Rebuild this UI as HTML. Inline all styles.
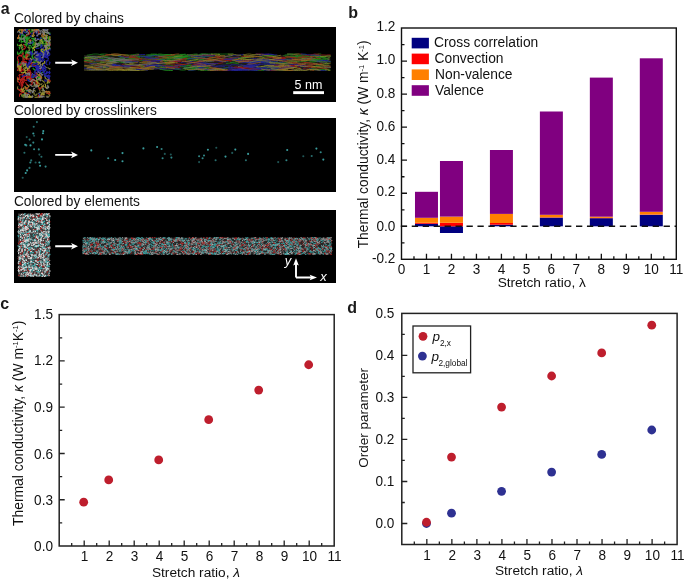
<!DOCTYPE html>
<html><head><meta charset="utf-8"><style>
html,body{margin:0;padding:0;background:#fff;}
svg{display:block;filter:blur(0.3px);}
text{font-family:"Liberation Sans",sans-serif;}
</style></head><body>
<svg width="685" height="582" viewBox="0 0 685 582" font-family="Liberation Sans, sans-serif">
<text x="0.8" y="13.9" font-size="16" font-weight="bold" fill="#1a1a1a">a</text>
<text x="13.9" y="22.7" font-size="13.75" fill="#111">Colored by chains</text>
<text x="13.9" y="114.5" font-size="13.75" fill="#111">Colored by crosslinkers</text>
<text x="13.9" y="205.5" font-size="13.75" fill="#111">Colored by elements</text>
<rect x="14" y="27" width="322" height="75" fill="#000"/>
<rect x="14" y="118" width="322" height="74" fill="#000"/>
<rect x="14" y="210" width="322" height="73" fill="#000"/>
<path d="M55.2 61.75H72.4L71 59.400000000000006L78 62.7L71 66.0L72.4 63.650000000000006H55.2Z" fill="#fff"/>
<path d="M55.2 153.95000000000002H72.4L71 151.6L78 154.9L71 158.20000000000002L72.4 155.85H55.2Z" fill="#fff"/>
<path d="M55.2 245.35000000000002H72.4L71 243.0L78 246.3L71 249.60000000000002L72.4 247.25H55.2Z" fill="#fff"/>
<defs><filter id="bl" x="-5%" y="-5%" width="110%" height="110%"><feGaussianBlur stdDeviation="0.45"/></filter><filter id="bl2"><feGaussianBlur stdDeviation="0.35"/></filter></defs>
<g filter="url(#bl)">
<path d="M28.0 39.7L27.0 39.0L26.2 37.9L27.1 37.0M24.5 35.3L25.7 35.7L25.9 37.0L27.2 37.2L28.1 36.3M18.2 60.8L17.5 61.9L17.7 63.2L17.5 64.2M26.5 57.7L26.7 56.4L25.6 55.6L24.4 56.1L24.0 57.3L23.6 58.5L22.9 59.6M22.7 96.8L21.7 96.0L22.0 94.7L23.3 95.1L24.1 96.1L25.3 96.6L26.5 97.2M44.4 43.8L43.5 42.8L42.3 42.4L41.1 41.8L41.2 40.5L39.9 40.4M34.0 46.3L34.9 47.3L36.1 47.1L37.4 46.6L38.4 45.9L39.1 44.8M47.6 47.7L48.1 48.9L49.3 49.4L50.0 48.6L50.0 49.5M41.6 46.8L40.5 46.1L39.5 45.3L40.3 44.3M37.0 76.5L37.9 77.4L39.2 77.4L39.2 78.7L37.9 78.7M40.0 45.1L41.0 44.2L41.6 43.1L41.9 41.8L40.7 41.4M49.1 36.2L48.7 37.5L48.5 38.8L48.4 40.1L49.6 40.5L49.4 41.8L50.0 42.6M49.3 93.0L50.0 93.6L49.3 94.7L48.3 93.8L47.0 93.4L47.3 92.1L48.6 92.2M35.5 43.3L34.4 42.6L33.7 41.5L32.5 41.1L32.1 42.3L30.8 42.0L30.1 43.1M32.8 52.8L32.7 54.1L32.7 55.4L31.9 56.5L32.8 57.5L33.0 58.7M25.4 41.3L26.4 42.2L27.2 43.2L26.4 44.2L25.1 44.3L23.9 44.7M47.6 44.9L46.8 43.9L45.7 43.2L45.1 44.3L45.4 45.6L44.4 46.4M19.7 63.1L20.8 63.7L21.1 65.0L22.1 65.8L21.3 66.9M33.6 42.2L33.0 41.1L32.8 39.8L34.0 39.4L33.7 38.1L32.4 38.5L31.1 38.5M32.0 45.4L33.2 44.9L34.5 45.1L35.1 43.9L36.4 43.9M18.7 52.6L19.4 53.7L18.4 54.5L17.5 54.0L17.5 52.8L17.5 51.6M39.2 57.8L39.9 58.9L39.6 60.1L38.3 60.5L37.0 60.1L35.7 60.3M32.9 67.8L33.4 69.0L34.7 69.4L35.3 70.5L34.4 71.4M33.9 74.1L34.2 75.3L33.4 76.3L32.5 77.3L33.5 78.2M25.7 51.5L26.5 52.5L25.6 53.4L25.9 54.7L27.0 55.4L28.1 56.0L29.4 56.0M18.7 41.8L19.7 41.0L19.4 39.8L20.3 38.8L19.6 37.7L19.0 36.6M29.1 44.7L28.9 46.0L28.9 47.3L30.1 47.8L29.7 49.0M25.4 39.6L26.7 39.8L28.0 39.6L28.7 38.5L27.6 37.9M22.1 31.4L22.7 30.3L21.6 29.6L20.8 29.5M25.5 43.3L26.5 42.5L26.8 41.2L25.6 40.7M46.3 45.6L47.4 45.1L48.7 45.0L49.7 45.9L48.8 46.8L47.5 46.9M23.9 39.7L23.4 38.5L22.2 38.2L21.2 37.4L20.1 38.2L20.2 39.5M30.1 31.8L29.7 30.6L29.8 29.5L29.8 29.5L28.5 29.5L27.5 29.5L26.3 29.5M23.4 37.9L22.3 38.6L21.4 39.6L20.1 39.4L19.3 38.4L18.9 37.2M25.6 58.2L24.6 57.4L25.1 56.2L26.3 56.4L27.5 55.8L26.8 54.7L27.6 53.6M47.0 36.7L46.5 37.9L45.3 37.5L44.1 37.0L43.3 38.1M46.7 39.9L46.8 41.2L45.5 41.5L44.5 40.7L43.4 41.4L42.3 40.7L41.7 39.5M25.1 38.9L24.7 37.7L25.2 36.5L24.6 35.3M25.7 33.1L25.9 31.8L26.1 30.5L25.4 29.5L24.7 29.5L25.8 29.5M20.8 41.8L22.1 41.8L23.3 41.2L24.3 42.0M29.0 33.7L30.1 33.0L31.0 32.1L32.2 31.6L32.4 30.3L31.3 29.5M28.4 40.9L27.1 41.3L27.1 42.6L26.9 43.9L26.3 45.0L25.0 45.1M36.1 38.9L34.8 38.5L34.3 39.7L35.3 40.4L36.1 41.5M33.6 48.1L32.5 48.7L33.0 49.9L32.5 51.1L32.4 52.4M23.0 50.6L23.0 51.9L22.0 52.8L22.0 54.1M45.8 74.5L45.4 75.7L45.3 77.0L45.2 78.3M22.5 42.3L21.2 42.2L21.4 40.9L21.0 39.7L20.6 38.4L21.6 37.6L21.2 36.3M21.0 36.3L21.9 35.4L23.2 35.8L23.7 34.6L22.4 34.2L22.0 33.0L21.0 32.2M18.1 44.4L17.5 44.4L17.5 45.3L18.4 46.2M40.9 44.5L41.1 45.8L42.4 45.8L42.9 44.6L43.0 43.3L41.7 43.4L41.2 42.2M30.4 54.1L29.2 54.7L28.6 53.6L27.7 52.7L28.4 51.6L29.4 50.7L29.9 49.6M32.7 52.9L31.5 52.2L30.5 53.1L29.2 53.0L29.0 54.3L29.7 55.4M41.4 77.8L40.2 77.3L39.9 76.0L38.6 75.8M45.3 70.7L44.1 71.2L43.4 72.4L42.1 72.5L41.1 73.3M23.0 53.0L23.1 54.3L23.2 55.6L23.5 56.9L22.8 58.0L24.0 58.6M26.9 53.9L27.2 52.7L26.1 52.1L24.8 52.3M29.2 45.8L30.4 45.3L31.2 46.4L31.7 47.6L33.0 47.3L33.7 48.4M25.7 35.9L24.5 35.4L23.3 35.1L22.1 34.7L21.4 33.5L21.8 32.3M23.7 61.7L22.5 61.4L21.4 62.2L20.8 63.4L22.0 63.9L23.0 64.7M48.3 78.4L49.2 79.4L48.9 80.6L50.0 81.3L49.5 82.5L48.4 83.2M25.8 42.6L26.6 41.6L25.8 40.5L26.2 39.3L25.4 38.3L24.7 37.2L23.5 36.8M33.2 44.9L33.2 43.6L32.0 43.1L30.7 43.1M28.0 88.3L26.7 88.3L25.5 89.0L26.1 90.1L27.0 91.1L28.0 90.2L29.2 89.8M26.4 46.6L26.8 45.4L26.7 44.1L28.0 44.1M45.5 31.6L46.1 32.7L47.3 33.2L48.6 33.5L49.7 32.8L50.0 33.6L50.0 34.5M25.6 51.2L26.9 50.9L27.8 51.8L27.3 53.0L26.1 53.5L26.6 54.7L25.9 55.8M31.8 59.0L32.5 57.9L31.9 56.8L32.8 56.0L32.3 54.8L31.2 54.1M26.4 51.5L27.1 52.6L26.3 53.6L26.7 54.8L27.4 55.9L26.9 57.1L26.0 58.0M44.1 36.4L43.5 37.6L42.3 38.2L41.1 37.9L39.8 37.7M39.1 78.9L37.9 79.4L37.1 80.4L37.3 81.7M20.5 32.9L19.9 31.8L19.0 30.8L19.7 29.7L20.9 30.2L21.7 29.5M40.1 42.9L38.8 42.7L38.2 43.9L36.9 43.9L36.6 45.2M22.4 49.8L21.9 51.0L20.7 51.5L20.6 52.8L19.4 53.4L18.9 54.5M40.0 50.0L41.3 50.0L42.6 50.4L43.9 50.5L44.4 51.6L43.7 52.7L42.4 52.4M32.9 57.4L33.5 58.5L34.5 59.3L34.2 60.6L33.5 61.6M27.0 35.5L25.8 36.0L25.5 37.3L26.4 38.3L26.7 39.5L27.6 40.5L26.8 41.5M30.2 52.1L29.0 52.6L27.7 52.6L27.3 51.4L26.6 50.3M20.9 46.2L21.5 45.0L22.6 45.8L22.8 47.0L22.0 48.1L20.8 48.5M19.2 49.7L19.6 48.4L19.1 47.2L20.3 46.7L20.4 45.4L19.8 44.2M31.7 36.9L30.5 37.0L29.2 37.3L29.2 38.6L27.9 38.8L26.6 38.3L25.4 37.9M25.3 38.0L26.4 37.3L27.7 37.3L28.1 38.5M40.0 58.0L39.5 56.8L40.4 56.0L40.9 54.7L42.2 54.9L43.5 54.9L43.7 53.7M44.8 38.6L44.8 37.3L43.5 37.4L42.8 36.3L43.9 35.6M42.5 90.8L43.2 89.7L42.3 88.8L41.7 87.6L40.4 87.8M36.3 57.6L37.0 58.6L38.2 58.2L38.6 59.4L38.1 60.6L38.9 61.6L38.5 62.8M35.7 43.6L35.1 44.8L33.9 45.2L32.6 44.9L33.1 43.7L33.9 42.7L33.1 41.7M34.4 60.4L35.7 60.7L36.0 62.0L34.9 62.6L33.9 61.7" stroke="#229622" stroke-width="1.1" fill="none"/>
<path d="M37.9 93.8L38.9 93.0L40.1 92.4L40.0 91.1L39.5 89.9L39.1 88.7L39.1 87.4M22.2 80.3L21.4 79.3L20.4 80.1L19.5 79.2L18.7 78.1L17.5 78.5L17.5 78.7M41.5 90.4L42.8 90.6L43.5 89.5L42.7 88.5L41.9 87.4L42.7 86.4L44.0 86.4M38.6 60.7L37.5 60.1L37.3 58.8L37.5 57.5M21.4 92.3L22.7 92.5L23.9 92.1L24.7 93.2L25.8 92.7L26.5 93.7M40.7 94.8L39.4 94.8L39.4 96.1L39.2 97.3L38.7 97.3L38.7 97.3L39.7 97.3M22.4 45.5L21.1 45.4L20.8 46.7L21.8 47.6L21.7 48.9L22.6 49.8L23.6 48.9M18.8 67.6L17.7 67.1L17.5 66.9L17.5 67.0M45.1 82.3L43.8 81.9L42.9 81.0L41.9 80.2L40.7 79.7L40.2 80.9M47.1 81.7L48.2 81.0L47.5 79.9L46.5 79.0L45.4 78.4L45.2 77.1L44.4 76.1M33.4 96.7L32.2 96.3L30.9 96.3L29.7 96.8M23.1 96.1L23.6 97.3L23.4 97.3L22.7 97.3L23.8 97.3L24.7 97.3L25.5 97.3M41.6 91.1L42.8 90.6L44.1 90.7L44.3 92.0L43.9 93.2L43.1 94.3L43.6 95.5M49.8 94.6L49.6 95.9L48.3 96.4L47.1 96.2L45.8 96.2M38.6 82.4L39.0 83.6L40.2 84.1L41.5 84.4L42.3 83.3M22.5 90.8L22.1 89.5L23.4 89.3L23.4 88.0L24.7 87.7M22.9 70.2L23.4 69.0L24.2 68.0L25.5 67.5L26.4 68.5M33.7 64.9L34.1 63.7L34.3 62.4L33.0 62.3L31.7 62.7L30.4 62.7L30.3 61.4M22.3 95.6L23.2 96.5L24.0 97.3L23.5 97.3L24.2 97.3L23.9 97.3L22.7 97.1M29.6 80.3L30.5 79.3L29.5 78.5L28.5 79.4M47.6 67.5L48.6 68.2L49.9 68.4L49.6 69.7M26.4 79.4L27.5 78.6L28.7 78.1L29.9 78.3L30.8 77.3L32.0 77.0M39.5 92.8L40.8 92.7L42.1 93.0L43.2 92.3L44.2 93.1L45.2 92.2M35.5 91.7L34.9 90.5L33.6 90.4L32.3 90.3M40.0 38.5L40.0 39.8L39.7 41.1L40.4 42.1L40.6 43.4L41.9 43.6M31.3 93.3L30.2 92.7L29.9 91.4L31.0 90.7L30.5 89.5M35.9 72.1L36.7 73.1L37.5 74.1L38.3 75.2L39.6 74.8L40.3 73.8L41.4 72.9M47.1 67.9L46.0 67.2L45.0 66.4L44.0 65.5M44.8 93.8L43.5 93.3L42.4 92.6L43.1 91.5M29.4 86.6L28.5 85.7L27.3 85.2L26.7 84.0M22.4 63.5L23.2 64.5L23.5 65.8L23.3 67.1M44.9 95.1L43.8 94.4L43.1 93.3L41.9 93.9L41.3 95.0L41.8 96.2L40.8 97.0M35.3 80.9L34.0 80.5L32.7 80.5L32.1 81.6L31.1 82.5M49.4 83.1L49.5 81.8L48.7 80.8L47.5 81.3L48.2 82.4L47.4 83.4M30.8 96.8L30.4 97.3L30.4 97.3L29.1 97.2L27.8 97.3L26.8 97.3M32.5 72.9L32.5 74.2L31.3 74.7L30.2 75.4M32.5 86.4L33.7 86.0L34.7 85.1L34.2 83.9L34.8 82.7L33.6 82.3L32.5 82.9M22.0 89.2L20.9 89.9L19.6 90.3L18.6 89.5L17.6 88.7L17.5 87.5L17.8 86.3M27.1 43.8L28.1 43.0L29.2 42.3L30.1 41.4L29.9 40.1M33.7 94.3L34.7 95.1L36.0 95.5L36.3 94.3L37.5 94.1M20.2 93.9L21.4 94.5L21.9 95.7L23.2 96.2L24.1 95.3L25.2 94.6L26.3 95.3M24.3 86.4L25.5 86.8L25.8 88.0L26.9 88.7M18.0 82.2L17.5 81.4L17.5 80.1L18.7 79.5L19.3 78.4M28.5 51.1L29.3 50.1L29.2 48.8L28.6 47.7L27.5 47.0M17.7 67.9L17.8 66.6L17.5 66.5L17.5 67.7L17.5 67.3M35.0 93.1L33.7 93.1L32.8 92.2L33.5 91.1" stroke="#7a7834" stroke-width="1.1" fill="none"/>
<path d="M35.7 75.7L34.7 76.5L35.4 77.6L36.5 77.0L36.6 75.7M26.3 76.8L27.4 76.1L28.5 76.8L29.8 76.5L30.9 75.8L32.2 75.9M26.0 29.8L24.7 29.7L24.3 30.9L23.0 30.9L22.9 29.6L23.6 29.5M21.1 70.2L21.3 69.0L22.0 67.9L21.0 67.0L19.8 67.4M30.5 84.0L31.6 84.7L32.3 83.7L32.1 82.4L31.0 81.6L30.6 80.4L31.9 80.0M37.3 82.1L36.2 81.4L35.3 80.5L34.0 80.2L32.8 79.9M35.6 82.7L36.5 83.6L36.3 84.9L36.0 86.2M27.8 75.0L28.3 73.8L29.6 74.1L30.4 73.1L31.7 72.8M31.5 64.5L32.4 65.4L33.6 65.9L34.9 65.7L36.1 65.4M38.1 83.9L38.0 85.1L38.1 86.4L38.9 87.5L39.4 88.7M25.6 82.1L26.0 83.3L26.9 84.3L28.2 84.5M18.1 65.5L18.8 66.6L18.4 67.9L18.0 69.1L17.5 70.3L17.5 71.0M19.6 79.5L19.3 78.2L20.0 77.1L19.5 75.9M38.4 34.8L38.4 33.5L39.0 32.3L38.1 31.4L37.1 30.5L36.1 29.7M26.1 64.1L26.1 62.8L24.8 62.9L23.9 62.0L22.8 61.3L23.0 60.1M31.0 65.0L31.0 63.7L31.3 62.5L31.0 61.2L31.5 60.0L32.2 58.9M43.2 87.0L41.9 87.3L40.8 87.9L40.2 89.1L38.9 89.1M32.1 82.6L31.1 81.7L32.0 80.7L33.3 80.5L34.5 81.0M30.9 73.5L29.8 72.8L28.6 72.4L27.4 73.1L26.1 73.0M31.0 77.6L32.0 78.4L32.2 79.7L30.9 79.7L30.7 78.4L29.9 77.4L28.7 77.6M47.9 80.1L49.0 80.9L50.0 81.4L50.0 80.4L49.1 79.5L48.0 80.2L47.2 81.2M47.4 42.6L48.7 42.4L49.4 43.5L49.1 44.7L50.0 45.1L50.0 43.9L48.8 43.4M29.6 71.6L30.1 70.4L29.0 69.8L28.1 70.7M37.2 72.6L37.9 71.5L38.9 70.7L40.2 70.4L40.6 69.2M21.8 89.6L22.2 88.3L21.5 87.3L22.2 86.1L23.2 85.3M29.6 55.0L28.3 54.9L27.0 55.2L26.6 56.4L25.4 57.0M19.1 85.1L19.9 84.1L19.7 82.8L18.6 82.1L18.0 80.9L17.5 80.0M29.3 32.7L29.4 31.4L28.8 30.3L27.5 30.6M24.0 70.7L23.1 69.7L21.9 69.5L20.7 70.0L21.2 71.2L20.2 72.0L19.0 71.7M20.7 80.8L21.0 82.1L21.9 83.0L21.1 84.0L22.1 84.9L22.0 86.2M26.9 80.4L25.6 80.5L24.8 79.5L23.5 79.7L22.2 79.9L21.2 80.7M17.6 78.4L17.5 78.0L17.5 77.6L17.5 76.7L17.5 77.5M38.6 84.9L37.8 85.9L36.8 85.0L37.2 83.8L38.0 82.7L38.0 81.5M23.4 77.0L22.3 77.7L22.5 79.0L23.8 78.8L23.8 80.1L24.4 81.3M18.6 54.6L19.3 55.7L20.5 55.2L21.7 55.1L22.9 54.5L22.7 53.2L24.0 53.0M38.5 96.3L39.8 96.7L40.7 95.9L42.0 96.0L43.2 96.6M49.9 92.2L50.0 93.5L48.9 94.2L48.3 93.0L47.0 93.2L45.8 92.8M21.8 74.6L22.6 75.7L23.1 76.9L22.2 77.7L21.8 79.0L20.5 78.7M21.5 63.0L22.6 62.2L23.6 63.1L24.4 64.1L25.7 64.0L26.4 62.9M27.9 74.4L29.2 74.0L29.4 72.7L30.4 71.9L29.8 70.8L28.6 70.3M20.1 76.1L19.0 75.5L19.7 74.4L21.0 74.7L22.3 74.8L23.1 73.9L23.5 72.7M23.6 75.5L24.1 76.7L24.4 78.0L23.1 78.3M24.4 49.8L23.9 48.6L25.1 48.2L25.5 47.0L24.3 46.3L23.9 45.1L23.0 44.2M36.6 32.5L35.8 31.5L34.8 30.6L35.6 29.6L35.7 29.5L35.0 29.5M19.6 96.7L19.5 95.4L19.7 94.1L20.8 93.5L21.7 94.4M38.9 95.0L38.1 96.0L38.6 97.2L38.8 97.3L37.5 97.3M24.9 80.8L23.8 81.4L22.6 81.9L22.3 83.1M28.9 77.6L27.7 78.1L27.0 77.1L25.9 76.3L24.7 76.8L23.6 76.1L22.9 77.2M18.9 64.0L19.5 65.1L20.7 64.6L21.7 63.8L22.0 62.5L21.5 61.3M30.8 77.1L29.5 77.0L28.3 76.7L27.0 76.7L26.7 77.9L26.9 79.2M29.6 32.5L30.1 33.6L29.0 34.2L27.9 35.0L26.7 35.3L26.1 36.5M25.3 87.1L25.9 88.2L26.2 89.5L27.5 89.3L28.0 88.1M19.3 76.4L19.9 77.5L19.0 78.4L19.6 79.6L20.7 80.3M19.2 65.9L19.4 64.6L18.2 64.0L18.7 62.8L18.5 61.5L18.0 60.3L18.5 59.1M22.7 59.8L23.3 58.6L23.1 57.3L22.0 56.6L21.0 55.7L19.8 56.0M19.8 67.4L20.5 66.3L21.0 65.1L19.8 64.6M29.2 74.4L30.4 74.8L31.7 75.1L32.4 74.0M20.6 89.1L20.2 90.4L20.6 91.6L21.8 92.1L22.9 92.8L23.7 91.8L23.4 90.5M18.5 56.2L17.6 57.1L17.5 57.5L17.5 58.8L18.2 59.9L17.7 61.1M22.3 64.2L21.3 63.3L22.0 62.2L23.2 61.8L24.4 62.2L25.0 61.0M17.6 89.2L18.8 89.6L19.8 90.4L21.1 90.1L22.3 90.3L22.7 91.5M21.9 80.6L22.7 81.6L23.7 82.4L22.9 83.4L22.6 84.7L21.7 85.6L20.4 86.1M27.6 64.2L28.8 63.8L28.8 62.5L30.1 62.4L30.5 63.6L31.8 63.7L33.0 64.1M27.6 53.9L26.3 54.2L26.4 55.4L25.3 56.1M18.5 66.0L18.2 67.2L18.5 68.5L19.5 69.3L20.2 70.4L21.5 70.4L22.2 71.5M29.7 94.2L28.4 94.0L27.1 93.7L26.0 93.0M20.3 82.4L20.5 81.1L20.9 79.9L21.2 78.6M24.0 60.4L24.4 59.2L25.5 58.6L26.5 59.4L27.7 58.9L29.0 59.0L29.3 60.3M43.6 32.1L44.1 33.3L43.4 34.4L44.5 35.1L45.4 36.0M22.8 64.2L22.0 63.2L22.7 62.1L23.6 61.1L24.8 61.4L26.1 61.8L27.1 62.6M36.8 83.7L36.6 82.4L36.2 81.2L36.6 79.9M34.4 75.4L35.7 75.8L36.2 74.6L36.2 73.3L35.4 72.3M27.7 72.0L28.0 70.7L28.3 69.5L29.3 68.6" stroke="#b41c1a" stroke-width="1.1" fill="none"/>
<path d="M39.6 58.5L39.8 59.8L41.0 60.2L41.4 61.4L42.7 61.3L43.6 60.3L44.5 59.3M28.7 59.9L29.8 60.5L30.1 61.8L31.4 62.0M33.0 41.6L32.4 42.8L31.2 43.2L30.0 43.7L28.8 43.3L28.1 44.4M40.4 55.6L40.1 56.8L38.9 56.5L38.4 55.3L39.7 54.9L39.6 53.6M34.9 64.4L35.7 63.4L36.9 63.0L38.0 62.3L37.5 61.1L38.6 60.5M37.9 65.5L37.3 66.7L37.4 68.0L38.7 67.8L39.4 66.8L38.3 66.1L38.0 64.8M19.9 35.6L20.0 34.3L21.1 33.7L22.3 33.2L23.1 34.2L23.1 35.5M41.1 57.7L40.0 57.2L39.6 55.9L40.6 55.1M19.9 63.4L19.1 64.4L17.8 64.4L17.5 64.7L17.5 64.8M42.4 60.5L42.7 59.3L43.4 58.2L42.3 57.5M37.0 30.2L37.6 31.4L36.7 32.4L37.0 33.7L37.1 34.9L37.0 36.2L38.3 36.3M46.3 67.5L45.0 67.3L44.6 66.0L44.0 64.9L42.8 65.5L41.7 66.2L41.0 67.3M48.5 55.7L47.5 54.8L46.6 54.0L45.8 55.0L44.7 54.4L43.4 54.6L42.2 54.0M30.3 66.8L29.3 66.1L28.0 66.3L27.9 65.0M30.7 93.4L29.6 92.6L28.4 92.2L28.4 90.9L28.2 89.7M22.8 30.5L23.5 31.6L24.6 32.2L25.7 32.9L26.8 32.1L27.0 30.9L27.3 29.6M37.6 62.7L38.9 62.7L40.2 62.3L39.9 61.1L39.0 60.1L37.9 59.5L37.7 58.2M38.5 67.6L37.5 66.8L36.5 66.0L35.3 66.6L36.0 67.6L37.1 67.0L36.5 65.9M43.1 56.0L44.1 55.2L43.6 54.0L44.6 53.3L45.2 52.2M40.4 66.0L39.1 66.3L38.0 66.9L36.8 67.4M45.7 60.0L46.6 61.0L46.3 62.3L45.7 63.4L46.6 64.4L47.6 65.1M37.1 53.1L35.8 53.1L36.0 51.8L34.9 51.1L34.3 49.9M36.2 66.2L36.7 65.0L37.3 63.9L37.6 62.6M35.3 72.7L35.0 71.4L35.7 70.3L36.2 69.1L37.4 69.2L38.7 69.6L39.8 68.9M40.8 71.9L39.5 72.0L38.3 71.8L38.2 70.5L37.3 69.6L36.1 69.2M35.5 57.0L36.8 57.3L37.6 56.3L38.7 57.0L39.5 58.1L39.6 59.4L38.6 60.2M47.1 71.0L46.6 72.2L46.4 73.5L45.3 74.1M43.1 67.6L44.2 67.1L43.6 65.9L43.3 64.7L43.3 63.4L44.6 63.2M49.4 61.7L50.0 62.3L49.7 63.5L49.0 64.6M36.0 60.1L34.7 60.1L33.7 59.3L32.6 59.9M42.2 49.4L41.7 48.2L40.5 47.7L41.0 46.5L42.2 45.9L41.6 44.8L40.5 45.5M31.1 55.7L31.6 54.5L31.3 53.2L30.0 53.5L29.8 52.2L30.5 51.1M44.4 52.0L45.4 51.2L45.6 49.9L45.6 48.6M46.4 55.0L45.9 53.8L44.7 54.5L44.4 55.7L44.4 57.0M31.8 73.7L33.1 74.2L34.3 74.5L35.2 73.5L35.0 72.3L33.7 72.0M49.1 51.4L47.9 51.9L47.6 53.2L48.9 53.5M40.7 67.0L41.0 68.3L42.2 68.6L43.3 67.8L44.4 68.6M31.9 63.9L32.4 65.1L32.8 66.3L34.1 66.5L35.4 66.5L35.7 67.7L36.9 68.2M49.0 34.3L50.0 34.5L50.0 33.8L50.0 34.1L50.0 33.8M44.7 72.7L43.4 72.8L42.9 71.6L43.4 70.4L42.2 69.9M39.2 60.8L40.2 59.9L40.8 58.8L42.1 58.9M39.5 48.0L38.3 48.2L37.0 48.2L35.7 48.5M48.4 49.0L49.0 50.1L47.9 50.8L46.7 51.4L46.3 52.6M32.7 65.7L32.4 64.4L33.6 64.0L34.9 63.9M32.5 66.7L31.3 66.1L30.0 66.3L29.5 67.6L28.9 68.7L27.8 68.0L26.5 67.8M42.4 69.2L41.2 68.7L41.4 67.4L42.0 66.2L42.2 64.9M32.2 60.5L31.3 61.5L30.2 62.1L28.9 62.2L29.0 63.4L28.2 64.4M49.7 55.3L49.8 54.0L49.4 52.8L48.2 52.3L48.0 51.0L47.2 50.0M49.0 70.7L49.7 71.8L48.7 72.7L49.6 73.6L50.0 72.7L50.0 72.0M48.3 75.4L47.2 76.1L45.9 76.1L45.7 74.9M46.4 58.0L45.7 56.9L46.5 56.0L47.1 54.8L46.0 54.2L45.1 53.3M40.8 53.5L41.3 52.3L42.5 52.8L43.1 51.7L42.5 50.6L42.3 49.3M42.6 55.6L42.6 56.9L43.9 57.1L44.6 56.1L45.9 56.4M44.0 56.6L45.3 56.4L45.9 57.6L47.2 57.4L48.0 56.4L47.0 55.6L46.6 54.4M39.1 53.3L37.9 53.8L37.1 54.9L35.9 55.4L35.9 56.7L37.1 57.1L37.0 58.4M41.5 66.9L40.4 67.6L39.2 68.2L38.1 68.8L37.4 67.7M47.2 57.8L48.4 58.3L48.0 59.5L47.9 60.8L46.6 60.9M41.8 52.0L42.8 52.8L44.0 53.3L45.1 52.5L46.2 51.9L45.5 50.8M47.4 73.2L46.2 73.8L45.0 73.3L44.6 74.6L44.6 75.9L45.9 76.3M38.5 53.7L37.2 53.8L36.5 52.7L35.3 52.6L35.1 53.9M39.5 70.8L40.7 70.3L42.0 70.5L43.1 69.8L43.7 68.7L45.0 69.0L45.2 67.7M39.8 55.3L39.0 54.3L39.5 53.1L40.7 53.5L41.0 52.2L40.6 51.0M42.7 72.4L43.9 72.0L44.4 70.8L45.6 70.6L45.9 69.3L44.6 68.9M48.8 52.7L47.9 53.6L47.3 54.7L48.4 55.4L49.7 55.4M39.3 57.0L40.6 56.8L40.9 55.5L41.9 54.7L42.1 53.5L42.6 52.2M29.1 82.0L29.0 80.7L27.8 80.2L28.1 78.9M45.6 73.4L46.9 73.6L47.2 72.3L48.5 72.0M46.0 52.6L45.2 53.7L46.3 54.4L47.6 54.3L47.5 53.0M28.4 63.0L29.2 64.0L30.2 63.2L30.5 61.9L31.3 61.0L31.5 59.7M31.0 77.6L32.1 76.9L31.8 75.7L32.6 74.7L31.8 73.7M44.0 58.2L43.7 56.9L42.7 56.0L42.7 54.7L41.8 53.8M42.8 47.1L43.8 47.9L43.4 49.1L42.2 49.5L40.9 49.8M33.8 53.3L32.6 53.7L31.7 54.6L30.6 53.8L30.3 52.5L31.5 51.9L32.0 53.1M30.7 67.4L29.5 67.8L29.1 66.5L27.9 67.1L26.7 66.5L26.8 65.2L26.9 63.9M49.9 76.6L48.7 76.2L47.5 75.7L47.1 76.9L48.2 77.7L49.3 78.4L49.8 79.5M46.3 75.7L47.6 75.9L47.8 77.2L48.9 77.9L50.0 77.4M48.2 74.6L49.1 75.6L50.0 75.9L50.0 76.7M34.2 36.1L33.1 35.3L32.2 36.3L30.9 36.4L30.0 35.5M48.4 48.7L49.6 49.0L50.0 49.4L50.0 48.7L49.5 47.5M39.1 56.3L39.3 55.0L38.0 54.6L37.2 53.6L37.7 52.4L37.5 51.1M29.7 64.9L28.6 64.2L28.0 65.3L26.7 65.0L26.7 63.7L25.5 63.3L24.2 63.5M36.2 32.7L34.9 32.8L34.1 31.8L33.2 32.7L32.1 33.4L31.3 34.4M43.3 53.0L43.0 54.3L43.9 55.1L45.2 55.2M42.0 75.5L42.0 74.2L40.8 73.6L40.4 72.4M41.6 37.5L40.6 38.3L40.1 39.5L38.8 39.4L37.9 38.5L36.7 39.0M39.2 68.7L40.2 67.8L41.3 68.4L42.2 67.5L42.0 66.2L43.1 65.5M21.8 77.2L22.6 76.2L23.7 75.6L24.9 75.0L26.1 74.8L26.6 76.0M28.1 29.7L26.8 30.1L26.5 29.5L26.5 29.5L27.0 29.5M32.3 75.8L32.2 77.1L33.5 77.4L34.3 76.4L35.6 76.5L35.8 75.2L37.1 75.1M41.0 72.2L40.3 71.1L39.1 70.6L37.8 70.7L37.6 72.0L36.6 72.8M38.8 93.1L39.2 94.3L39.8 95.5L39.4 96.7L39.6 97.3L38.5 97.3M49.7 78.1L48.6 78.9L47.6 79.6L46.9 80.8L45.7 81.2L44.7 80.4L45.2 79.2M45.0 31.4L44.6 30.2L44.9 29.5L46.2 29.7L46.9 30.8M40.7 58.7L40.1 57.6L38.8 57.7L38.7 56.4L37.7 55.5M38.4 69.6L37.3 68.9L36.5 69.9L37.5 70.8" stroke="#2222a4" stroke-width="1.1" fill="none"/>
<path d="M33.4 32.2L33.3 33.5L33.3 34.8L32.1 35.4L32.6 36.6L33.9 36.3M30.4 91.7L29.1 91.9L28.6 90.7L29.4 89.6L30.7 90.1M42.6 65.6L42.2 64.4L43.0 63.3L44.3 63.3L44.9 62.1L44.4 60.9M35.4 42.3L35.2 43.6L35.2 44.9L35.3 46.2L34.2 46.8L33.3 47.8L32.5 48.8M39.9 96.1L39.3 97.3L40.4 97.3L41.4 96.4L40.6 95.4M43.9 38.9L44.8 38.0L45.9 38.7L46.4 39.9M25.0 90.4L24.0 91.1L22.7 91.1L21.4 91.5M42.1 87.4L41.8 86.1L43.1 85.8L43.6 84.6M49.0 38.1L50.0 37.8L49.9 36.5L50.0 36.2L50.0 37.5L50.0 38.7L50.0 40.0M47.4 46.9L47.2 48.2L45.9 48.1L45.7 49.3L44.7 50.1L43.4 50.0M47.5 49.7L48.5 48.8L49.4 47.8L50.0 48.7M18.6 67.0L19.4 68.0L20.7 68.2L21.0 66.9L19.9 66.3L18.7 65.7L18.2 64.5M27.0 67.9L28.2 68.4L29.4 67.8L29.3 66.5L30.5 66.1L31.8 66.0M46.2 45.2L47.4 44.6L47.1 43.3L45.9 42.9L46.4 41.7L47.2 40.7M47.6 36.9L46.3 37.0L46.4 38.3L45.1 38.6L44.3 39.6M38.8 83.2L37.5 83.1L37.6 81.8L36.4 81.4L36.9 80.3L36.9 79.0M31.4 30.1L32.7 30.2L34.0 30.2L34.9 29.5M48.3 78.8L47.9 80.1L48.0 81.4L47.6 82.6L46.6 83.5M25.1 70.6L26.3 70.2L27.6 70.0L27.4 68.8L26.7 67.7L26.1 66.5L25.7 65.3M20.9 72.4L22.2 72.9L23.4 72.4L24.7 72.4L24.9 71.2M24.2 88.5L23.0 89.2L22.1 90.1L21.2 89.3L21.2 88.0M44.1 94.8L43.1 94.0L41.8 93.7L41.6 95.0M25.9 67.8L25.0 68.7L24.5 69.9L25.2 71.0L25.0 72.3L26.1 73.1L25.4 74.2M21.0 68.1L19.8 68.7L20.5 69.8L20.3 71.1M35.5 47.5L34.2 47.3L33.6 48.5L34.5 49.5L34.3 50.8M47.8 87.4L46.9 88.5L45.9 87.6L44.9 86.8L45.7 85.8L45.3 84.5L44.6 83.5M44.6 38.2L45.8 38.8L46.2 40.0L47.0 41.0L46.1 41.9M24.3 94.0L25.5 93.6L26.0 94.8L24.7 95.1L23.4 95.0M31.8 96.6L30.6 97.0L29.8 95.9L28.6 96.3L27.3 96.7L26.1 96.8L25.2 97.3M48.8 40.4L48.2 41.6L49.4 42.2L50.0 42.7L49.5 43.8L49.0 45.1M29.5 94.7L29.7 96.0L30.7 96.9L31.2 97.3L32.2 97.3M18.5 70.9L19.6 70.2L19.0 69.1L19.3 67.8L20.6 67.8L20.7 66.5L19.4 66.5M28.0 96.5L29.2 97.0L28.6 97.3L29.4 97.3L30.7 97.2L31.2 97.3M18.6 45.4L19.8 45.7L20.9 44.9L21.7 43.9M24.8 66.1L24.5 64.9L25.7 64.6L25.6 63.3M36.7 96.9L37.7 97.3L36.8 97.3L36.8 97.3L36.1 97.3L34.8 97.2L34.5 97.3M37.7 65.0L38.5 64.0L39.6 63.2L38.8 62.1L37.5 62.2L36.5 61.5M45.5 34.9L44.2 34.7L44.1 33.4L45.0 32.5L44.1 31.6L43.5 30.5L42.8 29.5M43.4 49.3L42.1 49.0L41.2 50.0L41.5 51.2L42.8 51.5L43.0 52.8L44.3 53.0M47.7 35.8L46.8 34.9L45.7 35.7L46.1 36.9L47.3 37.6L46.9 38.8M40.0 84.7L38.8 85.4L38.3 86.5L37.1 86.1L36.7 84.8L35.5 85.2L34.5 84.3M27.2 94.7L27.5 95.9L26.5 96.8L25.2 96.6M45.0 45.8L46.2 45.1L46.9 46.2L46.1 47.2L47.0 48.1M39.3 80.5L38.6 79.4L39.2 78.3L40.5 78.4L41.0 77.2L41.3 76.0M17.9 65.6L17.5 64.9L17.5 65.2L17.5 66.3L18.6 67.0L19.5 67.9M42.3 39.5L41.0 39.5L40.8 40.8L42.0 41.3L42.6 42.4L42.9 43.7" stroke="#a29a2c" stroke-width="1.1" fill="none"/>
<path d="M41.5 60.5L40.8 61.6L40.2 62.7L40.0 64.0L41.0 64.8L40.1 65.7L39.4 66.8M29.7 72.5L29.6 73.8L29.5 75.1L28.2 75.0L26.9 74.9L25.9 75.6M18.4 65.3L17.5 64.8L17.5 64.8L17.5 66.0M32.0 93.0L32.9 92.1L33.7 91.0L33.7 89.7L33.8 88.4L35.1 88.5M35.8 81.0L34.6 80.4L33.8 79.4L32.5 79.6L31.7 80.6L30.9 81.6L29.6 81.4M39.0 39.2L37.7 39.5L36.6 40.2L35.5 40.9L34.9 39.8L35.6 38.7L35.0 37.6M26.1 32.2L27.3 31.6L28.3 32.5L28.6 33.8L27.3 34.1L26.2 34.9M35.3 46.1L36.5 46.4L37.8 46.1L37.6 44.8L36.6 44.0L36.2 42.7M38.0 35.2L38.2 33.9L39.5 33.8L40.6 33.1L41.2 32.0M49.5 39.6L49.7 40.9L48.5 41.4L47.2 41.4L46.3 40.4M47.7 54.7L47.7 53.4L48.4 52.3L47.3 51.8L46.5 50.7L46.6 49.4L46.1 48.2M33.9 55.1L34.2 53.9L35.0 52.8L36.2 52.5L36.2 51.2M38.2 53.9L38.0 55.2L36.7 55.5L35.7 54.8M23.5 40.3L24.8 40.6L24.6 41.9L25.7 42.6M40.8 29.9L41.4 31.0L42.7 31.0L42.6 32.3L43.5 33.2L43.9 34.4L45.2 34.5M46.5 92.2L45.3 91.6L44.4 90.7L43.2 90.1L43.1 88.8L43.1 87.5M26.1 73.0L27.2 73.7L28.3 73.0L29.2 74.0L28.7 75.2M24.1 40.3L24.4 39.0L23.6 38.0L24.5 37.0L25.7 36.5M29.3 84.9L30.6 85.1L31.5 86.0L32.7 86.6M44.5 47.2L45.8 47.6L46.8 46.9L46.7 45.6L47.9 45.3L48.9 46.1M46.4 35.3L46.3 36.6L46.5 37.9L46.5 39.2M48.3 43.7L48.3 42.4L49.2 41.5L50.0 41.0L50.0 41.0L50.0 40.1L50.0 38.9M35.8 44.8L36.5 43.7L37.8 43.8L39.1 43.4L39.2 44.7L38.4 45.7M29.7 57.9L30.7 58.7L31.2 59.9L32.4 59.3M36.6 84.8L37.6 85.5L37.2 86.8L36.0 86.2M48.1 33.5L47.0 32.8L47.0 31.5L47.8 30.5M39.5 30.4L38.5 29.5L38.9 29.5L37.7 29.5L36.8 29.5M41.0 33.3L40.1 34.3L39.1 33.5L38.2 34.4L37.5 35.6L36.3 35.8M34.6 56.3L35.0 57.6L36.0 58.4L37.2 59.0L36.5 60.1L35.2 60.1M47.2 84.8L48.0 85.7L48.2 87.0L48.9 88.1M18.2 39.0L18.6 37.7L19.9 37.8L20.2 39.1L21.4 38.8L22.7 39.1L23.8 38.4M47.5 40.5L46.3 40.1L45.1 40.6L44.7 39.4L43.6 38.7L43.5 37.4M22.7 34.0L22.0 32.9L22.8 31.8L22.9 30.5L24.0 29.9L25.2 29.5L25.7 30.7M33.7 91.9L32.4 91.7L31.5 90.7L30.3 90.2L29.0 90.3L27.7 90.0L26.5 90.3M27.8 95.8L27.3 97.0L26.1 97.3L25.0 96.5L25.9 95.6M39.3 68.5L40.6 68.4L41.5 67.4L40.5 66.5M40.0 79.6L38.9 78.8L37.7 79.2L36.5 78.9L36.3 77.6L37.2 76.7L38.1 75.8M23.7 94.1L25.0 94.0L25.8 95.0L27.1 95.0L28.0 94.1L28.9 95.0M48.6 41.5L48.4 42.7L48.1 44.0L48.3 45.3L49.5 45.7L50.0 44.5L49.9 43.2M32.5 95.4L32.7 96.6L32.4 97.3L31.1 97.3L31.4 97.3M40.6 81.3L40.1 80.1L40.4 78.8L40.9 77.7L40.9 76.4L41.0 75.1M39.0 30.5L37.9 29.8L36.6 30.3L35.7 31.2L34.6 30.4L33.4 30.1L32.4 29.5M49.0 87.3L48.0 86.5L46.8 87.1L46.4 88.3L47.6 88.8M41.2 96.7L42.0 97.3L43.0 96.5L44.3 96.7M43.4 74.5L42.2 75.0L41.4 74.0L40.1 73.5L39.1 72.7L38.3 71.7M50.0 34.0L48.7 33.7L48.4 32.4L47.2 31.9L46.2 32.7L45.0 32.2M24.0 66.2L23.6 65.0L24.3 63.9L23.5 62.9L22.2 63.0L22.1 64.3M47.5 97.0L47.8 97.3L47.1 97.3L46.4 97.3M45.0 44.9L44.1 45.9L45.2 46.6L46.4 46.0M20.9 33.1L19.7 32.8L19.1 31.6L17.8 31.7L17.5 32.7M34.2 85.0L35.0 84.0L34.0 83.2L33.4 82.0M43.1 35.8L43.0 34.5L43.0 33.2L44.0 32.3L45.0 31.5L45.0 30.2M36.8 86.2L36.0 87.2L35.0 86.5L35.4 85.2M30.8 40.3L30.4 41.6L30.2 42.9L29.8 44.1M41.4 57.5L42.7 57.9L43.1 56.7L43.3 55.4L43.4 54.1L44.6 53.8M43.0 31.1L44.1 30.3L43.3 29.5L44.0 29.5M40.8 31.6L39.6 31.1L38.7 30.2L37.4 30.1L36.4 31.0L37.0 32.1L36.3 33.3M44.7 96.9L43.4 96.6L42.2 96.1L40.9 96.3L39.6 96.3L38.5 96.9M44.0 29.6L45.3 30.0L46.4 30.5L47.2 29.5L48.5 29.7M30.2 52.7L28.9 52.4L27.9 53.1L27.1 52.1" stroke="#7c7c7c" stroke-width="1.1" fill="none"/>
<path d="M37.3 29.6L36.2 29.5L35.5 29.5L36.5 29.5L37.7 29.8L38.3 30.9M21.8 30.5L21.8 29.5L21.6 29.5L22.8 29.5M28.1 56.4L26.9 56.9L25.8 57.6L26.5 58.7L27.5 57.9M40.0 74.6L38.7 74.7L39.0 76.0L40.2 75.7L40.5 77.0L41.7 77.5L41.5 78.8M19.5 34.6L18.6 35.6L18.5 36.8L18.9 38.1L17.6 38.5L17.5 37.2M18.0 30.3L19.3 30.6L20.0 29.5L19.5 29.5L20.3 29.5L20.4 29.5M19.0 79.4L17.7 79.4L17.5 78.1L17.5 78.4M41.9 33.6L42.4 34.9L41.6 35.9L42.3 37.0L43.6 37.1L44.0 35.9L44.8 34.9M45.3 92.0L46.4 91.2L47.3 92.1L48.4 91.5L49.4 92.4L50.0 91.4M20.9 30.9L21.7 29.8L22.7 30.6L21.9 31.6L21.1 32.6L22.1 33.3M30.8 39.2L30.9 40.5L29.6 40.5L28.6 39.6M34.3 29.9L34.0 31.2L34.1 32.4L33.5 33.6L33.8 34.9L34.6 36.0M24.9 88.3L25.7 87.4L26.6 88.3L27.7 87.6L28.7 86.7L28.2 85.5" stroke="#b06a24" stroke-width="1.1" fill="none"/>
</g>
<g filter="url(#bl)">
<rect x="84" y="54.8" width="246.5" height="15" fill="#1c1a14"/>
<path d="M87.1 60.0L84.9 59.6M306.2 58.2L304.1 57.8L301.9 57.4L299.7 57.0L297.5 56.7L295.3 56.6L293.0 56.9L290.9 57.3L288.6 57.3L286.4 57.7M290.6 54.9L292.8 54.6L294.9 54.2L297.1 54.0L299.4 54.2M315.2 59.9L312.9 60.0L310.7 60.4L308.5 60.6L306.3 60.3L304.1 59.9M304.5 58.3L302.3 58.7L300.1 59.1L298.0 59.5L295.8 59.9M197.3 65.7L199.5 66.1L201.7 66.4L203.9 66.1L206.1 65.7M176.6 55.0L178.9 55.0L181.2 54.8L183.3 54.4L185.5 54.0M179.4 68.6L177.1 68.4L175.0 68.0L172.8 67.6L170.6 67.9M99.9 54.4L102.1 54.0L104.2 54.0L106.5 54.1L108.7 54.5L110.8 54.9L113.1 54.9M307.7 57.2L305.5 57.5L303.3 57.2L301.2 56.8L298.9 57.0L296.8 57.4L294.6 57.8M179.2 58.3L181.3 58.7L183.5 59.1L185.8 59.0L188.0 58.7L190.3 58.7L192.4 58.3M109.3 54.3L111.4 54.7L113.7 55.0L115.9 55.3L118.0 55.7L120.2 56.1L122.3 56.5M200.4 55.1L198.3 54.7L196.0 54.7L193.8 55.1L191.5 55.2L189.2 55.3L187.1 55.7L184.9 56.1L182.7 56.4L180.5 56.8M236.8 58.9L234.5 58.9L232.3 59.3L230.0 59.4L227.8 59.3L225.6 58.9L223.4 59.1L221.1 58.8L219.0 58.4L216.8 58.0M100.4 61.4L102.7 61.2L104.9 60.8L107.1 61.1L109.3 61.4L111.6 61.3L113.7 61.7L116.0 61.5L118.3 61.4L120.5 61.2M261.1 61.1L258.9 61.5L256.6 61.5L254.3 61.3L252.2 61.7L250.0 62.1L247.7 61.9L245.6 61.5L243.3 61.6M140.9 67.6L143.1 68.0L145.3 68.4L147.5 68.2L149.8 68.0L152.1 68.0M322.8 60.7L320.6 60.5L318.3 60.3L316.1 59.9L314.0 59.5L311.7 59.7L309.4 59.6L307.1 59.5M123.2 65.4L125.3 65.0L127.5 64.6L129.6 64.2L131.8 63.8L134.1 63.7M258.9 57.0L261.1 56.6L263.3 56.2L265.4 55.8L267.7 55.6L269.9 55.3L272.0 54.9M110.0 57.3L107.8 57.5L105.6 57.9L103.4 58.3L101.3 58.6L99.1 59.0M275.8 55.7L273.5 55.8L271.3 55.5L269.0 55.7L266.7 55.4M295.7 57.7L293.6 57.3L291.4 56.9L289.3 56.5L287.1 56.1M295.1 61.3L297.3 61.7L299.6 61.6L301.9 61.5L304.1 61.9L306.2 62.3L308.4 62.7L310.7 62.6M324.6 59.4L326.8 59.8L329.0 59.7M322.8 60.4L320.6 60.7L318.5 61.1L316.3 61.5L314.0 61.8L311.8 61.9L309.6 61.5M134.4 62.4L132.3 62.0L130.1 61.6L127.9 61.2L125.8 60.8L123.6 61.1M146.6 56.3L148.8 55.9L151.0 55.6L153.2 55.3L155.4 55.0L157.6 54.7M218.0 54.2L220.2 54.0L222.5 54.1L224.8 54.0L226.9 54.0L229.1 54.0L231.2 54.0L233.4 54.0M103.8 59.5L101.7 59.9L99.4 59.9L97.1 60.0L94.8 59.8L92.6 60.1L90.4 60.5L88.1 60.3L85.9 60.6L83.7 60.9M140.2 57.5L138.0 57.9L135.8 58.2L133.7 58.6L131.5 59.0L129.4 59.4L127.1 59.6L124.9 59.2M328.7 69.2L326.5 69.6L324.2 69.7L322.0 69.9L319.7 69.7L317.4 69.7L315.3 69.3L313.1 68.9L310.9 68.6M118.5 62.0L120.8 62.1L122.9 62.5L125.2 62.3L127.5 62.3L129.6 62.7L131.9 62.6L134.1 62.2L136.3 61.8L138.5 61.5M146.8 60.0L144.5 60.2L142.3 60.4L140.0 60.4L137.8 60.0L135.6 59.7L133.4 59.5L131.2 59.1L128.9 58.9M187.5 69.8L189.7 70.1L192.0 70.2L194.2 69.8L196.4 69.6L198.6 69.2M92.6 56.9L90.3 56.8L88.1 57.2L86.0 57.6L83.8 58.0M163.0 56.1L165.3 56.2L167.5 56.4L169.8 56.2L172.0 55.9L174.2 55.7L176.4 56.1L178.7 56.1L181.0 56.1L183.2 56.4M303.1 59.3L301.0 58.9L298.8 58.5L296.5 58.7L294.4 59.1M319.5 62.4L321.7 62.0L323.8 61.6L326.1 61.6L328.4 61.6L330.7 61.3M179.5 56.5L181.8 56.4L184.1 56.4L186.4 56.4L188.7 56.3L190.9 56.7L193.1 56.4L195.3 56.8L197.6 56.7M305.7 57.3L307.9 56.9L310.0 56.5L312.2 56.1L314.5 56.3L316.7 56.1L318.9 55.7M170.3 59.2L168.1 59.5L166.0 59.9L163.7 60.2L161.4 60.0L159.3 59.6L157.1 59.2L155.0 58.8L152.8 58.4L150.6 58.0M177.6 57.3L175.3 57.3L173.0 57.2L170.8 56.8L168.7 56.4L166.5 56.0L164.2 55.9L162.0 55.5L159.7 55.6L157.5 55.8M193.5 69.1L195.6 68.7L197.9 68.7L200.2 68.6L202.5 68.5L204.7 68.8L206.9 69.2L209.1 69.4L211.3 69.8M191.7 58.6L193.8 58.3L196.0 57.9L198.2 57.5L200.3 57.1L202.5 56.7L204.8 56.8M155.6 59.1L157.7 59.5L159.9 59.9L162.2 59.9L164.4 60.3L166.5 60.7L168.8 60.7L171.0 61.1L173.1 61.5M283.9 63.2L281.7 62.9L279.5 62.6L277.3 62.3L275.0 62.5L272.7 62.5L270.4 62.7L268.2 62.5L265.9 62.8L263.6 62.9M304.3 61.6L306.5 62.0L308.6 62.4L310.9 62.3L313.1 61.9L315.3 61.6L317.5 61.2L319.6 60.8L321.8 60.4M187.3 65.0L189.6 64.8L191.8 65.2L193.9 65.6L196.2 65.5L198.4 65.9L200.6 65.6L202.9 65.6M193.9 55.1L196.2 55.0L198.4 55.3L200.5 55.7L202.7 56.1L205.0 56.2L207.2 56.0L209.5 55.7M239.1 64.0L236.9 63.6L234.8 63.2L232.6 62.8L230.4 63.0L228.1 63.3L225.9 63.5M321.6 58.8L319.5 59.2L317.3 59.6L315.0 59.5L312.8 59.9L310.5 59.8L308.3 59.5L306.2 59.1L303.9 59.0M159.5 68.9L161.7 69.3L163.9 69.7L166.0 70.0L168.2 70.4L170.5 70.5L172.6 70.5M183.0 57.0L180.8 57.4L178.7 57.8L176.4 57.9L174.2 57.6M184.8 61.4L182.6 61.1L180.4 60.7L178.2 60.3L176.1 59.9L173.8 60.1L171.5 60.3M139.4 59.1L137.1 58.9L134.9 58.6L132.8 58.2L130.5 58.1L128.2 57.9L125.9 57.7L123.8 57.3L121.5 57.1L119.2 57.1M284.8 54.9L287.1 54.9L289.3 54.6L291.5 54.9L293.8 55.1M163.9 61.1L166.0 61.5L168.3 61.7L170.4 62.1L172.7 62.3M327.2 58.4L325.0 58.0L322.9 57.6L320.7 57.2L318.4 57.3L316.1 57.1M284.4 66.6L282.1 66.5L279.9 66.3L277.6 66.6L275.5 67.0L273.3 67.4L271.0 67.3M179.6 66.7L181.9 66.7L184.1 66.3L186.4 66.3L188.5 65.9L190.7 65.5M185.9 58.7L188.2 58.4L190.5 58.5L192.8 58.5L195.1 58.7L197.3 58.8L199.5 59.2L201.7 59.6L203.8 59.9M319.6 56.3L321.9 56.3L324.2 56.2L326.3 55.8L328.6 56.0L330.9 56.2M211.5 67.5L209.2 67.5L206.9 67.4L204.7 67.6L202.5 68.0L200.2 67.9L198.0 67.6L195.8 67.9M312.6 68.6L314.9 68.7L317.0 69.1L319.3 69.3L321.6 69.5L323.7 69.9L326.0 69.8L328.3 70.0L330.6 70.0M129.9 65.7L127.8 66.1L125.6 66.5L123.4 66.9L121.1 66.9L119.0 67.3L116.7 67.5M296.6 56.1L294.3 56.3L292.2 56.7L289.9 56.4L287.6 56.4L285.5 56.0L283.3 55.6M158.0 63.0L160.2 63.4L162.4 63.8L164.6 64.1L166.7 64.5L168.9 64.9L171.1 65.3L173.3 65.1M149.4 57.9L151.5 58.3L153.7 58.7L155.9 59.1L158.0 59.5L160.3 59.5L162.5 59.1L164.6 58.7L166.8 58.4L169.0 58.0M168.3 54.6L166.0 54.5L163.8 54.9L161.6 54.6L159.3 54.7L157.1 54.3L155.0 54.0L152.8 54.0L150.6 54.0M156.1 65.6L158.4 65.5L160.5 65.9L162.7 66.3L165.0 66.2L167.1 66.6L169.4 66.7L171.6 67.1L173.8 67.5M121.8 60.0L119.6 59.8L117.3 59.7L115.0 59.9L112.9 60.3L110.6 60.2L108.3 60.2L106.0 60.0L103.7 59.9L101.5 59.7M134.7 56.9L132.5 57.3L130.3 57.4L128.0 57.6L125.8 58.0L123.7 58.4L121.5 58.8L119.2 58.8L116.9 58.7L114.6 58.8M145.0 58.8L147.3 59.1L149.4 59.5L151.6 59.9L153.9 59.7L156.0 59.3L158.2 58.9M141.4 66.9L143.7 67.1L146.0 67.1L148.2 66.7L150.5 66.6L152.7 66.9L154.8 67.3L157.0 67.7M278.4 63.4L280.6 63.8L282.9 64.0L285.2 64.0L287.5 64.1L289.6 63.7L291.9 63.6M83.8 57.9L86.1 57.8L88.3 58.1L90.5 58.0L92.7 58.3L94.9 58.7L97.1 59.1L99.2 59.5L101.4 59.9L103.5 60.3M92.1 61.2L90.0 60.8L87.7 61.1L85.5 60.8M204.6 68.0L202.4 68.2L200.2 67.8L198.0 67.4L195.8 67.6L193.6 68.0L191.5 68.4M169.9 63.9L167.8 63.5L165.5 63.6L163.3 63.3L161.1 63.6L158.8 63.5L156.6 63.1M197.8 70.2L199.9 69.8L202.1 69.4L204.3 69.0L206.4 68.6L208.6 68.2M156.6 54.3L154.4 54.7L152.2 54.5L150.0 54.9L147.7 55.0M169.7 56.4L171.9 56.8L174.0 57.2L176.2 57.6L178.5 57.6L180.8 57.8L182.9 58.2L185.1 58.5M184.6 68.0L186.7 68.4L188.9 68.8L191.2 68.6L193.4 68.5L195.7 68.4M185.9 69.8L183.7 70.2L181.4 70.1L179.3 69.7L177.1 69.3L174.9 68.9L172.8 68.5L170.5 68.7L168.2 68.7M107.5 59.1L109.7 59.5L111.9 59.8L114.2 59.8L116.4 60.1M295.4 56.2L297.7 56.2L300.0 56.0L302.3 55.9L304.6 55.9L306.8 56.3L309.0 56.0M315.2 58.3L312.9 58.5L310.7 58.8L308.4 58.8L306.3 59.2L304.1 59.6L302.0 60.0L299.7 60.2L297.4 60.3L295.1 60.2M229.9 62.7L232.1 62.3L234.2 62.0L236.5 62.1L238.8 62.2M172.0 54.4L169.8 54.8L167.6 55.2L165.5 55.6L163.3 56.0L161.2 56.4L159.0 56.8L156.8 57.2L154.7 57.5M179.7 56.2L177.4 56.5L175.3 56.9L173.1 57.3L170.8 57.4L168.5 57.4L166.3 57.1L164.1 57.5L162.0 57.8M259.9 67.1L262.2 67.0L264.4 67.4L266.5 67.8L268.8 67.8M120.8 62.2L123.1 62.3L125.2 62.7L127.5 62.6L129.8 62.5L132.1 62.4M100.6 60.4L102.7 60.0L104.9 59.6L107.1 59.9L109.3 60.3L111.5 60.6L113.8 60.4M136.6 65.4L138.7 65.8L141.0 65.6L143.1 65.2L145.4 64.9L147.5 64.6M310.5 55.5L312.6 55.2L314.8 54.8L316.9 54.4L319.1 54.0L321.3 54.0M108.5 56.9L106.3 56.6L104.0 56.5L101.7 56.5L99.4 56.5L97.2 56.9L94.9 56.7L92.8 57.1L90.6 57.5L88.5 57.9M140.0 56.6L137.7 56.6L135.6 57.0L133.3 56.9L131.1 56.6L128.8 56.9L126.7 57.2L124.5 57.6L122.3 57.4L120.0 57.3M127.7 59.6L125.4 59.6L123.1 59.6L120.9 60.0L118.7 60.4L116.4 60.5L114.1 60.4L112.0 60.8L109.7 60.6L107.5 60.5M104.2 55.2L102.0 54.9L99.9 54.5L97.7 54.1L95.5 54.0L93.3 54.1L91.1 54.5L88.9 54.9L86.8 55.3M219.2 58.5L217.0 58.1L214.8 57.7L212.6 58.0L210.4 58.4L208.1 58.3L206.0 58.7L203.7 58.7M272.1 69.3L274.3 69.0L276.6 69.0L278.7 69.4L280.9 69.8L283.1 70.1L285.3 70.5L287.6 70.5L289.7 70.5L292.0 70.4M228.6 61.7L226.3 61.5L224.2 61.1L222.0 60.7L219.7 60.6L217.5 60.2L215.3 60.0L213.1 59.6M133.5 56.4L135.8 56.3L138.0 56.0L140.3 56.1L142.6 56.2L144.9 56.1M313.7 55.5L316.0 55.7L318.1 56.1L320.4 56.3L322.6 56.7M88.7 62.7L91.0 62.8L93.3 63.0L95.5 62.8L97.8 63.1L100.0 62.9L102.2 62.5L104.5 62.6M162.9 57.6L165.1 58.0L167.3 58.4L169.4 58.8L171.7 58.6L173.9 58.9L176.1 59.2L178.3 59.6L180.6 59.7M201.5 66.4L199.2 66.4L197.1 66.8L194.9 67.2L192.6 67.4L190.4 67.3L188.2 67.7L185.9 67.5L183.7 67.5M193.9 56.8L196.0 57.2L198.2 57.6L200.4 57.4L202.7 57.7L205.0 57.6M167.6 58.6L169.7 58.9L172.0 59.1L174.3 59.1L176.6 58.9L178.8 58.5L180.9 58.1L183.1 57.7L185.2 57.4L187.4 57.0M209.4 69.2L211.7 69.4L213.9 69.5L216.2 69.3L218.5 69.2L220.6 68.8L222.8 68.4L225.0 68.0L227.1 67.6L229.3 67.2M277.6 65.2L275.3 65.4L273.0 65.6L270.9 66.0L268.7 65.7L266.5 65.4L264.2 65.1M145.3 60.7L147.5 60.3L149.7 59.9L151.8 59.5L154.1 59.8L156.3 59.5L158.6 59.4L160.8 59.0L163.0 59.3L165.2 59.7M166.8 54.7L169.1 54.5L171.4 54.6L173.5 55.0L175.7 55.4L178.0 55.3L180.1 54.9L182.4 54.9L184.7 55.0L186.9 55.4M276.8 60.4L279.1 60.2L281.2 59.8L283.5 59.5L285.6 59.1L287.9 59.2L290.1 59.6L292.3 60.0L294.4 60.4L296.6 60.8M322.2 58.9L324.4 58.6L326.7 58.6L328.8 58.2M265.6 66.9L267.7 67.3L270.0 67.3L272.2 67.7L274.4 68.1M163.6 58.0L161.5 58.3L159.2 58.6L156.9 58.6L154.8 58.2L152.6 57.8M164.5 59.3L162.3 59.7L160.1 60.0L157.9 59.6L155.6 59.6M115.9 61.6L113.7 61.3L111.5 60.9L109.3 60.7L107.1 60.3L104.8 60.2M139.1 54.2L136.8 54.1L134.7 54.5L132.4 54.7L130.2 55.0L127.9 55.2L125.6 55.2L123.5 54.8M191.4 58.5L189.2 58.1L187.0 58.0L184.7 57.7L182.4 57.7L180.3 57.3M325.6 57.4L323.3 57.3L321.0 57.1L318.8 56.7L316.7 56.3L314.4 56.2M249.0 69.7L251.3 69.6L253.4 69.9L255.6 70.3L257.8 70.5L259.9 70.5L262.1 70.5L264.3 70.5M282.3 59.6L284.5 59.8L286.7 60.2L288.8 60.6L291.0 61.0L293.2 61.4L295.5 61.4M145.3 58.5L143.2 58.9L140.9 58.6L138.8 58.2L136.5 58.4L134.2 58.4L131.9 58.4L129.6 58.3L127.5 57.9M198.0 57.5L195.7 57.6L193.5 58.0L191.4 58.3L189.2 58.6L187.0 59.0L184.8 59.4M324.9 59.2L322.6 59.4L320.5 59.8L318.2 59.8L316.0 59.4M159.6 69.4L161.8 69.6L164.0 70.0L166.2 70.4L168.5 70.2L170.7 70.5L172.8 70.5M97.3 59.5L99.5 59.1L101.8 59.2L103.9 59.6L106.2 59.7L108.5 59.7L110.8 59.6L113.0 60.0L115.1 60.4L117.4 60.6M204.6 56.2L206.9 56.2L209.1 56.6L211.4 56.5L213.5 56.2M246.3 57.8L244.1 58.1L241.8 58.0L239.6 58.4L237.3 58.2L235.1 58.1L232.8 57.7L230.7 57.4L228.4 57.2M253.7 56.2L251.5 56.6L249.3 57.0L247.2 57.4L245.0 57.8L242.8 57.5L240.5 57.2M189.5 57.0L187.3 56.6L185.1 56.5L182.9 56.9L180.6 57.0L178.3 56.9L176.1 56.7L173.9 56.3L171.8 55.9M306.7 54.8L304.4 54.5L302.2 54.7L300.0 54.3L297.8 54.0L295.6 54.0L293.5 54.0L291.3 54.0L289.1 54.0L287.0 54.0M315.7 65.5L318.0 65.3L320.2 64.9L322.3 64.5L324.5 64.1L326.7 63.7L328.8 63.3M326.8 56.5L324.5 56.5L322.4 56.9L320.1 57.2L318.0 57.6L315.7 57.8M265.4 61.8L263.1 61.8L260.8 61.9L258.5 62.0L256.3 62.3L254.0 62.3L251.7 62.5L249.6 62.8M215.6 70.2L213.5 70.5L211.2 70.4L209.0 70.5L206.8 70.5L204.6 70.5L202.4 70.5L200.3 70.5M95.6 59.4L93.3 59.3L91.0 59.4L88.8 59.7L86.6 60.1L84.5 60.5M188.3 56.2L186.1 56.5L183.8 56.5L181.5 56.7L179.4 57.1L177.2 57.5L175.1 57.9M284.9 67.1L282.7 67.0L280.4 66.6L278.2 66.4L276.0 66.0L273.9 65.6L271.6 65.4L269.3 65.2L267.1 65.1M305.3 57.4L303.0 57.4L300.8 57.6L298.6 57.2L296.3 57.1L294.2 56.7L291.9 56.4L289.6 56.5L287.3 56.6L285.0 56.6M160.3 67.6L162.4 67.2L164.7 67.3L167.0 67.1L169.2 66.7L171.3 66.3L173.6 66.3L175.9 66.5L178.2 66.2M189.1 57.8L191.3 58.2L193.5 58.6L195.6 59.0L197.8 59.4L200.1 59.4L202.3 59.7L204.5 60.1L206.7 60.3L208.9 60.7M142.2 66.1L140.0 66.4L137.8 66.8L135.7 67.2L133.5 67.6L131.2 67.5L128.9 67.5L126.7 67.9L124.5 67.7M174.9 65.8L177.0 65.4L179.3 65.3L181.5 64.9L183.8 65.0L186.0 65.3L188.2 65.6L190.5 65.8L192.7 65.6M292.5 61.7L290.2 61.8L287.9 62.0L285.8 62.4L283.6 62.8L281.3 62.7M146.0 54.9L148.3 54.9L150.5 55.2L152.7 55.6L154.9 55.4L157.2 55.4L159.5 55.4M317.4 60.1L315.2 59.8L312.9 59.8L310.7 60.2L308.5 60.2L306.3 60.6L304.0 60.6L301.7 60.4M312.0 57.3L309.7 57.2L307.6 56.8L305.3 56.6L303.1 56.3L300.9 55.9L298.7 55.7L296.5 55.3L294.4 54.9M199.9 54.5L202.1 54.1L204.2 54.0L206.5 54.0L208.7 54.0L211.0 54.0L213.2 54.0L215.3 54.0L217.5 54.0L219.6 54.0M158.2 54.0L160.4 54.0L162.6 54.3L164.9 54.5L167.2 54.5L169.4 54.9L171.5 55.3L173.7 55.7M154.3 55.8L152.1 56.0L149.9 56.4L147.6 56.3L145.3 56.4L143.1 56.8L141.0 57.1M207.9 54.4L205.6 54.1L203.4 54.0L201.1 54.1L198.9 54.5M180.0 54.4L182.2 54.3L184.5 54.6L186.6 54.9L188.9 55.1L191.0 54.7L193.2 54.3L195.4 54.0L197.5 54.0M280.6 62.8L278.4 62.5L276.1 62.3L273.9 62.0L271.7 61.6L269.5 61.5L267.2 61.6M189.4 60.5L191.6 60.2L193.9 60.2L196.1 60.6L198.2 61.0L200.4 61.4L202.7 61.5L204.9 61.7M198.2 67.2L195.9 67.1L193.6 67.1L191.3 67.3L189.2 67.7L187.0 68.1L184.7 68.2L182.5 68.6M110.7 67.4L108.4 67.1L106.2 67.4L104.1 67.8L101.8 67.7L99.5 67.6L97.2 67.5L95.0 67.1L92.9 66.7L90.6 66.7" stroke="#1e881e" stroke-width="0.7" fill="none"/>
<path d="M135.2 59.8L137.4 59.4L139.5 59.0L141.8 59.0L144.1 59.2L146.4 59.1L148.6 58.8L150.7 58.4L152.9 58.0M149.4 61.3L151.7 61.3L154.0 61.3L156.1 60.9L158.4 60.7L160.5 61.1L162.7 61.5M197.0 65.9L199.1 66.3L201.4 66.5L203.7 66.3L205.9 66.0M210.4 55.9L208.3 55.5L206.1 55.1L203.8 55.2L201.6 55.6L199.4 55.4L197.1 55.2L194.8 55.4L192.5 55.3L190.3 55.6M141.0 66.1L138.9 66.5L136.7 66.9L134.6 67.3L132.4 67.7L130.2 68.1L128.1 68.5L125.9 68.9L123.8 69.3L121.6 69.7M255.7 54.1L257.9 54.0L260.1 54.0L262.3 54.2L264.5 54.6L266.8 54.5L269.0 54.2M212.8 59.3L210.6 59.7L208.5 60.1L206.3 60.5L204.1 60.9L201.9 61.1L199.6 61.0L197.4 61.3M279.5 66.0L281.7 66.4L283.8 66.8L286.0 67.1L288.3 67.1L290.5 66.7L292.7 66.3L294.8 65.9M235.6 68.9L233.5 69.3L231.3 69.7L229.2 70.1L227.0 70.5L224.7 70.5L222.4 70.4M286.2 58.4L283.9 58.6L281.7 59.0L279.6 59.3L277.3 59.2L275.0 59.1L272.8 58.9M303.1 66.5L305.3 66.8L307.5 67.2L309.8 67.3L312.0 67.5L314.3 67.7L316.4 68.1L318.7 67.9L321.0 67.9L323.3 67.6M175.1 64.1L172.8 64.0L170.5 64.0L168.2 64.1L166.0 64.4M232.5 58.3L230.4 58.7L228.1 58.7L225.9 58.3L223.7 57.9L221.4 58.0L219.2 57.6L217.1 57.3M136.9 67.8L139.2 67.7L141.4 67.3L143.5 66.9L145.8 66.9L148.1 67.2L150.3 66.9L152.6 66.7L154.8 66.5M185.0 64.2L182.8 64.6L180.7 65.0L178.5 65.4L176.4 65.8L174.2 66.2M234.3 67.0L236.5 66.8L238.7 67.2L240.9 67.5L243.2 67.6L245.4 67.5L247.7 67.8M250.1 68.9L252.4 68.8L254.7 68.9L256.9 69.3L259.0 69.7L261.2 70.1M302.4 54.2L300.1 54.0L297.9 54.0L295.6 54.2L293.5 54.6M313.7 66.5L311.4 66.4L309.1 66.4L307.0 66.0L304.7 66.1M328.1 69.0L325.8 68.8L323.6 68.4L321.5 68.0L319.3 67.7L317.1 67.4M304.4 62.5L306.5 62.9L308.7 63.3L310.8 63.7L313.0 64.1L315.3 64.0L317.6 64.2L319.8 64.6L322.1 64.7L324.2 65.1M166.4 58.4L164.2 58.1L161.9 58.0L159.7 58.3L157.5 58.7L155.3 59.0M141.7 69.0L143.9 69.4L146.1 69.2L148.3 68.8L150.5 68.4L152.8 68.5L154.9 68.1M209.8 63.7L212.1 63.7L214.4 63.6L216.7 63.7L218.9 63.4L221.2 63.1L223.3 62.7M301.8 56.0L304.1 56.0L306.3 55.6L308.4 55.2L310.6 54.8L312.8 54.4L314.9 54.0L317.2 54.2L319.4 54.0M280.6 67.4L282.8 67.0L284.9 66.6L287.1 66.2L289.3 66.0L291.6 66.1L293.8 66.5L295.9 66.9L298.2 67.1L300.4 67.5M179.4 68.0L177.2 67.6L175.1 67.2L172.9 66.8L170.7 66.5L168.5 66.2L166.3 65.8L164.2 65.4L161.9 65.5M250.3 55.9L248.1 56.3L246.0 56.7L243.8 56.4L241.5 56.5M215.1 60.0L212.9 60.3L210.6 60.2L208.5 59.8L206.2 60.0L204.0 60.4M315.0 55.3L317.2 55.0L319.5 55.2L321.7 54.9L324.0 55.0L326.3 55.2L328.5 54.8L330.7 55.0M231.3 59.6L233.5 59.9L235.8 60.1L238.0 60.3L240.2 60.7L242.5 60.5L244.7 60.7L246.9 60.3L249.2 60.5L251.3 60.1M262.7 60.1L260.5 59.7L258.3 59.8L256.0 60.0L253.7 60.2L251.5 60.4L249.3 60.8L247.0 60.7M105.5 54.4L107.8 54.5L110.0 54.7L112.2 54.4L114.4 54.0L116.6 54.2L118.9 54.4L121.1 54.7L123.4 54.7L125.6 55.1M181.4 60.4L179.3 60.8L177.1 61.2L174.8 61.4L172.7 61.8L170.5 62.1L168.3 62.5L166.1 62.9L163.8 62.9M121.8 65.8L119.6 66.1L117.4 66.5L115.3 66.9L113.1 67.3L110.9 67.7L108.8 68.1M135.4 57.4L133.1 57.5L130.9 57.9L128.6 57.8L126.4 57.4L124.2 57.6M181.3 64.7L179.1 65.0L177.0 65.4L174.8 65.8L172.6 66.2L170.5 66.6L168.3 67.0M311.4 59.2L309.2 59.5L307.1 59.9L304.9 60.2L302.7 60.6L300.4 60.5L298.3 60.1L296.0 60.1L293.7 59.8L291.6 59.4M102.5 66.1L100.3 66.5L98.2 66.8L95.9 66.9L93.6 67.1L91.4 67.5M138.1 57.4L135.9 57.0L133.7 56.7L131.5 56.4L129.3 56.0L127.1 56.3L124.8 56.0L122.7 56.4L120.5 56.8M238.0 68.0L240.1 68.4L242.4 68.6L244.5 68.2L246.7 67.8L249.0 68.0L251.2 67.7L253.4 67.4M311.4 59.7L309.2 60.0L306.9 60.0L304.7 59.6L302.4 59.6L300.1 59.7L297.9 59.5L295.7 59.2L293.4 59.1L291.1 59.0M317.1 63.5L314.8 63.4L312.5 63.3L310.4 62.9L308.2 62.5L305.9 62.6L303.7 62.8L301.4 63.2L299.3 63.6L297.1 63.9M173.0 60.5L175.3 60.4L177.5 60.1L179.7 59.7L181.8 59.3L184.0 58.9L186.2 58.5M92.6 63.3L90.5 62.9L88.3 62.5L86.2 62.1L84.0 61.7M141.7 65.0L139.4 65.1L137.3 65.5L135.1 65.9L132.8 65.9L130.6 65.5L128.4 65.3L126.1 65.3L123.9 64.9L121.8 64.5M284.5 59.6L282.3 59.2L280.1 59.0L277.9 58.6L275.7 58.4L273.5 58.0L271.3 57.6L269.2 57.2L266.9 57.0M224.6 59.3L222.4 58.9L220.2 58.5L218.1 58.1L215.9 57.8L213.6 57.7L211.3 57.5L209.0 57.6M311.1 65.0L313.3 64.8L315.5 64.4L317.7 64.0L319.8 63.6L322.0 63.2M122.5 60.3L124.8 60.2L126.9 60.6L129.2 60.5L131.5 60.7L133.6 61.1L135.9 61.3L138.1 61.0L140.4 60.9M285.2 57.9L282.9 58.0L280.6 57.9L278.4 57.5L276.1 57.5L273.9 57.7L271.7 57.3L269.4 57.5M239.6 59.2L237.3 59.4L235.2 59.8L233.0 60.2L230.8 59.9L228.6 59.5L226.4 59.1L224.2 59.4L222.0 59.8M287.9 64.2L290.1 63.9L292.3 63.5L294.6 63.6L296.8 63.9L298.9 64.3L301.2 64.2L303.4 63.9L305.6 63.5M242.0 67.9L239.7 68.1L237.4 67.9L235.2 67.6L233.0 67.3L230.9 66.9M294.8 66.4L296.9 66.1L299.1 65.7L301.3 65.3L303.4 64.9L305.7 65.0L307.9 65.4L310.2 65.1L312.3 64.7M323.7 66.5L326.0 66.4L328.3 66.3L330.6 66.5M278.1 60.8L275.9 60.4L273.6 60.3L271.4 60.0L269.2 59.7L267.0 59.3L264.8 59.0M134.5 60.1L132.2 60.0L130.0 59.8L127.8 60.2L125.6 60.5L123.3 60.3L121.0 60.5L118.7 60.4M284.8 58.0L282.6 58.3L280.4 58.7L278.2 58.9L276.0 59.3L273.7 59.2M200.1 64.9L197.8 65.0L195.5 65.1L193.2 65.2L191.0 65.6M138.7 65.1L136.5 65.4L134.2 65.6L132.1 66.0L129.9 66.4L127.8 66.8L125.6 67.2L123.3 67.0L121.2 66.6M188.8 64.0L186.6 64.4L184.3 64.4L182.0 64.4L179.8 64.0L177.7 63.6L175.5 63.2M162.1 62.8L159.8 63.1L157.6 63.4L155.4 63.7L153.1 63.7L150.9 63.4L148.6 63.3L146.4 63.7L144.3 64.1L142.1 64.5M129.0 57.0L131.2 57.4L133.3 57.8L135.5 58.2L137.7 58.6L139.8 58.9L142.0 59.3M222.2 61.2L220.1 60.8L217.9 60.4L215.6 60.4L213.5 60.0L211.2 60.2L209.0 60.6L206.7 60.6M282.0 61.5L284.2 61.1L286.3 60.7L288.5 60.3L290.7 59.9L293.0 60.0L295.1 59.6L297.4 59.7M231.1 60.8L228.8 60.7L226.6 60.5L224.4 60.1L222.2 59.9L220.0 60.3L217.8 60.7L215.6 60.8L213.3 61.0M216.1 59.3L218.3 58.9L220.5 59.2L222.7 59.6L224.8 60.0L227.0 60.4L229.1 60.8L231.3 61.1M286.0 56.8L288.3 57.0L290.6 57.1L292.8 57.5L294.9 57.9L297.2 58.0L299.5 58.1L301.7 57.8L303.9 57.4M256.7 69.3L254.4 69.2L252.3 69.6L250.0 69.5L247.8 69.2L245.6 68.9L243.4 68.5L241.2 68.2L238.9 68.1L236.8 67.7M186.0 60.5L183.9 60.8L181.7 61.2L179.5 61.6L177.3 61.5L175.1 61.1L172.9 60.7M284.6 66.4L286.7 66.0L289.0 66.1L291.2 65.7L293.4 65.9L295.7 65.6M166.5 60.5L168.6 60.9L170.8 61.2L173.0 61.6L175.3 61.5L177.6 61.4L179.8 61.7M284.6 66.2L286.8 66.3L289.0 65.9L291.1 65.5L293.3 65.1L295.5 64.7L297.8 64.7L299.9 64.3L302.2 64.4L304.4 64.0M229.8 57.9L232.1 57.8L234.4 57.7L236.5 57.3L238.7 56.9M143.7 66.1L145.8 65.7L148.1 65.9L150.3 66.3L152.4 66.7L154.6 67.1M174.0 60.2L176.2 60.5L178.4 60.1L180.5 59.7L182.7 59.3L184.9 58.9L187.0 58.5M194.5 64.2L196.8 64.4L199.1 64.5L201.3 64.8L203.4 65.2L205.6 65.6L207.8 65.9L210.0 66.2L212.3 66.1M238.3 67.6L240.5 67.3L242.8 67.5L245.0 67.2L247.3 67.5L249.4 67.8L251.7 68.1L253.8 68.5L256.0 68.8L258.3 68.6M276.6 65.8L278.8 66.2L281.0 66.4L283.3 66.4L285.5 66.8L287.8 66.7L289.9 66.3L292.1 66.0M155.1 56.8L157.3 57.2L159.6 57.1L161.8 56.7L163.9 56.3L166.1 55.9L168.2 55.5L170.5 55.7L172.7 55.3L174.9 55.0M201.5 64.4L199.4 64.0L197.1 64.2L195.0 64.6L192.8 65.0M143.1 61.3L145.2 60.9L147.4 60.5L149.6 60.2L151.8 59.8L154.1 59.7L156.4 59.6L158.5 60.0L160.7 60.4L162.8 60.8M288.3 62.4L290.6 62.3L292.7 62.7L295.0 62.9L297.2 62.7M298.1 57.2L300.4 57.1L302.7 57.0L304.9 57.4L307.2 57.4L309.3 57.0L311.5 56.7L313.8 56.4M271.6 65.2L273.8 65.6L276.1 65.8L278.3 65.6L280.5 65.2L282.6 64.8L284.8 64.4M175.1 62.9L172.9 62.5L170.8 62.1L168.5 62.1L166.3 62.5L164.2 62.9L161.9 63.1L159.6 63.2M197.6 64.7L199.8 65.1L201.9 65.5L204.2 65.3L206.5 65.3M180.4 66.7L178.2 67.1L176.1 67.5L173.8 67.4L171.5 67.6L169.3 67.3L167.2 66.9L165.0 66.5M215.5 60.2L213.3 59.9L211.1 59.5L208.9 59.1L206.7 58.9L204.5 58.5L202.3 58.3L200.0 58.5L197.8 58.9M220.5 56.8L218.3 56.4L216.1 56.1L213.9 55.7L211.8 55.3L209.5 55.5L207.3 55.8M105.0 69.2L107.2 69.1L109.5 69.4L111.6 69.8L113.9 69.7L116.2 69.7L118.4 69.3L120.7 69.2L122.9 69.0M277.1 70.1L275.0 70.5L272.8 70.5L270.6 70.5L268.4 70.2M295.6 57.3L293.3 57.3L291.0 57.3L288.8 56.9L286.5 57.0L284.4 57.4L282.1 57.3L279.8 57.2M314.0 70.4L311.8 70.0L309.6 69.6L307.5 69.3L305.3 68.9L303.2 68.5M192.7 62.6L195.0 62.4L197.3 62.4L199.5 62.1L201.7 61.7L203.9 61.8M109.4 60.4L107.1 60.1L104.8 60.0L102.5 60.1L100.4 59.7L98.1 59.7L95.8 59.4L93.6 59.2M93.5 60.6L91.3 60.2L89.1 59.8L87.0 59.4L84.7 59.3M284.3 65.2L282.0 65.4L279.8 65.2L277.6 64.8L275.4 65.1L273.2 65.4L270.9 65.6L268.6 65.6L266.5 65.3" stroke="#a41a18" stroke-width="0.7" fill="none"/>
<path d="M124.5 66.6L126.7 66.9L128.9 67.3L131.0 67.7L133.3 67.8M128.1 69.8L130.3 70.2L132.6 70.2L134.9 70.1L137.0 70.5L139.2 70.5M106.2 69.6L104.0 69.9L101.9 70.3L99.6 70.3L97.4 69.9L95.1 69.7L92.9 69.9L90.6 69.6L88.4 69.2L86.3 68.9M292.1 70.2L294.3 70.5L296.6 70.5L298.7 70.1L300.9 69.7L303.2 69.8L305.3 70.2L307.6 70.0M233.2 60.2L235.4 60.6L237.6 60.8L239.8 61.2L242.1 61.2L244.2 60.8M261.7 69.0L263.9 69.4L266.2 69.3L268.4 69.6L270.6 69.4L272.9 69.1L275.2 69.1L277.5 69.0L279.7 69.2M253.2 60.0L255.4 59.8L257.7 59.7L259.9 59.4L262.1 59.7L264.4 59.7L266.6 60.1L268.9 59.9L271.0 59.5L273.2 59.2M109.4 58.3L111.6 58.0L113.9 58.3L116.0 58.7L118.3 58.5L120.5 58.8L122.8 58.8L124.9 58.4M238.0 66.6L240.1 66.2L242.3 65.9L244.6 66.0L246.7 66.4L249.0 66.3L251.3 66.6L253.5 66.8L255.8 66.6L257.9 67.0M214.3 60.9L212.2 61.3L209.9 61.5L207.6 61.6L205.5 61.2L203.2 61.1L201.0 60.8L198.7 60.6M231.8 69.2L234.0 69.6L236.2 69.8L238.4 69.5L240.6 69.1L242.9 69.0L245.0 69.4L247.2 69.8L249.4 70.2M290.5 65.5L288.4 65.9L286.2 66.3L284.1 66.7L281.8 66.9M91.1 64.7L93.3 65.0L95.5 65.4L97.7 65.8L99.8 66.2L102.0 66.6M118.6 67.3L116.4 66.9L114.1 67.0L111.9 67.1L109.7 66.8M101.1 60.3L103.3 60.7L105.5 61.0L107.6 61.4L109.8 61.8L111.9 62.2L114.2 62.0L116.4 62.4L118.7 62.4M113.7 66.8L111.5 66.4L109.3 66.1L107.2 65.7L105.0 65.3L102.8 64.9L100.6 65.2M115.2 59.4L113.0 59.2L110.8 58.9L108.5 59.0L106.3 59.4L104.1 59.8L102.0 60.2M133.1 63.0L130.9 62.6L128.7 62.2L126.6 61.8L124.3 62.0M109.3 69.7L107.1 69.5L104.9 69.2L102.6 69.0L100.4 69.2L98.1 69.4L95.8 69.2L93.6 69.6L91.4 69.3L89.1 69.3M125.0 59.7L127.2 60.0L129.5 60.2L131.7 59.9L134.0 60.0L136.3 59.8L138.6 59.7M211.7 70.0L213.8 69.6L216.0 69.2L218.3 68.9L220.6 68.9M104.8 64.7L107.0 64.3L109.1 63.9L111.4 64.0L113.6 64.4M110.3 65.3L108.1 65.6L105.9 66.0L103.8 66.4L101.6 66.8L99.5 67.2L97.3 67.5L95.1 67.9M109.7 61.4L111.9 61.1L114.0 60.7L116.3 60.4L118.4 60.0L120.6 59.6L122.8 59.9L125.0 60.3L127.1 60.7L129.3 61.0M111.1 66.0L113.3 65.7L115.5 65.3L117.8 65.4L120.1 65.5M200.3 64.8L202.4 65.2L204.6 65.6L206.8 66.0L209.0 65.7L211.2 65.3L213.4 64.9L215.5 64.6M110.2 58.3L108.0 58.0L105.9 57.6L103.7 57.2L101.4 57.4L99.2 57.1L96.9 57.3L94.8 57.7L92.6 58.0L90.5 58.4M148.7 64.5L151.0 64.7L153.1 65.1L155.3 65.5L157.5 65.9L159.8 65.9L162.0 65.9M204.7 63.0L207.0 63.3L209.2 63.6L211.4 63.9L213.7 63.8M173.5 58.6L175.7 58.2L178.0 58.4L180.1 58.8L182.4 59.0M100.6 57.5L98.4 57.3L96.2 56.9L94.0 56.5L91.7 56.5L89.4 56.4L87.3 56.8L85.1 57.2M124.7 61.1L122.4 61.0L120.2 60.7L117.9 60.4L115.6 60.3L113.4 60.6M327.3 60.1L329.5 59.7M266.3 62.1L268.5 62.5L270.6 62.9L272.8 63.3L275.1 63.3M212.4 68.4L214.7 68.3L217.0 68.3L219.3 68.5L221.4 68.9L223.6 69.3M122.8 62.9L125.1 62.8L127.3 62.6L129.6 62.3L131.7 61.9M203.3 65.7L201.1 66.1L198.8 66.3L196.7 66.7L194.4 66.7L192.2 67.1L189.9 67.3L187.8 67.7L185.6 68.1L183.4 68.4M236.0 60.7L238.2 61.1L240.5 61.0L242.7 61.4L244.8 61.8L247.0 62.2L249.2 62.6L251.5 62.6M107.9 60.6L110.0 61.0L112.2 61.4L114.3 61.8L116.5 62.2M112.3 61.4L114.5 61.0L116.7 60.6L118.8 60.2L121.0 59.9L123.2 59.5L125.5 59.6L127.8 59.5L129.9 59.9L132.1 60.3M129.3 61.9L127.0 62.0L124.8 61.7L122.7 61.3L120.5 60.9L118.3 60.5L116.2 60.1L114.0 59.7L111.9 59.3M309.6 60.0L311.9 60.1L314.1 60.5L316.3 60.9L318.4 61.3L320.6 61.7L322.7 62.1L325.0 62.0L327.2 62.4M129.8 65.1L132.1 65.0L134.4 65.2L136.6 64.9L138.8 64.7L141.1 64.7L143.4 64.7L145.7 64.5L147.9 64.1L150.2 64.0M213.1 69.5L210.8 69.5L208.6 69.8L206.4 69.5L204.1 69.3L201.8 69.4L199.6 69.0L197.5 68.6L195.3 68.2M212.7 54.6L210.4 54.8L208.2 54.7L205.9 54.8L203.6 54.6L201.4 54.2M117.1 62.6L115.0 63.0L112.8 63.4L110.6 63.7L108.3 63.7L106.0 63.6M324.2 67.4L326.5 67.3L328.7 67.6L331.0 67.4M108.1 58.4L110.2 58.0L112.5 57.9L114.7 58.3L116.9 58.7L119.1 59.1L121.2 59.4L123.4 59.8L125.7 60.0M146.3 65.4L148.5 65.7L150.7 66.1L152.9 66.0L155.1 65.6M281.2 67.5L278.9 67.6L276.7 67.5L274.5 67.2L272.3 66.8L270.1 66.4L267.9 66.1L265.6 66.2L263.4 66.6L261.1 66.6" stroke="#6c6c6c" stroke-width="0.7" fill="none"/>
<path d="M199.4 69.6L197.2 69.4L195.0 69.8L192.8 70.2L190.5 70.2L188.4 70.5M257.6 61.8L259.9 62.0L262.0 62.4L264.3 62.2L266.6 62.1L268.8 62.5L270.9 62.9L273.2 62.8L275.5 62.5M259.0 63.4L261.1 63.0L263.4 63.0L265.7 63.2L268.0 63.3L270.2 63.5M188.2 55.3L190.3 55.7L192.5 56.1L194.8 56.2L196.9 56.6L199.2 56.9L201.4 56.5L203.6 56.8M142.0 60.0L144.3 60.2L146.6 60.3L148.8 60.7L150.9 61.1L153.2 60.8L155.4 60.5L157.7 60.5L160.0 60.7L162.1 61.1M112.5 64.4L114.7 64.7L116.9 65.1L119.2 65.0L121.4 65.4L123.7 65.5L125.9 65.2L128.2 65.4L130.4 65.7M240.4 58.0L238.2 57.7L236.0 58.0L233.7 58.0L231.5 58.4L229.4 58.8L227.1 59.0L224.8 59.0M257.2 67.3L259.4 67.7L261.7 67.8L264.0 67.6L266.1 67.2L268.3 66.8L270.5 66.4L272.7 66.2L274.9 65.8M246.6 64.3L248.9 64.2L251.0 64.6L253.2 65.0L255.4 65.3M258.0 62.8L260.2 62.4L262.3 62.0L264.6 61.8L266.8 61.4L268.9 61.0L271.2 61.3L273.3 61.7L275.6 61.6L277.9 61.4M205.0 68.3L202.9 67.9L200.7 67.5L198.6 67.1L196.4 66.7L194.1 66.6M264.0 68.0L266.2 68.4L268.3 68.8L270.6 68.5L272.9 68.6L275.1 68.8L277.3 69.2L279.4 69.6L281.7 69.8L283.9 70.2M241.6 68.6L239.4 68.3L237.1 68.2L234.9 67.8L232.7 67.4L230.6 67.0L228.4 66.6M209.5 65.8L211.7 65.8L214.0 66.1L216.1 66.5L218.3 66.9L220.6 66.8L222.8 66.6L225.1 66.8M90.1 59.3L92.4 59.1L94.7 59.0L96.8 59.4L99.0 59.8L101.2 60.1L103.4 60.3L105.7 60.2M278.2 62.5L280.5 62.5L282.6 62.9L284.8 63.3L286.9 63.7L289.1 64.1L291.4 64.3L293.5 64.7L295.8 64.7L298.1 64.5M247.5 59.5L249.8 59.3L251.9 58.9L254.1 58.5L256.4 58.6L258.5 59.0L260.7 59.4L262.8 59.8L265.0 60.2M265.9 69.5L263.7 69.1L261.5 69.3L259.2 69.6L257.1 70.0L254.8 69.9L252.6 69.5L250.4 69.7M198.5 61.7L200.6 62.1L202.8 62.5L205.0 62.9L207.1 63.3L209.3 63.7L211.6 63.8L213.7 63.4L216.0 63.6L218.3 63.4M252.8 63.1L250.5 63.2L248.3 62.8L246.1 62.4L243.9 62.5L241.6 62.7M296.9 65.7L299.0 66.1L301.2 66.5L303.4 66.8L305.6 67.2M135.4 69.6L137.6 69.3L139.7 68.9L141.9 68.5L144.1 68.1L146.3 67.9M157.8 65.8L155.5 65.5L153.4 65.2L151.1 65.4L148.9 65.7L146.8 66.1M234.4 60.0L232.2 59.6L229.9 59.5L227.6 59.4L225.3 59.4L223.2 59.8M222.9 70.1L225.1 70.5L227.4 70.4L229.5 70.0L231.8 69.8L234.1 69.8L236.3 70.1L238.6 70.1L240.9 70.1L243.1 69.7M293.3 59.0L291.0 58.8L288.8 59.2L286.7 59.6L284.4 59.4L282.1 59.5L279.8 59.6L277.7 60.0M263.4 70.0L265.6 70.3L267.8 70.5L270.0 70.2L272.2 69.8L274.5 70.0L276.6 69.6L278.9 69.6M156.0 58.7L153.8 59.0L151.5 58.8L149.3 58.4L147.2 58.0L144.9 57.8M259.1 67.2L256.9 66.8L254.7 66.4L252.5 66.1L250.3 66.4L248.1 66.1L246.0 65.7L243.8 65.3L241.6 64.9M320.7 55.7L318.5 55.4L316.2 55.3L314.0 54.9L311.8 55.1L309.6 54.8L307.3 54.6L305.2 54.2L303.0 54.0L300.8 54.0M257.8 66.0L255.5 66.1L253.2 66.0L251.0 65.6L248.7 65.6M90.7 69.2L88.6 68.8L86.4 68.4L84.1 68.4M255.7 54.1L258.0 54.3L260.3 54.3L262.5 54.0L264.8 54.2L267.0 54.0L269.2 54.0L271.5 54.3L273.6 54.6M147.4 62.7L149.6 62.4L151.8 62.7L153.9 63.1L156.2 63.2L158.4 62.9L160.6 63.1L162.9 63.0L165.1 63.4M112.5 64.8L114.7 65.1L116.9 65.5L119.0 65.9L121.2 66.3L123.4 66.7L125.6 66.8L127.9 66.7L130.2 66.7M151.3 68.6L153.5 68.8L155.8 68.9L158.0 68.5L160.2 68.7L162.5 68.6L164.7 69.0M294.8 67.5L292.6 67.1L290.4 66.7L288.1 66.9L285.9 67.3L283.8 67.7M215.9 55.2L213.7 55.6L211.5 56.0L209.2 56.0L207.0 56.2L204.7 56.3L202.5 55.9L200.4 55.5L198.1 55.3L195.9 55.7M249.3 67.9L251.4 67.5L253.7 67.8L255.9 68.1L258.0 68.5L260.3 68.3L262.6 68.5L264.7 68.9L267.0 69.1M251.6 65.8L249.4 66.1L247.2 66.5L245.1 66.8L242.9 67.2M271.2 61.8L268.9 61.8L266.7 61.4L264.4 61.3L262.3 61.7L260.0 62.0L257.8 61.7L255.5 61.9L253.3 62.2L251.1 62.4M159.3 61.9L157.1 62.3L155.0 62.7L152.8 63.0L150.6 63.4L148.5 63.8L146.3 64.2L144.0 64.4L141.9 64.8L139.6 64.7M239.2 69.8L236.9 69.6L234.7 69.2L232.6 68.8L230.4 68.4L228.2 68.0M224.1 56.7L226.2 56.3L228.5 56.3L230.7 55.9L232.8 55.5L235.0 55.1L237.2 55.4L239.4 55.0L241.6 54.6L243.8 54.2M185.8 66.3L183.6 66.0L181.5 65.6L179.2 65.3L177.0 64.9L174.8 65.1M232.6 67.3L230.4 67.7L228.1 67.8L226.0 68.2L223.8 68.6L221.6 69.0L219.3 68.9L217.2 68.5L215.0 68.1L212.8 67.8M322.0 60.2L324.2 60.5L326.3 60.9L328.5 61.3L330.7 61.7M227.7 61.6L225.4 61.9L223.2 61.7L221.0 61.3L218.9 60.9L216.7 60.5M196.4 62.5L194.3 62.9L192.0 63.2L189.9 63.6L187.6 63.6L185.3 63.8M251.4 61.6L253.5 61.3L255.8 61.3L258.1 61.5L260.3 61.1L262.4 60.7L264.7 60.8L267.0 60.6L269.3 60.4M237.8 62.4L240.1 62.3L242.3 61.9L244.5 61.5L246.6 61.1L248.9 60.9M94.2 60.3L96.5 60.1L98.8 60.1L100.9 59.7L103.2 59.7M292.9 66.8L290.8 67.2L288.6 67.6L286.5 68.0L284.3 68.4M163.0 69.0L165.3 68.9L167.5 68.7L169.8 68.7L172.1 68.9L174.4 69.1L176.6 69.0L178.9 68.8L181.2 68.9M130.1 65.9L132.3 65.5L134.5 65.2L136.8 65.2L139.0 64.8M139.2 56.2L141.5 56.3L143.6 56.7L145.8 57.1L148.0 57.5L150.2 57.8L152.4 58.0L154.6 58.4L156.9 58.3L159.2 58.4M138.8 62.0L136.7 61.6L134.4 61.6L132.1 61.9L129.8 61.7L127.6 61.8L125.4 62.2M130.1 70.5L132.3 70.5L134.5 70.1L136.7 69.8L138.9 69.5L141.2 69.4L143.5 69.5L145.6 69.9L147.8 70.3M128.8 57.1L126.6 57.5L124.4 57.2L122.2 56.8L120.1 56.4L117.9 56.0M255.8 60.7L258.0 60.4L260.3 60.5L262.5 60.1L264.7 59.9L267.0 59.7L269.3 59.9L271.6 59.8L273.9 59.6M282.0 65.3L279.7 65.2L277.4 65.0L275.2 64.7L273.0 64.3L270.8 64.0L268.5 64.0M187.8 59.2L190.0 58.9L192.2 58.5L194.5 58.4L196.7 58.1L199.0 58.2L201.2 57.8L203.5 58.0L205.7 58.2L207.9 58.6M164.2 56.2L162.0 56.5L159.8 56.2L157.6 55.8L155.4 55.4L153.2 55.7L151.0 56.1L148.7 56.2L146.6 56.6L144.3 56.5M260.0 64.9L257.7 65.2L255.5 65.0L253.2 65.3L250.9 65.2L248.8 64.8L246.6 64.4M213.9 60.2L216.0 60.6L218.3 60.9L220.5 61.2L222.6 61.6M326.6 70.4L324.5 70.5L322.2 70.5L319.9 70.5L317.7 70.2L315.5 69.8L313.4 69.4L311.2 69.0L309.0 68.6M105.3 65.2L107.4 65.6L109.7 65.4L111.9 65.1L114.1 64.7L116.2 64.4M268.7 67.5L270.9 67.3L273.2 67.5L275.4 67.9L277.7 68.0L279.8 68.4L282.1 68.4L284.3 68.0M253.1 66.8L250.8 66.6L248.7 66.2L246.5 65.8L244.3 65.4M242.2 69.5L244.5 69.3L246.7 69.6L248.8 70.0L251.0 70.4L253.1 70.5L255.4 70.5L257.6 70.5M277.2 55.0L274.9 54.9L272.7 54.5L270.4 54.4L268.2 54.5L265.9 54.4L263.7 54.8L261.5 55.2L259.3 55.4M178.0 66.7L175.8 67.1L173.5 66.9L171.3 66.6L169.1 66.2L166.9 65.9L164.7 66.3L162.6 66.7M253.8 62.5L251.5 62.3L249.3 62.1L247.1 61.7L245.0 61.3L242.7 61.2L240.5 60.8L238.2 60.7L236.0 60.5M198.1 65.7L200.4 65.6L202.6 65.2L204.7 64.8L206.9 64.5M201.7 63.3L199.5 63.0L197.3 62.6L195.2 62.3L193.0 61.9L190.7 61.9L188.5 61.6L186.3 61.2M261.6 68.3L259.4 68.6L257.1 68.6L254.8 68.8L252.5 68.6M327.9 60.4L325.6 60.7L323.4 60.4L321.1 60.6L319.0 61.0L316.7 61.2M207.4 66.1L205.2 66.5L203.1 66.8L200.9 67.2L198.7 67.6M266.7 60.0L268.8 59.6L271.1 59.6L273.4 59.8L275.6 60.0L277.8 60.4L280.0 60.8L282.1 61.2L284.4 60.9L286.5 61.3M131.8 55.8L134.1 55.7L136.3 55.3L138.4 54.9L140.6 54.5L142.9 54.5L145.2 54.5M155.6 61.0L157.8 60.8L160.0 60.4L162.2 60.0L164.3 59.6M209.9 64.8L207.8 64.4L205.6 64.0L203.5 63.6L201.2 63.5L198.9 63.5L196.7 63.1L194.6 62.7M272.8 65.5L270.6 65.1L268.5 64.7L266.3 64.3L264.0 64.2L261.8 64.5L259.5 64.6L257.4 65.0L255.1 64.8M261.8 62.1L264.0 61.7L266.2 61.4L268.4 61.2L270.7 61.0M281.1 68.3L283.3 68.7L285.5 68.4L287.7 68.1L289.9 67.7L292.1 67.9L294.4 67.7M257.1 62.0L254.8 62.2L252.5 62.2L250.2 62.2L248.0 62.5M166.6 60.1L168.7 60.5L170.9 60.9L173.2 60.9L175.3 60.5L177.6 60.8L179.7 61.2M258.4 60.1L260.5 60.5L262.8 60.8L265.0 60.9L267.3 61.2M198.5 68.3L200.7 68.6L202.8 69.0L205.1 69.0L207.3 69.3L209.5 69.7L211.8 69.8L214.0 70.2L216.2 70.4L218.4 70.5M260.6 61.3L262.9 61.1L265.0 60.7L267.2 60.3L269.4 59.9L271.5 59.5L273.8 59.5L276.0 59.2L278.2 58.8M191.8 65.8L193.9 65.4L196.1 65.0L198.3 64.7L200.5 64.3L202.6 63.9L204.9 63.6M238.4 68.6L240.6 69.0L242.7 69.4L244.9 69.8L247.1 70.0M163.7 65.4L161.4 65.2L159.2 64.8L157.1 64.4L154.9 64.0L152.7 63.6L150.6 63.2M249.3 61.2L251.5 61.6L253.7 61.9L255.9 62.2L258.1 62.6M242.0 64.7L239.7 64.9L237.4 65.1L235.2 64.7L233.0 64.8L230.7 64.6M192.0 61.7L189.7 61.9L187.5 61.6L185.2 61.8L183.1 62.2L180.8 62.5M215.9 66.1L218.1 65.9L220.3 65.6L222.5 65.2L224.8 65.2L227.1 65.1L229.4 65.3L231.5 65.7M313.5 58.0L311.3 58.3L309.0 58.6L306.7 58.5L304.6 58.9L302.4 59.3L300.2 59.5M118.0 65.5L115.7 65.6L113.6 66.0L111.4 66.4L109.1 66.6L107.0 67.0L104.7 66.9L102.4 67.1L100.2 67.5M259.6 64.5L257.4 64.9L255.1 64.7L253.0 65.1L250.7 65.4M246.9 64.8L249.0 64.4L251.2 64.0L253.4 63.6L255.6 63.2M89.6 63.7L91.9 63.5L94.2 63.4L96.5 63.3L98.6 63.7L100.8 64.1L102.9 64.5L105.1 64.9L107.3 65.3L109.5 65.6M146.9 61.9L149.0 62.3L151.3 62.0L153.5 61.7L155.6 61.3M243.4 66.6L245.7 66.9L247.8 67.3L250.1 67.6L252.2 67.9M143.8 66.2L146.1 66.3L148.4 66.1L150.5 65.7L152.8 65.6L155.0 65.9L157.3 66.2L159.5 66.6M308.2 66.4L306.0 66.0L303.8 65.7L301.5 65.4L299.2 65.3L297.1 65.0M228.2 70.0L230.4 70.1L232.7 70.1L235.0 70.2L237.2 69.9L239.4 69.5L241.7 69.7M249.1 69.8L247.0 70.2L244.8 70.5L242.7 70.5L240.5 70.5L238.3 70.5L236.0 70.5L233.7 70.5L231.4 70.5M258.2 60.4L256.0 60.6L253.8 61.0L251.7 61.4L249.4 61.3L247.1 61.4L244.8 61.3" stroke="#22229c" stroke-width="0.7" fill="none"/>
<path d="M227.6 69.5L225.4 69.8L223.1 69.6L221.0 69.2L218.8 68.8L216.6 68.4L214.4 68.2M293.8 68.4L291.6 68.1L289.3 68.1L287.1 68.5L285.0 68.9L282.8 69.3M256.8 59.2L259.0 58.9L261.1 58.5L263.4 58.5L265.7 58.8L267.9 58.9L270.1 59.3L272.3 59.6L274.5 60.0M241.1 55.3L238.8 55.2L236.7 54.9L234.5 54.5L232.4 54.1L230.1 54.3L227.9 54.1M279.3 63.7L281.6 63.8L283.9 63.7L286.0 63.3L288.2 62.9L290.5 63.1L292.6 63.5M253.8 59.3L251.6 59.6L249.3 59.6L247.0 59.5L244.8 59.7L242.6 59.4L240.3 59.6M244.1 55.6L246.3 55.8L248.6 55.7L250.9 55.5L253.1 55.8L255.2 56.2L257.4 56.6L259.6 56.8L261.8 57.2L263.9 57.6M272.9 57.7L275.0 58.1L277.2 58.5L279.5 58.4L281.6 58.0M313.3 63.7L315.4 64.1L317.6 64.5L319.9 64.6L322.0 64.2L324.2 63.8L326.4 63.4L328.7 63.4L330.8 63.0M262.4 59.7L260.3 60.1L258.1 60.5L256.0 60.9L253.8 61.3L251.6 61.7L249.4 62.1M159.2 63.7L157.1 63.3L154.9 62.9L152.8 62.6L150.6 62.2L148.3 62.2L146.0 62.2L143.7 62.2L141.5 62.4L139.3 62.8M274.1 65.6L271.8 65.5L269.5 65.8L267.3 65.5L265.1 65.9L263.0 66.3L260.8 66.7L258.5 66.9L256.2 66.7M200.4 65.9L198.2 66.3L195.9 66.1L193.8 66.5L191.6 66.9L189.5 67.3M328.1 70.3L330.3 70.5M327.6 58.0L329.9 57.8M185.1 61.5L187.2 61.1L189.4 60.8L191.6 60.4L193.7 60.0L195.9 59.6L198.1 59.2M129.6 67.4L131.9 67.6L134.0 68.0L136.3 68.1L138.6 68.3L140.7 68.7L142.9 69.1L145.2 68.9L147.3 68.5L149.5 68.1M133.3 70.1L131.1 69.7L128.8 69.6L126.6 70.0L124.3 70.0L122.0 69.9L119.8 69.7L117.5 70.1L115.4 70.4M289.0 65.4L286.7 65.2L284.5 65.6L282.3 66.0L280.1 65.8L277.9 66.2M261.6 54.8L263.7 55.2L265.9 55.6L268.1 55.9L270.3 56.3L272.6 56.4L274.7 56.8L276.9 57.2L279.0 57.6L281.3 57.6M106.1 69.3L108.4 69.1L110.7 69.0L112.9 68.7L115.2 68.9L117.4 69.3L119.5 69.7L121.8 69.7L124.1 69.4M291.8 59.2L294.1 59.3L296.4 59.5L298.6 59.9L300.8 59.7L303.1 60.0L305.4 60.0M297.0 67.0L294.9 67.4L292.7 67.8L290.6 68.2L288.4 68.5L286.2 68.9L284.1 69.3L281.8 69.2M93.0 66.7L90.7 66.5L88.5 66.2L86.3 65.8L84.0 65.8M300.9 60.8L303.2 60.8L305.5 60.7L307.6 60.3L309.8 59.9M86.6 68.2L88.9 68.1L91.1 67.7L93.3 67.4L95.5 67.1M283.9 65.5L281.7 65.8L279.5 66.2L277.3 66.6L275.1 66.7L272.8 66.7L270.6 66.3L268.4 66.0M315.5 66.8L313.3 66.4L311.2 66.0L308.9 66.1L306.7 66.5L304.4 66.6L302.1 66.4L300.0 66.0M99.7 62.9L102.0 62.9L104.3 62.8L106.6 62.8L108.8 62.4L111.0 62.3L113.3 62.2L115.6 62.4M311.6 69.5L309.4 69.8L307.2 70.2L305.1 70.5L302.9 70.5L300.6 70.5L298.5 70.5L296.3 70.5L294.1 70.2M202.6 60.3L204.9 60.4L207.1 60.8L209.3 60.6L211.5 60.3L213.7 59.9L215.9 59.5M305.7 65.0L303.5 64.6L301.3 64.9L299.1 65.2L297.0 65.6L294.7 65.4M156.6 63.5L158.8 63.3L161.1 63.2L163.3 62.8L165.5 63.0L167.8 63.1L170.1 63.3L172.3 63.1L174.5 62.7M128.2 69.1L130.4 69.3L132.6 69.7L134.8 70.0L137.0 70.4L139.1 70.5M324.9 69.8L327.2 69.8L329.5 70.1M311.1 67.0L313.4 67.0L315.7 66.9L317.8 66.5L320.0 66.1L322.2 65.7L324.4 65.5L326.6 65.1L328.9 65.2M98.1 59.0L95.9 58.8L93.7 58.4L91.5 58.0L89.4 57.6L87.1 57.8L85.0 57.4M312.5 57.7L310.4 58.1L308.2 58.5L306.1 58.9L303.8 58.6L301.5 58.6M260.9 54.6L258.6 54.5L256.3 54.4L254.0 54.6L251.8 54.4L249.6 54.0L247.4 54.1L245.2 54.5L243.0 54.9M251.6 59.6L249.3 59.7L247.0 59.5L244.9 59.1L242.7 58.7L240.4 58.9L238.3 59.3L236.1 59.7L234.0 60.1L231.7 60.3M225.3 69.3L223.0 69.5L220.8 69.9L218.6 69.6L216.3 69.4L214.2 69.8L212.0 70.2L209.9 70.5M122.7 70.2L124.9 69.9L127.0 69.5L129.2 69.1L131.4 68.7L133.7 68.8L135.8 69.2M184.5 68.9L186.6 69.3L188.8 69.7L191.1 69.6L193.3 69.4L195.6 69.5L197.9 69.4L200.1 69.7L202.3 70.1L204.6 69.8M210.6 65.6L208.4 66.0L206.2 66.2L204.0 66.5L201.7 66.3L199.4 66.3L197.1 66.4M287.7 66.6L289.9 67.0L292.1 67.4L294.3 67.6L296.5 68.0L298.7 68.4L300.8 68.8M313.3 66.6L315.6 66.6L317.8 67.0L320.0 67.4L322.1 67.8L324.4 68.0L326.7 68.1M272.1 56.7L274.4 56.5L276.5 56.1L278.7 55.7L280.8 55.3M269.9 70.0L267.6 70.1L265.4 69.7L263.2 69.4L261.0 69.0M102.8 67.3L105.0 67.7L107.2 68.1L109.3 68.5L111.5 68.9L113.7 69.3L115.9 69.0L118.1 68.6L120.2 68.2L122.5 68.3M139.9 68.3L142.1 67.9L144.3 68.0L146.5 67.6L148.7 67.3L150.9 66.9L153.1 66.8L155.3 66.4M269.1 59.7L271.3 59.8L273.6 59.8L275.8 60.2L278.1 60.3L280.3 60.7L282.5 60.8M121.3 55.1L119.2 55.5L116.9 55.5L114.6 55.4L112.4 55.1M116.6 70.4L118.9 70.1L121.1 70.2L123.3 70.5L125.5 70.5L127.6 70.5L129.8 70.5L132.1 70.5L134.4 70.5M232.7 55.3L230.5 55.7L228.3 56.0L226.2 56.4L223.9 56.2L221.8 55.8L219.6 55.4L217.3 55.3L215.0 55.3M318.7 69.7L316.6 69.3L314.3 69.5L312.2 69.9L309.9 70.1M286.4 69.9L284.1 69.7L281.8 69.9L279.6 70.0L277.3 69.7L275.2 69.3L273.0 68.9L270.8 68.5M103.0 66.3L105.2 65.9L107.4 65.5L109.7 65.7L111.9 65.9M115.7 70.1L113.6 70.5L111.3 70.5L109.0 70.5L106.8 70.1L104.5 70.2L102.3 69.9L100.1 69.6L97.8 69.8L95.7 69.4M282.0 70.0L284.2 70.4L286.4 70.5L288.5 70.5L290.8 70.5L292.9 70.1L295.1 69.7L297.3 69.4L299.4 69.0L301.7 69.2M128.7 55.3L126.6 54.9L124.3 55.0L122.1 54.7L119.9 54.3L117.7 54.0L115.6 54.0L113.3 54.1L111.0 54.2M87.5 67.4L89.8 67.5L91.9 67.9L94.1 68.3L96.3 68.7L98.4 69.1M319.6 56.3L321.9 56.5L324.2 56.7L326.4 56.3L328.5 56.0L330.8 56.0M168.8 62.0L171.1 61.9L173.3 62.2L175.4 62.6L177.7 62.7M164.8 62.6L167.0 62.8L169.3 62.8L171.6 62.6L173.8 62.3M173.7 57.0L175.9 56.6L178.1 56.3L180.3 56.0L182.5 55.7M238.0 58.2L240.3 58.2L242.5 57.8L244.6 57.4L246.9 57.5L249.2 57.4L251.5 57.2L253.8 57.2M180.3 59.7L178.0 59.9L175.8 60.2L173.6 60.6L171.3 60.5L169.0 60.5L166.7 60.4L164.5 60.7L162.2 60.9L160.1 61.3M124.7 63.9L126.9 64.3L129.0 64.7L131.3 64.6L133.6 64.9L135.9 65.0L138.0 65.4L140.2 65.8L142.4 66.0L144.6 66.4M320.5 70.3L318.2 70.2L316.1 69.9L313.8 70.0L311.6 69.6L309.5 69.2L307.2 69.3M268.8 62.5L271.1 62.4L273.3 62.8L275.4 63.2L277.6 63.5L279.8 63.9L282.1 63.8L284.3 63.7M154.0 68.9L151.9 69.3L149.6 69.3L147.4 69.7L145.2 70.0L143.0 70.4L140.7 70.4L138.6 70.5L136.4 70.5L134.1 70.5M112.5 63.6L110.2 63.7L108.1 64.0L105.9 64.4L103.6 64.5L101.4 64.3L99.2 63.9L97.1 63.5M220.0 54.5L217.8 54.3L215.5 54.1L213.2 54.3L211.0 54.0M138.7 64.7L140.9 64.3L143.0 63.9L145.3 63.8L147.6 63.9L149.9 63.7L152.1 63.3L154.2 62.9L156.5 62.7M277.0 69.4L279.2 69.8L281.5 69.8L283.8 69.8L286.1 69.9L288.2 69.5" stroke="#8e8828" stroke-width="0.7" fill="none"/>
<path d="M91.0 59.3L88.7 59.0L86.5 58.8L84.2 58.9M286.6 59.7L288.8 60.1L290.9 60.5L293.1 60.9L295.2 61.3L297.4 61.7L299.6 62.1M271.2 61.5L269.1 61.1L266.8 61.4L264.6 61.1L262.4 60.7L260.1 60.6L257.9 60.3L255.7 60.0M151.4 67.7L153.7 67.7L156.0 67.8L158.3 67.9L160.6 67.7L162.9 67.5L165.0 67.9L167.3 67.7M187.0 54.6L189.2 54.9L191.5 55.0L193.6 55.4L195.9 55.4L198.2 55.5L200.5 55.7L202.7 56.1M220.1 60.7L218.0 60.3L215.8 59.9L213.7 59.5L211.5 59.1M280.4 67.1L278.2 66.9L275.9 66.8L273.6 66.9L271.4 67.3L269.1 67.2L266.8 67.2M268.2 59.9L266.0 60.3L263.8 60.7L261.5 60.6L259.3 60.3M94.9 64.8L97.1 65.2L99.3 65.6L101.5 65.8L103.8 65.9L106.0 66.3M271.5 70.0L273.8 70.0L276.0 70.4L278.2 70.5L280.3 70.5L282.5 70.5M114.8 67.4L117.0 67.7L119.3 67.8L121.6 67.8L123.9 67.7L126.1 68.1L128.3 68.4L130.5 68.8L132.6 69.2M281.1 63.3L278.9 63.0L276.8 62.6L274.5 62.9L272.3 63.1L270.1 63.5M305.8 63.8L303.5 63.7L301.4 63.3L299.1 63.4L296.9 63.0L294.6 63.1L292.4 63.4L290.2 63.0L287.9 63.1L285.7 63.3M304.5 63.4L306.7 63.8L308.9 64.2L311.2 64.2L313.4 64.0L315.6 63.7L317.8 63.3M104.0 69.1L101.9 69.5L99.6 69.8L97.5 70.2L95.2 70.4L92.9 70.4L90.8 70.5L88.5 70.5L86.3 70.2L84.0 70.0M286.9 54.1L289.1 54.0L291.2 54.0L293.5 54.3L295.6 54.7L297.8 55.1M86.7 60.6L88.8 61.0L91.0 61.4L93.2 61.8L95.4 61.6M263.3 57.5L265.5 57.1L267.8 56.9L270.0 56.7L272.3 56.7M93.5 64.7L91.3 65.0L89.1 65.3L86.9 65.7L84.7 66.0M225.4 57.7L223.2 58.1L221.1 58.5L218.9 58.9L216.8 59.2L214.6 59.6L212.4 60.0L210.1 60.0L207.9 60.3L205.6 60.2M318.9 66.6L321.2 66.8L323.4 66.5L325.7 66.7L327.9 67.1L330.2 67.2M324.0 65.9L326.2 65.6L328.5 65.7L330.7 66.1M288.3 65.4L286.1 65.0L284.0 64.6L281.8 64.2L279.7 63.8" stroke="#6c6a30" stroke-width="0.7" fill="none"/>
<path d="M207.8 68.8L210.1 68.9L212.3 68.5L214.6 68.3L216.8 68.5L219.1 68.6M202.2 61.3L199.9 61.3L197.8 61.7L195.5 62.0L193.4 62.4L191.2 62.8L189.1 63.1L186.8 63.3M95.7 61.0L98.0 61.1L100.3 60.9L102.5 61.0L104.8 61.1L107.1 60.8L109.3 60.6M109.3 67.3L111.5 67.0L113.8 67.1L116.0 67.5L118.2 67.3L120.5 67.2M174.8 68.5L172.5 68.3L170.4 68.0L168.2 67.6L165.9 67.7M106.5 64.5L104.2 64.7L101.9 64.6L99.7 64.3L97.4 64.1L95.1 64.0L92.8 64.0M86.7 61.3L84.4 61.3M277.9 69.1L280.1 69.4L282.4 69.6L284.6 70.0L286.7 70.4L288.9 70.5L291.1 70.5L293.3 70.4M86.9 65.7L84.7 65.3M261.8 56.4L259.5 56.5L257.2 56.5L255.0 56.8L252.8 56.5L250.5 56.4L248.2 56.6L246.0 56.2L243.7 56.2M150.6 62.0L148.4 61.6L146.1 61.8L143.9 62.1L141.6 62.0M206.9 68.3L204.7 68.7L202.5 69.1L200.2 69.0L198.0 69.0M131.1 67.9L133.4 67.5L135.6 67.9L137.8 68.0L140.0 68.4L142.3 68.4L144.6 68.5L146.9 68.4L149.0 68.0L151.3 68.2M170.5 54.7L172.8 54.6L175.0 54.3L177.1 54.0L179.3 54.0M307.3 59.1L309.5 58.7L311.8 58.9L314.0 58.6L316.2 58.2L318.4 58.5L320.7 58.7M97.5 56.6L99.8 56.6L102.0 56.2L104.2 55.8L106.3 55.4L108.5 55.0L110.7 54.6L112.9 54.9L115.1 55.2L117.4 55.4M210.8 59.3L208.5 59.0L206.3 58.7L204.1 58.5L201.9 58.1L199.8 57.7L197.5 57.9L195.3 57.6L193.2 57.2L191.0 56.8M213.0 59.5L215.2 59.9L217.3 60.3L219.5 60.7L221.7 61.1L223.8 61.5L226.1 61.4M224.9 55.5L222.8 55.9L220.6 56.3L218.5 56.7L216.2 56.9L214.0 57.3L211.9 57.7L209.7 58.1L207.5 58.4M310.3 56.5L312.5 56.8L314.8 56.9L317.0 56.5L319.1 56.1M173.8 57.6L171.6 57.9L169.3 57.9L167.1 57.5L165.0 57.1L162.8 56.7L160.6 56.5L158.3 56.3M205.7 64.6L203.5 64.2L201.3 63.8L199.2 63.4L197.0 63.0L194.9 62.6L192.6 62.4M222.2 69.3L219.9 69.0L217.8 68.6L215.6 68.2L213.4 67.9L211.3 67.5L209.1 67.1M279.4 60.8L281.7 60.7L283.9 61.1L286.1 61.5L288.2 61.9L290.5 61.9L292.8 62.0L295.1 62.1L297.3 62.4M227.6 70.1L225.4 70.3L223.2 70.5L220.9 70.3L218.7 70.5L216.6 70.5L214.4 70.5L212.1 70.4L210.0 70.0L207.7 70.1M86.8 67.3L89.1 67.2L91.3 67.6L93.4 68.0L95.6 68.4L97.9 68.6L100.1 68.3L102.2 67.9M106.8 65.8L109.0 66.1L111.3 66.4L113.4 66.8L115.7 66.9L118.0 66.8L120.2 67.1L122.5 67.2M195.1 63.0L193.0 62.6L190.8 62.2L188.7 61.8L186.4 61.8L184.2 61.4L181.9 61.3M139.0 54.6L136.8 55.0L134.6 55.3L132.5 55.7L130.2 55.9M247.7 63.9L250.0 64.0L252.3 63.8L254.5 63.4L256.6 63.0L258.8 62.6L260.9 62.2M137.8 62.4L135.6 62.8L133.5 63.1L131.2 63.4L129.1 63.8M235.3 61.4L237.6 61.5L239.9 61.5L242.2 61.4L244.5 61.3L246.8 61.3L249.1 61.4M249.3 61.0L247.0 61.1L244.8 61.4L242.6 61.8L240.4 62.2L238.3 62.6M279.2 67.8L281.3 68.2L283.6 68.1L285.8 67.7L288.0 68.0L290.2 68.4L292.4 68.8" stroke="#9c5c20" stroke-width="0.7" fill="none"/>
</g>
<rect x="293.2" y="91.2" width="30.8" height="2.9" fill="#fff"/>
<text x="294.5" y="89.2" font-size="12.5" fill="#fff">5 nm</text>
<circle cx="36.9" cy="122.1" r="1.05" fill="#3a9c9c" opacity="0.7"/>
<circle cx="33.7" cy="126.7" r="1.05" fill="#3a9c9c" opacity="0.7"/>
<circle cx="43.3" cy="131.1" r="1.05" fill="#3a9c9c" opacity="1"/>
<circle cx="43" cy="133.3" r="1.05" fill="#3a9c9c" opacity="1"/>
<circle cx="33.3" cy="133.5" r="1.05" fill="#3a9c9c" opacity="1"/>
<circle cx="34.1" cy="135.8" r="1.05" fill="#3a9c9c" opacity="0.55"/>
<circle cx="26.7" cy="137.1" r="1.05" fill="#3a9c9c" opacity="0.55"/>
<circle cx="29.6" cy="139.6" r="1.05" fill="#3a9c9c" opacity="0.7"/>
<circle cx="42" cy="139.4" r="1.05" fill="#3a9c9c" opacity="1"/>
<circle cx="33.3" cy="142.6" r="1.05" fill="#3a9c9c" opacity="0.85"/>
<circle cx="25.2" cy="144.7" r="1.05" fill="#3a9c9c" opacity="1"/>
<circle cx="26.3" cy="145.4" r="1.05" fill="#3a9c9c" opacity="0.85"/>
<circle cx="30.5" cy="145.4" r="1.05" fill="#3a9c9c" opacity="1"/>
<circle cx="34.1" cy="149.2" r="1.05" fill="#3a9c9c" opacity="0.85"/>
<circle cx="38.8" cy="149.4" r="1.05" fill="#3a9c9c" opacity="0.85"/>
<circle cx="24.4" cy="152.7" r="1.05" fill="#3a9c9c" opacity="0.7"/>
<circle cx="39.4" cy="154.6" r="1.05" fill="#3a9c9c" opacity="0.55"/>
<circle cx="41.4" cy="156.8" r="1.05" fill="#3a9c9c" opacity="0.7"/>
<circle cx="31.2" cy="160.4" r="1.05" fill="#3a9c9c" opacity="0.7"/>
<circle cx="30.3" cy="162.5" r="1.05" fill="#3a9c9c" opacity="0.85"/>
<circle cx="35.6" cy="162.5" r="1.05" fill="#3a9c9c" opacity="0.55"/>
<circle cx="39.4" cy="162.5" r="1.05" fill="#3a9c9c" opacity="1"/>
<circle cx="40.1" cy="165.7" r="1.05" fill="#3a9c9c" opacity="1"/>
<circle cx="45.6" cy="166.6" r="1.05" fill="#3a9c9c" opacity="0.85"/>
<circle cx="29.5" cy="167.9" r="1.05" fill="#3a9c9c" opacity="0.7"/>
<circle cx="27.1" cy="170.4" r="1.05" fill="#3a9c9c" opacity="1"/>
<circle cx="25.7" cy="173" r="1.05" fill="#3a9c9c" opacity="1"/>
<circle cx="22.7" cy="177.8" r="1.05" fill="#3a9c9c" opacity="0.55"/>
<circle cx="91.3" cy="150.4" r="1.05" fill="#3a9c9c" opacity="1"/>
<circle cx="108.2" cy="158.2" r="1.05" fill="#3a9c9c" opacity="0.85"/>
<circle cx="115.2" cy="160" r="1.05" fill="#3a9c9c" opacity="1"/>
<circle cx="122.5" cy="153.1" r="1.05" fill="#3a9c9c" opacity="1"/>
<circle cx="122.5" cy="161.3" r="1.05" fill="#3a9c9c" opacity="1"/>
<circle cx="143.4" cy="148.4" r="1.05" fill="#3a9c9c" opacity="1"/>
<circle cx="157.1" cy="147" r="1.05" fill="#3a9c9c" opacity="1"/>
<circle cx="161.6" cy="149" r="1.05" fill="#3a9c9c" opacity="0.85"/>
<circle cx="164.8" cy="153.9" r="1.05" fill="#3a9c9c" opacity="0.55"/>
<circle cx="170.8" cy="154.5" r="1.05" fill="#3a9c9c" opacity="0.55"/>
<circle cx="171.4" cy="157.6" r="1.05" fill="#3a9c9c" opacity="0.85"/>
<circle cx="162.6" cy="158.2" r="1.05" fill="#3a9c9c" opacity="0.85"/>
<circle cx="199.1" cy="156.2" r="1.05" fill="#3a9c9c" opacity="0.85"/>
<circle cx="199.1" cy="162.1" r="1.05" fill="#3a9c9c" opacity="0.55"/>
<circle cx="202.6" cy="158.2" r="1.05" fill="#3a9c9c" opacity="0.85"/>
<circle cx="204" cy="155.5" r="1.05" fill="#3a9c9c" opacity="0.85"/>
<circle cx="207.9" cy="149.8" r="1.05" fill="#3a9c9c" opacity="1"/>
<circle cx="216.3" cy="147.8" r="1.05" fill="#3a9c9c" opacity="0.55"/>
<circle cx="215.6" cy="160.2" r="1.05" fill="#3a9c9c" opacity="0.7"/>
<circle cx="225.5" cy="156.6" r="1.05" fill="#3a9c9c" opacity="1"/>
<circle cx="232.2" cy="152.9" r="1.05" fill="#3a9c9c" opacity="0.55"/>
<circle cx="235.3" cy="149.6" r="1.05" fill="#3a9c9c" opacity="1"/>
<circle cx="248.1" cy="153.9" r="1.05" fill="#3a9c9c" opacity="1"/>
<circle cx="245.9" cy="160.2" r="1.05" fill="#3a9c9c" opacity="0.7"/>
<circle cx="278.2" cy="162.1" r="1.05" fill="#3a9c9c" opacity="0.55"/>
<circle cx="286.4" cy="160.2" r="1.05" fill="#3a9c9c" opacity="0.85"/>
<circle cx="287.2" cy="150" r="1.05" fill="#3a9c9c" opacity="1"/>
<circle cx="303.3" cy="156.2" r="1.05" fill="#3a9c9c" opacity="0.55"/>
<circle cx="311.7" cy="156" r="1.05" fill="#3a9c9c" opacity="0.7"/>
<circle cx="316.4" cy="148.6" r="1.05" fill="#3a9c9c" opacity="1"/>
<circle cx="320.7" cy="152.3" r="1.05" fill="#3a9c9c" opacity="0.85"/>
<circle cx="323.3" cy="159.6" r="1.05" fill="#3a9c9c" opacity="1"/>
<g filter="url(#bl2)">
<rect x="18" y="213.5" width="32" height="63" fill="#3a3a3a"/>
<path d="M42.9 266.7L41.3 267.2M47.8 226.5L46.2 227.2M37.1 238.3L37.2 239.7M49.4 247.2L50.0 248.6M26.2 236.9L25.2 235.6M23.2 240.1L24.6 240.1M20.7 245.1L19.7 244.5M19.2 227.5L20.2 226.3M45.9 270.7L45.7 269.1M30.5 249.8L30.6 251.9M46.3 257.5L45.2 256.3M24.2 246.2L25.1 245.8M27.7 228.6L28.5 230.3M24.3 234.9L25.5 236.1M30.2 226.1L29.5 224.9M38.5 215.5L38.1 214.3M21.4 254.6L20.5 252.8M39.3 262.5L37.9 261.6M27.4 249.0L27.1 251.0M23.5 217.0L24.8 217.1M27.5 269.1L28.7 268.2M38.9 273.1L37.9 273.1M19.9 249.8L19.3 250.8M36.4 258.3L38.1 259.2M25.9 227.7L26.1 229.5M47.5 247.7L48.8 247.4M27.2 256.5L25.8 256.8M19.5 242.1L21.6 241.8M21.1 241.4L21.7 242.2M23.3 250.6L21.7 250.9M40.4 267.6L39.8 268.7M47.3 251.6L48.5 253.2M37.8 268.9L36.9 270.8M19.2 274.8L18.7 276.0M30.8 266.4L31.5 268.1M28.3 246.7L26.9 246.8M22.1 269.3L21.3 268.4M48.4 247.2L49.6 247.2M45.2 237.5L45.3 238.8M29.5 220.4L30.4 219.6M45.8 248.2L44.4 248.8M27.6 233.5L29.2 233.5M41.5 215.6L40.2 214.4M24.2 226.3L25.2 226.1M49.6 259.9L49.3 260.9M34.6 241.3L35.1 239.7M22.1 250.1L23.0 252.0M21.8 230.3L23.0 228.5M40.4 214.4L42.3 215.2M33.2 229.2L34.6 230.3M47.4 222.8L49.1 223.4M35.1 251.1L35.4 253.3M33.1 227.2L31.0 226.4M45.2 253.8L46.7 254.1M46.4 272.0L48.3 271.9M22.0 252.9L23.9 252.3M36.2 217.6L35.1 217.5M23.2 231.6L22.3 230.7M22.5 256.2L24.2 257.0M43.1 247.9L41.8 246.7M30.9 215.6L32.2 214.6M37.9 261.0L38.5 260.0M25.6 255.5L24.9 253.9M36.6 220.4L38.4 220.5M43.5 219.9L41.9 219.1M38.6 243.3L40.1 243.5M22.9 227.6L22.0 227.0M20.3 264.3L20.2 262.1M28.4 252.5L28.5 250.7M24.1 276.5L22.5 276.5M37.2 226.7L37.6 225.5M38.8 214.7L38.5 216.1M28.2 250.2L27.3 250.7M19.4 222.7L20.8 221.3M31.6 226.6L31.2 228.2M33.7 225.1L33.8 223.1M27.6 270.9L28.7 270.5M35.8 238.3L35.5 236.1M29.1 271.5L29.9 272.9M46.4 218.0L46.5 219.8M25.0 262.4L22.9 262.7M22.4 272.0L24.3 271.2M28.6 232.9L27.0 233.9M31.3 224.3L32.5 224.6M30.3 221.3L28.9 220.0M27.9 275.7L26.6 276.5M18.7 271.0L19.7 271.2M48.7 227.5L50.0 228.3M45.8 247.5L46.9 248.2M28.5 245.4L29.3 244.3M22.3 219.0L22.4 217.2M35.7 254.5L35.2 255.6M35.2 242.3L34.1 242.4M22.7 257.6L22.7 256.3M18.8 268.9L20.3 268.7M24.3 241.7L22.2 242.4M41.1 221.6L40.6 220.2M35.1 229.3L34.6 230.6M19.9 269.7L21.0 270.0M46.1 252.8L44.5 252.9M43.8 232.3L43.3 233.4M43.4 270.0L43.3 268.4M32.5 257.4L30.5 257.6M26.9 223.5L24.9 222.8M19.0 226.2L18.0 227.4M44.0 225.9L42.2 225.6M45.0 229.1L43.7 230.2M22.7 223.2L22.0 222.3M38.4 265.1L38.4 266.3M47.6 243.2L47.6 244.9M40.7 226.9L42.0 226.4M41.1 243.1L42.4 242.9M28.2 249.7L28.2 251.2M23.0 213.8L22.7 213.5M28.2 262.0L27.5 261.3M39.1 241.3L39.2 242.3M38.8 257.2L39.7 258.0M24.4 236.5L23.3 235.7M31.4 274.9L33.1 273.5M30.8 226.7L31.2 227.7M39.9 251.8L38.8 253.0M20.1 222.9L20.7 221.5M38.9 215.8L38.7 217.0M41.6 260.8L39.9 260.5M38.1 248.5L37.4 249.5M31.0 270.1L32.1 270.5M19.5 259.0L18.0 259.4M36.7 237.4L37.1 238.9M49.3 214.1L47.7 215.1M47.8 239.7L47.9 241.1M33.4 220.2L32.4 218.9M26.8 239.8L25.3 240.5M47.5 238.6L49.2 239.4M41.1 213.6L42.7 213.5M21.5 228.7L22.4 230.6M46.7 250.4L46.0 249.3M40.5 254.6L42.0 255.2M35.5 233.6L34.5 232.9M39.8 213.6L39.7 213.5M44.1 251.6L44.0 250.2M29.8 266.4L28.3 267.9M18.6 266.7L20.3 266.7M43.2 266.9L44.9 265.7M22.7 276.2L21.4 274.5M22.4 261.7L21.7 260.7M42.1 274.1L42.5 272.1M47.8 268.6L48.4 270.0M39.2 264.7L40.6 265.9M27.6 234.9L28.6 235.4M42.5 236.4L43.6 236.1M44.8 248.7L44.4 249.7M26.6 272.9L28.1 272.3M39.5 256.1L40.7 255.5M47.2 223.3L46.0 223.3M44.8 244.7L46.0 244.4M36.7 260.6L38.5 261.2M22.3 220.1L22.7 219.1M43.1 265.8L44.5 265.4M19.7 241.6L20.1 242.7M48.4 221.2L50.0 221.0M18.2 258.8L19.0 260.1M18.2 242.7L19.0 244.2M34.8 273.5L35.4 272.2M25.4 243.6L25.7 244.7M39.0 221.4L37.2 221.5M20.7 242.3L19.5 241.3M36.7 230.0L38.1 229.2M40.5 265.7L40.3 267.2M21.6 245.4L21.0 247.3M27.9 274.2L29.7 273.1M38.9 274.3L40.4 274.0M18.9 263.6L19.5 264.4M33.8 217.3L34.8 216.1M29.7 216.3L29.1 218.1M34.8 264.9L36.2 264.7M26.3 254.9L27.5 255.4M38.8 263.5L37.5 262.0M23.2 226.3L24.6 226.9M34.8 231.7L33.6 231.8M43.4 247.1L42.2 247.9M31.3 272.4L32.5 272.3M28.2 230.2L27.0 229.1M20.8 263.6L21.0 265.0M39.2 228.7L37.6 227.8M40.3 218.9L41.4 219.1M33.7 218.1L32.1 217.2M24.2 238.3L22.7 237.2M34.0 271.8L35.2 273.1M24.3 227.4L25.3 226.6M20.5 218.3L22.0 217.9M31.0 215.2L30.6 217.1M24.3 266.3L23.3 265.6M29.1 236.7L29.8 238.0M41.3 263.2L39.9 263.6M24.8 224.7L24.6 226.5M45.5 242.6L43.9 242.1M36.0 235.3L37.0 235.9M39.9 228.2L41.1 228.9M30.0 264.2L31.1 265.7M25.5 249.1L24.1 247.6M24.3 226.2L24.3 225.1M43.4 225.6L42.2 224.8M24.3 270.8L25.5 270.5M18.8 257.4L18.0 258.5M25.2 262.6L25.1 261.4M42.4 231.2L40.9 230.4M47.8 235.5L47.0 234.7M19.6 263.2L18.9 265.0M27.9 270.2L27.5 268.7M29.1 225.1L30.7 224.4M25.7 238.1L27.3 237.3M41.7 228.7L41.8 227.5M22.7 240.1L24.8 240.6M49.9 222.3L49.8 221.1M49.0 275.9L47.9 274.5M36.9 250.2L35.4 250.6M35.1 218.5L36.2 217.0M23.4 226.5L24.1 227.3M21.9 247.7L20.4 248.6M38.4 275.5L37.5 276.5" stroke="#c41c1c" stroke-width="1.0" fill="none"/>
<path d="M29.2 231.7L30.3 231.5M33.9 233.0L35.0 233.1M47.0 218.7L46.5 217.8M37.3 219.1L37.3 217.2M47.4 258.9L46.0 260.3M24.6 222.0L26.8 222.0M34.5 225.0L34.6 223.4M18.5 261.6L18.6 263.1M39.6 264.3L38.4 263.6M33.4 225.1L32.3 223.5M28.4 216.9L29.8 216.1M39.0 220.5L38.8 222.0M26.0 269.5L26.6 270.9M46.8 261.1L47.5 260.0M22.4 262.9L22.8 260.9M43.8 228.2L45.3 228.3M26.4 220.9L26.9 219.8M25.2 269.6L23.6 270.7M45.8 276.3L44.0 276.5M31.6 226.3L31.1 227.5M48.8 249.7L50.0 250.5M22.2 246.0L20.8 246.4M23.0 267.4L23.3 266.0M27.7 239.8L26.7 240.1M42.3 247.5L43.4 248.7M37.7 232.8L36.4 233.4M23.8 269.7L24.9 268.0M48.0 242.8L49.9 242.3M48.1 235.7L48.9 233.9M43.1 225.2L42.1 223.7M32.3 267.1L31.3 268.1M39.0 272.6L37.7 271.9M43.6 256.7L42.5 257.4M33.8 232.0L31.9 232.9M46.5 231.7L46.9 233.8M18.5 223.1L18.0 223.3M45.4 230.6L45.4 232.4M25.9 272.9L24.3 272.2M49.8 255.4L50.0 255.1M27.4 217.5L28.8 218.2M30.1 225.2L28.9 224.9M29.0 258.7L27.8 258.5M28.1 255.9L28.9 254.2M46.5 261.8L46.3 263.0M21.7 250.5L22.9 251.0M46.3 244.3L45.7 242.8M30.8 258.3L31.2 259.7M46.9 259.3L46.1 258.1M33.0 248.0L31.1 248.7M31.5 224.8L33.2 225.5M49.1 247.6L47.9 247.5M22.9 258.6L23.6 259.9M22.9 227.8L22.7 229.7M37.8 272.3L38.0 273.8M37.0 214.9L38.2 213.5M47.8 268.4L49.5 269.0M38.8 246.2L38.8 244.6M48.2 231.9L46.5 231.7M34.1 225.4L33.7 223.6M42.9 228.6L41.7 227.8M20.0 276.0L20.8 276.5M24.6 227.9L22.9 226.7M31.7 266.1L32.5 267.1M32.9 254.6L32.0 254.0M49.2 242.8L50.0 241.0M29.6 271.1L30.4 270.3M32.9 274.6L32.5 275.7M27.6 216.8L28.9 217.1M19.5 223.7L20.9 224.6M45.2 266.8L46.4 267.2M27.6 240.6L29.0 241.8M45.8 218.6L44.1 218.1M33.3 255.9L32.1 255.8M33.7 258.3L32.5 257.7M24.0 250.2L26.1 250.1M27.9 257.7L27.5 256.4M37.0 214.3L37.2 213.5M21.6 249.6L22.8 249.9M29.9 267.2L31.1 267.7M44.9 266.6L44.5 264.5M48.7 232.2L48.6 230.8M43.9 265.5L43.4 264.5M26.4 273.3L26.2 275.1M27.2 239.6L26.4 240.5M32.4 214.6L31.1 216.3M34.7 241.6L34.1 240.5M46.3 219.1L47.3 220.5M34.5 220.5L35.5 221.0M43.8 213.5L45.7 214.0M48.9 241.3L47.6 242.5M41.0 265.7L39.6 267.1M20.8 235.6L20.5 234.0M45.2 257.1L43.7 256.9M42.6 218.9L43.7 219.5M29.1 241.1L28.8 242.2M47.7 268.4L47.3 270.1M27.2 215.3L28.3 213.8M25.0 223.5L23.4 224.1M28.6 231.1L30.1 230.6M29.6 215.0L30.9 214.3M37.2 258.6L36.8 256.9M37.9 240.4L36.7 242.0M25.8 232.6L27.0 233.4M30.9 263.7L29.7 265.3M45.7 263.0L46.0 261.4M45.5 227.0L45.3 226.0M30.5 247.6L28.5 247.6M49.9 226.7L48.4 225.6M31.4 276.3L33.1 275.9M18.5 262.0L20.4 261.1M42.6 221.5L41.1 220.8M25.5 263.7L25.4 265.7M42.4 265.4L43.5 265.5M38.7 272.5L39.5 273.1M23.7 236.8L24.9 237.4M26.8 237.1L25.7 236.5M25.1 214.9L26.0 215.8M31.1 239.9L31.2 238.7M32.2 265.1L30.4 264.6M33.6 243.6L33.3 242.4M43.5 234.0L45.0 232.9M41.3 263.5L40.4 264.8M40.7 271.6L39.4 271.9M28.7 249.9L27.9 248.5M37.4 224.5L37.5 226.3M48.3 236.7L47.1 235.2M47.8 222.4L47.2 224.3M38.5 256.0L40.0 256.5M38.9 213.7L39.8 213.5M40.7 230.6L39.4 229.2M47.2 254.0L45.3 254.5M19.2 232.9L20.2 233.2M30.5 230.3L30.2 232.4M42.8 271.6L42.8 269.7M31.2 244.9L32.4 243.1M21.8 218.7L19.8 218.6M39.2 228.4L39.4 226.8M22.2 240.5L23.9 239.7M43.8 250.7L41.7 250.5M33.4 249.1L35.3 249.3M21.7 228.0L23.1 227.3M32.8 240.6L31.3 239.3M28.8 248.6L29.6 250.2M31.9 232.4L33.5 231.6M43.7 263.6L43.2 262.5M40.7 236.3L42.4 235.5M48.1 223.0L49.9 222.0M32.7 214.2L33.2 215.6M21.3 226.7L21.5 225.4M22.0 237.0L19.9 237.3M44.0 262.4L45.6 261.6M34.4 216.1L33.3 217.1M25.5 259.8L26.5 260.4M19.4 231.5L21.4 231.1M43.4 263.1L42.7 262.4M42.8 248.5L43.7 247.3M35.4 239.1L35.6 240.5M29.2 249.1L29.1 250.8M29.5 262.6L27.6 261.6M27.6 228.0L28.0 226.4M31.5 219.3L30.3 219.5M45.2 214.2L46.9 214.1M34.6 223.4L33.7 224.6M49.7 270.0L50.0 271.9M23.0 259.7L23.3 261.0M30.0 244.2L30.5 242.3M46.3 253.8L48.1 252.6M36.6 217.0L37.1 218.5M48.9 237.8L47.7 237.7M45.1 228.3L43.6 229.9M44.4 273.7L45.0 272.1M23.8 269.3L24.8 268.1M24.3 227.3L23.5 228.1M22.1 218.4L20.9 217.5M41.6 253.8L43.1 253.6M34.6 264.8L34.7 263.1M46.5 248.8L45.1 248.2M34.7 235.8L34.3 236.8M43.7 219.8L42.9 218.1M49.4 226.9L49.0 228.7M30.5 232.5L32.3 232.9M36.4 225.2L34.5 225.2M29.2 275.2L27.5 276.4M20.7 275.6L19.9 276.4M26.2 265.6L24.7 265.6M47.7 230.4L48.9 231.4M35.0 243.7L34.7 244.7M33.7 223.1L32.9 221.3M25.8 255.0L26.3 255.9M47.6 228.1L46.4 227.5M49.8 224.7L50.0 224.1M38.5 220.5L36.9 219.9M19.4 273.3L20.1 274.2" stroke="#a8a8a8" stroke-width="1.0" fill="none"/>
<path d="M41.9 233.8L41.7 235.7M23.2 273.5L23.0 271.8M44.2 231.9L43.1 231.3M25.8 240.4L24.9 241.4M29.8 270.1L31.6 271.0M22.4 266.5L24.2 266.1M37.8 261.7L39.9 261.1M36.6 267.8L36.0 268.9M38.9 253.4L40.9 254.2M40.6 270.6L39.3 269.0M34.4 258.6L35.6 258.4M48.6 234.2L50.0 234.6M38.3 271.1L40.0 271.8M43.6 259.9L42.7 259.2M44.5 271.6L44.9 272.6M19.1 263.2L18.7 264.2M46.8 264.5L47.3 266.6M46.5 251.1L47.7 251.3M48.0 234.7L47.9 236.5M27.1 240.1L27.6 239.1M23.5 226.9L22.7 225.2M37.2 229.9L37.6 231.4M39.9 227.5L39.0 228.1M44.7 225.6L45.0 226.6M30.0 235.2L28.6 235.0M22.8 220.7L23.7 220.2M35.2 264.6L34.0 266.3M44.9 252.5L42.8 252.4M49.3 248.5L47.7 248.9M42.7 235.5L42.4 236.6M43.0 262.3L42.1 261.5M34.0 266.0L32.6 265.0M30.8 257.6L32.2 256.0M35.1 231.4L34.8 230.2M23.3 221.2L22.1 219.9M43.7 221.3L43.6 222.6M27.7 238.5L26.0 239.6M26.2 269.9L26.0 268.3M40.7 273.8L42.1 273.5M35.4 275.2L37.2 274.7M27.5 223.8L28.7 223.2M33.9 260.2L32.7 260.6M36.3 263.5L34.6 264.2M40.1 241.2L40.9 239.3M49.6 236.6L47.7 236.0M29.0 218.5L27.9 217.5M24.1 237.9L25.5 237.0M38.9 273.7L39.9 274.1M39.9 268.5L41.7 267.7M48.6 229.3L48.9 230.4M24.6 218.8L24.1 216.7M19.6 257.8L20.1 258.8M25.8 276.4L24.4 276.5M25.0 247.0L26.6 247.1M38.4 269.8L39.3 268.3M25.2 264.7L23.1 264.9M40.6 249.6L39.8 251.6M18.6 224.0L20.6 223.7M50.0 219.8L48.9 219.5M47.9 249.7L47.8 250.8M32.7 226.7L34.1 225.5M23.5 275.6L21.9 276.5M37.7 235.6L37.0 234.8M19.6 246.6L18.4 246.2M49.6 272.9L48.3 273.1M47.1 262.4L45.1 261.8M46.8 214.8L47.2 213.5M20.4 247.6L21.1 249.1M20.5 232.5L21.5 233.8M48.9 231.3L50.0 232.2M49.9 253.8L50.0 254.9M46.7 248.7L45.3 249.1M42.2 276.2L42.8 275.1M37.0 271.3L38.5 270.9M35.1 240.3L36.7 241.0M37.6 225.4L39.5 224.6M37.7 246.3L36.0 246.8M29.9 248.5L28.4 247.6M30.3 235.6L28.9 236.1M30.1 231.8L31.0 231.0M38.8 247.0L38.0 245.7M18.3 236.4L18.0 234.9M25.3 276.4L24.9 276.5M46.3 234.5L45.8 232.4M34.2 223.5L34.7 225.3M28.9 229.3L30.1 230.1M42.0 215.9L43.0 216.9M23.3 218.6L22.6 220.6M25.1 245.0L24.9 242.9M45.8 270.6L46.1 268.7M49.6 222.9L48.3 222.4M49.6 225.7L48.2 225.9M49.8 217.6L50.0 218.2M24.5 257.2L24.9 258.7M24.1 246.8L26.0 246.1M48.0 214.7L46.0 214.2M46.3 260.7L47.3 262.4M42.5 261.8L41.0 263.4M27.6 237.5L26.8 239.2M38.2 227.0L39.2 227.4M36.2 246.9L38.2 246.1M31.9 226.2L30.2 227.1M35.2 265.1L34.0 265.3M23.2 230.4L22.3 228.9M41.9 236.0L40.7 235.4M26.7 244.0L27.9 244.1M24.4 263.7L25.4 264.3M49.6 223.9L47.8 222.9M41.6 219.6L41.4 218.6M28.3 225.6L29.7 226.7M26.5 241.9L28.2 241.9M21.7 255.6L20.5 254.9M44.2 217.5L42.2 216.9M36.9 230.3L37.6 231.2M18.3 249.8L18.0 250.2M24.0 226.8L22.7 227.7M47.3 242.9L48.7 243.5M31.2 274.9L30.2 276.3M47.4 264.0L47.1 262.1M39.4 220.3L40.5 219.2M49.8 220.7L48.7 220.6M23.2 232.7L24.1 233.8M35.9 251.7L34.7 250.8M48.6 229.5L49.5 227.9M18.0 245.7L18.5 247.1M49.4 242.1L47.8 241.0M32.6 270.1L31.2 271.1M32.4 222.4L33.3 223.8M46.5 271.4L46.9 269.5M44.6 237.4L46.4 237.6M32.2 275.5L30.5 276.0M40.5 271.2L40.6 269.5M22.7 229.6L22.7 228.1M30.1 265.0L28.4 265.7M30.6 232.1L30.6 231.0M37.1 276.0L38.4 275.9M34.0 264.6L35.9 265.1M26.1 232.7L28.1 232.0M18.5 259.3L20.5 259.7M24.8 215.4L24.5 214.2M36.1 220.9L35.8 219.3M48.5 243.5L49.8 243.9M19.7 229.4L21.1 229.6M24.5 265.3L25.1 263.3M49.3 254.6L48.1 256.5M29.8 239.5L30.5 240.6M27.1 248.6L26.3 247.5M28.9 214.3L28.0 215.3M47.1 246.0L47.5 244.4M30.2 253.1L30.7 251.4M44.3 234.8L42.5 233.5M36.9 271.4L37.9 272.4M33.9 269.6L32.5 270.2M29.8 215.6L30.2 217.6M41.0 262.4L41.0 263.4M46.6 254.3L45.4 255.7M32.9 235.9L34.7 236.4M31.0 252.6L30.8 254.6M32.4 262.4L34.0 262.2M40.2 260.7L40.8 262.7M38.5 273.0L39.2 272.2M23.3 248.3L22.5 249.1M46.8 236.8L45.8 238.7M33.2 227.2L31.8 228.2M48.0 243.2L47.3 242.0M48.7 233.6L48.6 235.7M22.9 246.4L23.1 247.6M18.4 217.6L18.0 216.4M45.9 265.3L48.1 265.3M31.0 243.2L30.4 241.5M24.1 250.9L25.4 251.9M28.0 222.7L29.2 221.5M24.3 271.5L24.0 272.8M27.1 238.4L27.4 236.3M45.8 253.9L46.5 253.0M27.0 244.2L27.7 246.0M33.0 268.4L33.2 267.4M31.2 274.4L29.5 274.3M19.5 244.8L20.6 244.6M24.4 243.7L25.5 243.5M22.1 244.0L23.6 244.3M34.3 247.4L34.4 245.9M40.3 226.2L38.9 226.2M33.9 224.7L35.1 225.7M39.4 228.8L38.1 229.0M35.6 256.5L33.6 256.9M31.0 266.6L32.9 265.7M27.6 272.7L27.5 271.7M44.0 259.4L45.4 259.6M38.3 246.1L38.8 244.0M35.5 257.4L34.8 255.4M23.3 246.8L22.3 246.3M27.8 246.2L26.0 247.4M47.6 214.5L47.6 213.5M38.9 228.6L37.6 226.8M26.4 238.8L26.3 240.8M45.2 224.0L44.9 225.2M29.3 262.6L27.9 263.8M37.9 236.2L37.2 238.1M30.3 225.2L31.1 226.0M38.7 271.1L38.6 269.5M38.5 218.1L37.4 218.6M45.7 261.3L47.3 260.9M29.0 250.7L28.8 249.4M48.3 251.2L49.9 251.7M40.4 268.0L42.5 268.7M41.9 218.7L43.0 219.7M45.6 215.7L46.6 214.4M35.7 215.8L37.0 217.2M47.0 262.5L48.0 262.4M43.5 253.2L45.0 252.1M44.6 247.9L45.2 246.1M36.8 244.0L37.3 242.9M29.9 269.2L28.1 269.3M19.3 247.9L19.4 249.7M32.0 259.9L32.0 258.4M27.9 222.8L28.5 224.7M20.0 236.0L20.8 234.7M48.2 268.9L47.6 269.9M40.0 217.3L40.2 218.5M30.4 262.6L31.8 262.7M38.7 235.2L40.1 235.6M20.2 266.4L18.9 265.6M35.8 245.0L35.0 246.8M34.6 228.4L34.9 226.8M28.4 247.8L29.2 249.7M45.8 250.3L47.0 251.1M24.1 262.2L25.2 263.4M30.6 265.5L29.1 265.9M22.5 263.7L22.8 265.5M28.8 263.2L27.8 262.4M45.4 259.7L46.3 257.8M23.9 268.1L25.2 267.7M45.1 224.5L43.0 224.8M34.3 241.5L33.2 239.6M34.6 231.1L34.1 232.0M23.1 234.4L22.5 232.4M29.5 230.4L28.9 231.9M25.5 262.6L26.5 264.3M42.5 247.0L42.0 248.6M34.2 269.6L33.6 268.4M24.7 247.6L24.3 245.8M37.9 227.5L38.0 226.2M18.7 258.4L20.2 258.5M18.6 217.4L18.7 216.0M25.9 261.0L25.1 260.2M34.8 219.3L35.2 217.9M31.9 252.8L33.9 252.6M35.6 220.9L34.8 220.1M28.8 230.3L30.8 231.3M32.1 237.1L31.6 238.3M31.4 220.7L30.7 222.0M31.7 270.8L32.1 269.1M24.3 254.5L24.9 255.4M36.2 239.7L34.9 239.2M29.7 223.8L30.3 222.6M48.4 234.6L47.2 233.5M44.4 220.5L44.5 222.1M32.7 221.5L33.7 223.1M24.1 224.3L25.5 224.8M24.5 267.6L22.9 267.7M27.2 244.3L25.8 245.3M22.2 262.1L23.5 263.8M22.8 230.6L24.4 230.3M39.1 239.2L38.1 241.2M26.6 221.8L27.2 220.7M39.9 252.9L40.8 250.9M45.1 241.7L46.5 242.1M47.2 275.2L48.1 276.1M42.4 259.4L41.0 260.8M21.2 259.0L19.6 258.3M35.5 228.1L34.1 226.6M47.4 267.8L47.2 265.8M24.8 252.2L23.4 252.9M24.7 239.8L24.7 238.0M35.1 255.6L36.5 255.6M46.7 269.3L47.7 268.6M24.4 213.7L25.6 213.6M36.5 241.2L34.9 240.2M21.4 275.1L22.2 275.7M40.8 233.8L42.0 232.0M23.6 242.4L22.0 243.0M32.6 239.3L31.5 240.1M35.6 255.5L36.2 254.2M47.6 255.5L48.8 256.4M27.6 266.6L28.7 268.4M24.6 221.9L22.6 222.7M19.5 270.7L19.0 271.7M49.8 266.8L48.7 265.4M46.0 275.1L46.0 276.5M38.5 244.5L37.6 246.3M24.4 235.9L26.2 235.8M44.2 248.7L43.6 248.0M29.7 221.7L28.7 222.9M28.2 225.4L27.2 225.8M37.0 256.6L36.1 258.3M32.9 252.6L31.2 251.7M27.1 247.6L26.5 248.7M33.1 263.0L32.0 262.4M34.2 274.3L33.5 275.4M47.9 261.5L49.2 261.7M18.3 232.6L18.0 231.6M37.4 231.6L36.8 229.7M40.1 219.2L42.1 218.6M48.4 227.1L49.7 227.0M26.5 243.1L27.3 241.1M29.4 238.1L30.0 236.3M26.6 267.9L25.4 267.1M41.2 217.9L39.5 218.8M40.5 274.3L39.5 275.0M39.9 276.5L41.2 274.9M24.9 265.6L23.9 264.4M26.4 266.6L25.4 264.8M45.7 230.0L46.8 229.5M43.4 223.0L44.1 221.2M19.1 232.3L19.9 230.9M40.0 242.2L39.7 243.4M38.9 237.5L39.6 236.4M24.2 263.9L24.6 263.0M34.5 222.6L34.0 221.5M36.8 233.3L38.2 233.9M29.3 250.7L27.2 250.8M30.8 261.9L32.7 262.4M33.9 233.8L32.8 235.5M41.5 244.3L40.0 245.0M37.5 269.1L36.7 270.4M43.2 224.0L41.3 223.9M40.9 236.2L40.8 238.0M18.3 237.2L18.5 235.7M39.6 256.2L38.6 255.9M40.0 267.1L41.7 266.2M41.1 234.2L39.7 233.7M48.4 265.1L47.6 265.8M47.7 215.6L46.5 216.0M37.1 227.6L37.0 226.1M26.2 271.9L25.2 273.2M20.7 217.4L21.9 218.1M34.3 273.0L35.6 272.1M32.7 232.2L34.2 230.9M38.9 268.2L37.4 267.7M42.6 223.9L40.7 224.5M29.8 247.0L31.1 247.2M20.6 244.5L21.0 242.7M38.6 238.1L37.3 238.5M36.5 271.9L37.1 270.8M42.4 268.4L43.9 269.1M28.2 244.0L29.5 244.3M28.9 231.4L27.8 232.7M26.1 226.6L27.1 227.4M47.8 227.4L46.7 228.3M45.2 230.0L45.2 228.9M25.8 223.7L23.8 224.6M49.0 235.5L50.0 235.0M49.5 241.4L50.0 240.2M32.5 271.5L31.8 273.3M21.7 238.3L21.4 239.2M36.4 252.2L36.9 253.1M43.8 248.3L43.4 246.8M44.2 248.6L45.8 248.7M46.9 244.2L44.9 243.8M42.5 247.5L42.3 245.8M40.3 265.4L39.1 264.6M19.4 261.3L20.5 259.9M30.3 266.6L28.7 266.1M31.9 259.8L31.2 260.9M37.0 266.2L35.7 267.1M40.6 233.9L41.5 233.3M43.0 226.9L44.8 227.5M28.9 264.2L27.4 263.3M49.0 241.5L47.7 241.7M46.4 216.0L48.3 215.5M47.4 257.4L49.2 256.2M35.2 234.0L36.3 234.8M33.8 267.5L32.1 267.9M49.1 266.6L47.6 266.0M35.2 246.6L36.8 248.1M30.5 215.9L29.2 215.7M30.6 248.6L32.0 247.0M47.7 243.8L48.7 245.1M23.7 252.4L24.2 254.3M40.3 255.3L40.5 254.0M32.1 250.8L30.9 251.6M38.0 219.3L36.5 220.4M28.5 217.0L28.0 218.0" stroke="#3cb0b0" stroke-width="1.0" fill="none"/>
<path d="M41.5 256.4L40.2 257.2M19.3 261.8L18.1 261.2M36.1 268.5L35.1 269.3M22.8 259.0L23.1 258.0M47.3 267.8L48.4 269.6M40.0 239.6L41.1 238.1M34.8 273.4L34.8 275.0M49.5 276.0L48.8 275.1M26.8 275.1L28.1 274.2M37.2 269.1L35.3 269.6M22.8 224.3L22.0 223.5M45.7 240.6L47.1 241.6M29.2 245.1L28.2 246.3M38.2 218.7L39.8 218.8M23.7 231.1L24.6 230.3M44.2 256.7L43.9 255.6M41.6 264.3L41.5 266.2M41.9 253.5L43.7 253.8M45.1 237.8L43.2 238.6M42.2 221.7L42.7 223.6M22.5 268.9L21.2 269.6M39.0 271.5L38.0 269.7M26.8 261.1L26.2 259.9M20.3 254.4L20.4 255.5M23.5 260.6L24.8 260.5M26.2 274.7L25.9 276.3M43.4 214.4L44.9 215.1M49.1 225.6L49.5 224.2M23.2 228.4L24.3 229.3M25.0 226.4L27.0 226.7M45.7 267.9L47.7 268.2M25.1 246.6L23.5 246.7M43.0 276.3L41.5 276.5M29.3 221.8L29.3 222.9M26.7 229.2L26.1 230.2M25.8 262.0L25.7 263.1M38.4 245.8L39.8 245.0M32.7 230.0L34.1 229.8M31.2 273.2L31.8 274.2M28.9 245.5L26.9 245.8M28.3 239.7L28.8 238.3M20.3 243.4L21.3 243.5M30.2 241.9L31.5 243.5M30.4 216.7L30.9 214.9M49.9 247.1L50.0 248.8M47.7 226.3L48.5 227.3M25.2 239.8L24.5 238.7M26.5 239.9L27.6 240.2M18.2 256.0L18.0 256.2M19.7 223.4L20.1 224.7M21.3 252.3L19.5 252.2M19.4 257.1L19.1 258.2M47.7 258.0L48.6 258.3M49.0 230.8L48.7 232.9M46.7 236.3L44.6 236.2M37.6 268.4L35.5 268.3M25.7 242.9L26.3 241.2M18.2 220.3L18.0 219.3M26.7 235.4L27.2 234.0M40.8 248.1L40.5 249.9M45.6 271.3L45.6 272.4M22.7 237.2L22.3 238.9M34.1 224.3L35.4 223.3M37.2 233.8L37.3 232.8M28.9 273.1L28.2 275.1M49.4 261.2L49.9 260.3M18.3 217.5L18.4 219.5M49.4 263.3L50.0 265.0M23.5 241.0L24.8 241.8M35.4 266.9L34.7 267.7M35.7 223.9L37.4 223.6M39.4 251.7L38.5 249.7M20.9 266.4L21.4 268.1M45.2 224.0L44.0 224.0M34.2 275.9L33.1 276.4M21.8 221.8L20.8 223.0M30.3 230.2L30.2 232.1M22.4 243.8L20.9 244.2M19.7 233.9L21.1 235.0M19.6 270.7L18.0 270.2M23.3 244.7L25.4 245.2M25.0 240.4L26.5 239.7M28.1 256.6L27.2 255.5M41.9 254.4L40.8 254.6M28.4 215.7L27.0 215.7M42.3 222.4L40.5 222.2M28.1 226.5L27.1 227.6M43.5 228.6L43.5 227.4M45.3 249.9L45.7 251.5M34.3 270.4L32.8 270.8M19.1 246.1L20.3 247.2M38.1 243.7L38.2 241.7M40.5 239.9L41.8 241.0M40.7 262.0L41.2 263.7M36.0 261.8L35.0 260.4M37.3 256.9L38.6 258.0M25.1 274.6L26.2 273.7M24.1 249.9L25.9 249.8M21.2 233.0L19.6 233.1M26.3 265.8L26.4 266.8M22.3 269.1L24.2 268.2M40.2 215.8L41.3 216.7M48.0 263.2L48.4 262.3M35.4 238.0L37.0 237.2M18.4 227.3L19.3 227.9M34.9 227.6L34.6 225.7M49.5 254.7L47.8 255.1M32.3 215.3L31.3 215.4M32.1 220.8L33.6 219.4M39.0 254.6L39.4 253.5M49.9 221.1L48.8 220.4M25.2 229.4L27.1 229.1M18.3 249.8L19.2 248.9M36.4 236.2L36.5 237.3M23.4 268.8L24.4 269.5M24.5 221.8L26.0 221.6M30.6 260.9L32.3 262.0M28.5 224.5L28.4 222.3M44.2 226.1L43.2 225.5M44.9 266.7L45.9 268.0M42.9 232.3L41.5 232.5M34.0 245.0L32.4 245.7M41.6 257.0L40.8 257.8M27.4 216.9L28.1 215.9M36.2 264.5L38.1 264.4M40.9 219.7L41.9 220.4M44.7 260.3L43.5 259.7M35.6 247.0L36.7 245.3M42.9 219.3L42.9 217.3M24.3 261.2L23.4 259.6M18.5 252.2L18.5 254.0M47.5 252.6L46.4 252.3M30.8 238.5L30.6 239.7M44.3 250.7L43.7 252.6M37.5 229.1L36.9 228.2M22.6 217.2L24.4 217.4M47.0 214.3L48.5 214.8M22.6 254.7L23.3 256.8M18.5 270.9L18.0 270.1M42.6 250.8L41.7 249.0M19.7 226.0L18.8 226.8M47.9 232.4L49.2 233.1M43.5 217.1L42.2 215.8M25.2 255.6L24.0 257.2M31.7 254.1L32.0 255.9M45.0 274.6L45.7 275.9M26.7 254.2L24.7 254.3M18.5 225.7L19.5 224.1M25.7 270.2L23.9 270.3M37.2 217.6L38.1 219.6M46.8 232.4L45.9 231.5M36.7 252.4L36.9 253.7M40.2 234.6L41.0 235.9M29.1 272.6L30.9 272.9M39.8 234.2L38.8 232.8M25.1 234.1L25.8 235.2M38.4 230.3L39.2 229.4M22.5 220.8L22.1 221.8M27.4 267.4L25.4 267.3M19.1 249.7L18.0 251.4M43.9 259.6L44.8 261.2M39.9 255.7L39.7 257.2M43.9 251.0L45.3 250.1M44.6 261.1L43.1 260.9M18.2 218.6L19.0 217.7M24.6 244.6L24.1 245.6M24.1 246.7L25.7 248.0M19.9 239.5L21.2 240.0M32.1 256.9L30.6 258.3M38.3 241.6L38.8 239.5M25.7 267.1L24.7 267.2M25.8 228.7L26.7 226.8M28.2 264.0L27.1 263.4M22.7 223.3L22.1 222.4M39.1 221.1L38.8 222.7M41.0 273.1L42.7 274.2M25.0 241.9L26.4 240.3M48.3 259.8L47.0 258.4M28.9 243.4L30.0 245.1M20.8 255.6L21.2 257.0M37.2 221.7L35.5 220.4M32.0 247.6L32.5 249.2M23.6 223.1L25.5 222.3M48.4 222.3L47.0 222.5M25.3 235.6L24.4 234.0M23.7 257.2L23.1 256.0M22.5 242.4L24.0 243.3M23.0 218.8L22.7 217.7M45.1 276.3L43.9 276.5M36.8 262.1L38.7 262.7M37.0 228.4L37.1 230.0M26.9 247.8L28.2 249.0M27.6 215.8L25.9 215.3M35.4 255.5L36.4 254.6M31.1 245.5L32.6 245.3M28.6 266.8L29.0 265.4M21.7 249.7L22.4 251.8M22.1 250.1L22.2 248.4M34.7 274.0L34.0 274.7M19.6 258.3L19.9 259.8M47.5 228.4L46.9 226.6M35.5 257.7L34.6 256.6M28.7 233.2L29.5 231.4M18.3 245.8L18.0 245.5M18.3 232.6L18.2 231.1M45.6 234.1L44.5 234.4M20.7 216.1L19.8 214.9M34.2 219.3L32.5 219.7M36.4 256.8L36.2 255.4M49.7 215.6L50.0 215.4M43.4 235.8L42.1 237.1M48.2 227.9L47.1 228.9M20.6 225.8L22.1 225.4M38.5 276.1L40.0 275.6M45.9 232.6L46.0 233.9M43.9 256.8L42.1 257.8M28.3 273.6L27.5 271.7M44.2 249.5L44.4 251.7M45.7 227.4L44.7 226.5M24.8 268.2L23.8 267.1M43.9 263.4L44.2 265.3M44.2 263.5L42.9 262.9M41.6 238.6L41.8 236.8M29.6 258.5L28.4 258.5M29.0 239.9L28.5 241.2M47.1 238.8L48.3 239.6M20.0 225.3L21.1 225.3M40.0 226.5L41.4 226.5M43.5 246.7L41.9 246.9M24.0 255.0L22.9 255.3M38.9 251.5L39.4 253.1M40.7 240.0L42.5 240.8M29.7 271.4L30.0 269.9M34.1 275.2L33.5 276.4M37.3 242.9L35.1 243.0M19.8 247.5L20.2 246.6M36.9 227.6L38.0 228.2M22.5 230.8L24.3 229.7M38.7 257.0L38.0 258.3M26.1 220.3L25.1 220.5M43.4 239.8L43.4 241.2M21.7 265.8L23.0 265.1M22.9 257.4L21.9 258.6M37.2 229.7L38.2 229.0M43.0 256.0L44.4 255.3M42.6 219.2L42.6 217.4M40.5 257.2L41.1 256.3M22.5 234.6L24.0 235.9M30.9 258.8L29.7 259.0M21.6 258.9L23.0 259.6M22.1 242.4L21.0 242.8M22.1 266.9L23.5 267.7M47.8 265.0L46.4 265.8M43.5 268.6L44.4 268.2M32.2 261.5L31.0 261.4M28.8 220.5L28.5 222.3M22.5 214.2L20.8 214.6M44.7 217.9L45.9 218.8M48.0 262.7L46.9 262.0M25.2 233.8L24.8 235.0M18.9 249.5L19.2 251.0M22.2 232.5L21.1 232.2M25.8 262.5L24.0 261.5M49.8 271.3L50.0 270.8M25.3 267.9L26.1 266.9M18.6 257.0L20.2 257.0M34.5 267.0L35.9 266.8M19.2 231.1L18.3 230.5M40.0 267.4L38.9 268.1M41.9 235.0L43.4 235.9M31.1 226.1L30.6 227.1M37.0 223.2L35.6 224.9M24.4 249.6L25.3 250.3M27.5 241.3L26.8 239.5M18.3 251.4L18.0 251.8M21.7 269.4L23.5 268.9M35.3 230.5L35.7 232.4M47.9 240.8L48.5 242.0M36.3 251.5L37.8 252.2M18.6 266.6L18.0 266.5M41.2 248.8L39.4 248.7M22.7 224.4L21.7 224.0M37.7 238.1L38.9 239.7M37.2 228.9L38.6 228.9M33.2 231.0L33.8 231.9M31.7 222.0L33.2 223.0M47.9 216.8L46.4 217.0M23.9 244.3L22.8 244.7M38.4 245.6L36.7 246.3M43.8 274.3L42.4 274.2M46.0 266.9L44.9 268.2M21.4 273.1L21.3 274.8M46.6 236.1L46.5 234.4M30.6 213.8L30.3 213.5M33.4 262.0L34.7 263.3M32.5 267.4L32.6 268.8M44.4 260.3L45.3 258.3M18.0 268.2L18.9 266.4M47.4 268.9L48.4 268.4M24.6 233.2L23.5 232.0M34.9 243.6L34.4 244.9M36.7 275.9L35.3 274.9M32.4 242.4L33.5 242.3M43.8 243.7L43.1 245.7M35.0 220.2L34.4 219.3M48.6 248.6L47.9 247.3M45.7 264.9L46.2 263.7M40.1 260.5L41.4 261.8M22.0 265.4L23.5 264.1M20.9 220.8L20.0 219.2M48.3 237.6L49.5 236.1M20.8 271.1L21.6 269.6M24.8 215.7L25.7 217.0M21.9 230.7L23.4 229.3M43.4 244.9L41.3 244.7M23.0 230.8L21.8 230.3M47.2 214.5L46.1 213.5M20.7 237.9L21.0 236.7M23.1 215.5L24.2 213.7M26.7 235.2L25.8 234.2M33.0 254.6L34.2 255.9M39.6 275.0L38.7 275.7M39.9 235.5L39.4 234.4M28.9 235.0L29.7 233.7M30.4 271.8L30.5 269.7M41.7 231.2L40.8 231.8M25.0 229.3L26.1 228.3M34.8 271.3L34.1 270.4M46.1 269.4L45.7 267.6M31.8 269.0L31.5 270.1M44.5 260.0L43.6 258.7M36.8 238.1L37.8 238.5M41.8 221.9L40.6 221.9M36.6 243.4L35.8 241.8M43.4 257.3L43.2 258.7M40.0 242.7L41.2 244.2M26.4 240.7L24.2 241.1M40.6 242.5L40.9 243.9M36.7 261.3L37.4 262.5M48.2 223.6L46.5 223.1M18.8 233.1L18.0 233.0M18.9 224.9L18.0 225.7M21.5 236.2L20.2 236.6M21.3 270.2L20.2 269.6M24.6 246.5L26.4 247.5M32.6 266.6L32.0 267.6M30.4 257.9L31.8 257.7M34.4 243.2L35.4 243.5M28.2 215.6L28.0 217.0M18.2 268.8L19.1 270.5M29.5 273.2L31.1 274.3M44.2 269.3L44.0 268.2M28.7 239.9L29.8 238.3M39.2 254.3L38.9 256.2M21.0 276.0L21.4 276.5M41.6 227.9L42.3 226.9M44.9 248.2L43.3 248.5M30.4 270.0L30.3 268.8M22.9 274.4L23.7 273.4M49.6 247.4L50.0 246.4M41.2 240.5L39.8 238.9M41.6 258.3L40.3 258.6M27.1 240.1L27.6 241.2M33.7 269.1L35.5 268.6M38.2 236.2L37.9 238.0M29.0 267.0L30.1 267.7M44.8 246.1L46.3 244.5M31.3 222.3L32.9 223.6M31.3 262.7L30.1 262.9M47.7 214.0L49.5 213.6M38.8 227.2L38.6 228.7M27.5 251.2L26.8 252.8M40.6 215.5L41.8 216.2M48.4 229.3L47.8 228.5M29.4 235.6L28.9 236.6M31.4 249.3L30.3 249.3M47.4 263.3L47.8 265.1M19.6 217.7L20.9 217.9M23.0 274.6L23.9 275.7M42.5 213.9L43.0 213.5M21.8 230.3L22.3 228.6M23.7 244.9L25.5 245.6M24.3 223.9L24.6 222.1M28.5 244.3L27.5 244.3M27.2 273.9L26.7 272.2M32.3 275.4L31.9 276.5M35.0 260.7L37.2 260.9M32.8 243.8L33.7 244.8M30.8 273.6L31.6 272.9M33.0 223.0L32.5 224.7M47.6 226.9L49.5 226.1M49.9 215.3L50.0 217.1M36.8 236.1L35.7 236.0M26.3 253.7L27.7 252.9M28.3 224.6L27.3 225.3M35.8 268.6L36.5 267.2M45.9 248.4L45.5 249.7M48.2 237.5L47.3 235.6M35.1 254.2L34.5 255.7M34.9 219.9L33.1 218.9M28.8 267.8L29.7 266.6M37.3 227.4L35.4 227.5M32.4 249.9L34.2 249.2M34.3 239.3L35.0 240.5M19.8 231.2L21.1 230.0M25.5 215.9L27.2 215.3M25.8 247.8L26.7 247.2M25.2 246.3L24.8 247.3M27.8 244.3L28.9 244.1M25.9 216.2L24.4 217.5M31.1 268.6L30.6 269.7M35.4 245.9L37.0 246.3M32.2 251.7L30.2 251.5M18.4 266.6L19.4 268.4M39.6 241.5L41.0 241.1M26.3 227.8L24.2 228.4M41.3 235.4L42.0 233.5M28.0 229.3L28.6 227.8M26.1 260.5L26.2 258.8M36.4 219.4L37.1 220.2M45.8 270.8L44.1 271.3M46.3 220.2L47.3 220.3M35.4 242.2L36.1 243.3M46.8 219.8L47.0 221.0M26.7 219.2L27.0 217.6M29.7 258.3L30.8 257.6M46.9 269.8L47.1 270.8M29.3 218.2L30.4 219.3M25.6 226.7L26.0 228.8M25.7 254.5L27.6 253.6M46.4 270.6L46.5 268.7M39.4 228.1L38.7 229.2M26.9 255.5L28.6 254.2M24.8 226.9L26.0 226.5M30.6 261.8L30.4 260.8M42.2 220.5L42.7 218.7M31.4 221.8L30.5 223.1M37.6 216.8L36.1 216.3M45.7 228.1L45.7 229.9M23.2 276.0L23.8 276.5M28.0 240.5L27.8 239.4M43.8 214.3L43.5 216.1M18.3 270.6L19.2 272.4M43.4 244.6L42.2 243.6M32.3 216.4L34.1 216.5M39.2 253.4L39.7 255.4M42.7 274.4L42.0 272.4M25.4 263.9L23.6 262.7M37.3 228.8L37.8 227.6M47.8 240.6L47.5 238.7M39.4 214.1L37.4 214.3M21.0 240.7L19.9 239.6M26.1 231.0L25.8 232.4M41.2 254.7L40.8 256.5M20.9 256.9L20.6 259.0M34.7 242.9L32.8 242.7M29.5 222.2L29.1 220.7M41.0 233.7L39.5 234.2M22.7 225.1L21.0 224.5M44.8 231.5L43.3 231.5M19.4 247.8L19.9 249.3M30.0 256.7L28.5 256.5M20.4 231.3L21.9 229.7M24.1 231.5L22.7 230.4M32.6 215.6L33.9 215.3M29.2 275.2L30.9 276.3M30.8 254.3L31.7 255.2M39.8 225.7L37.9 226.5M22.1 264.4L23.8 264.7M40.0 246.0L41.7 246.5M43.1 275.8L44.4 275.5M23.7 237.1L25.2 238.2M31.9 226.8L30.5 226.0M49.8 229.1L48.0 228.8M25.5 230.9L26.5 229.5M26.8 236.1L28.8 236.4M42.6 233.4L43.8 232.8M40.5 271.2L40.8 269.9M49.3 222.6L48.9 221.3M32.6 267.5L32.9 269.2M25.5 242.0L24.3 240.6M47.4 234.6L45.2 234.9M49.2 224.4L50.0 224.6M29.2 256.9L27.7 256.9M29.8 224.5L31.4 225.7M31.7 275.1L30.1 275.5M29.8 258.2L31.9 258.6M47.8 237.1L46.7 236.8M35.6 213.7L37.6 214.0M45.8 261.2L44.9 260.4M36.8 276.4L36.6 274.5M49.8 228.4L50.0 227.2M21.6 251.7L21.9 250.6M41.1 238.7L41.1 240.7M48.3 274.3L49.6 273.2M27.2 227.5L27.2 229.6M18.5 264.0L18.0 262.7M42.5 236.5L42.2 235.5M32.1 254.6L31.7 256.2M42.7 255.2L44.1 254.7M34.3 245.0L32.7 243.7M22.4 262.7L23.4 261.8M35.9 240.9L34.3 240.4" stroke="#dcdcdc" stroke-width="1.0" fill="none"/>
<rect x="82.5" y="237.5" width="249.5" height="17" fill="#262626"/>
<path d="M227.3 239.3L229.3 239.8M252.1 246.0L250.6 247.5M265.0 249.2L266.9 249.0M255.5 244.8L253.9 244.7M103.8 241.9L105.0 242.7M286.4 243.0L285.4 242.5M184.5 245.5L186.3 245.7M284.5 239.5L285.8 239.5M226.4 250.8L224.7 251.8M198.7 252.0L199.8 251.9M223.4 250.8L225.2 251.7M94.7 254.1L95.8 253.1M270.1 245.1L271.4 244.3M184.7 242.6L185.7 242.1M161.1 249.0L162.5 249.8M249.3 244.8L247.9 244.5M226.5 247.7L225.3 247.6M202.0 240.3L200.6 240.5M322.3 253.4L320.6 252.6M176.3 254.3L178.1 254.5M125.9 241.0L124.2 239.7M275.6 248.6L274.3 249.3M254.0 242.8L255.7 241.9M331.4 248.9L332.0 247.9M256.8 243.2L258.2 241.8M262.6 253.4L261.0 252.8M144.0 242.4L142.6 241.4M154.2 252.6L155.1 253.5M314.0 239.8L312.6 239.7M214.6 238.7L213.6 238.5M235.7 248.3L237.0 249.2M154.7 243.5L156.2 244.3M89.7 237.8L91.2 238.4M112.9 248.3L113.8 249.0M272.9 239.6L274.7 240.7M259.3 239.5L260.5 238.6M126.7 238.8L125.6 238.9M286.5 253.1L288.2 252.3M162.7 240.6L161.1 240.0M211.6 250.1L213.1 250.9M141.3 252.1L140.0 252.0M279.3 252.1L281.1 252.7M262.9 241.5L261.1 242.1M239.5 246.4L237.8 247.4M305.7 252.3L304.6 251.4M280.4 238.0L281.8 238.8M279.7 245.6L278.5 244.5M164.5 250.9L165.7 251.6M324.2 246.5L325.6 247.3M115.2 243.9L113.0 243.7M154.8 242.8L153.1 243.3M226.9 243.9L228.9 243.4M192.8 250.5L193.9 250.8M102.8 239.5L104.0 238.8M317.3 248.6L318.6 249.3M212.1 245.1L210.5 244.4M327.5 241.7L329.6 242.2M215.3 239.7L216.9 239.6M318.4 252.3L319.4 251.3M230.2 247.7L228.1 247.5M91.5 239.1L93.1 238.7M194.6 242.9L192.9 242.4M103.4 243.3L105.0 242.3M327.0 247.2L325.3 247.6M313.2 240.7L315.2 241.6M245.2 245.1L244.3 244.6M274.4 245.5L276.5 245.7M225.3 245.3L226.4 244.5M287.5 254.4L286.5 253.4M232.8 244.2L233.8 244.5M116.0 252.9L114.2 252.6M86.5 244.6L87.4 243.7M211.2 244.0L209.9 244.4M328.3 247.9L326.6 247.8M112.9 240.4L114.5 241.5M116.6 244.4L118.2 244.7M256.2 251.7L254.7 251.5M127.2 244.4L125.6 244.6M139.2 250.3L140.3 250.9M127.3 247.0L126.3 247.0M261.9 240.1L260.2 238.8M311.6 242.3L312.6 242.4M91.7 253.0L93.5 253.7M297.2 247.6L298.6 247.9M186.6 249.4L187.8 250.5M289.9 252.1L288.6 253.5M137.7 248.6L136.2 249.3M219.8 245.5L218.4 245.2M314.5 253.2L313.3 254.4M197.8 247.9L198.6 248.7M142.6 250.1L144.1 249.4M245.4 248.1L244.0 249.2M250.4 250.4L248.5 251.0M223.2 243.3L221.7 244.1M286.4 254.5L284.9 254.5M209.7 246.7L210.9 245.7M253.6 242.2L255.1 242.9M182.0 239.8L183.2 240.6M175.5 239.4L174.1 240.3M118.3 249.2L119.8 248.5M313.0 250.6L315.1 250.5M137.6 243.2L136.7 243.7M103.4 247.4L102.0 248.8M231.0 239.3L229.5 238.7M142.6 240.7L141.7 239.8M161.4 238.1L159.8 237.5M140.2 243.4L138.9 242.6M112.5 240.1L111.5 239.2M161.5 240.1L159.6 239.3M190.3 239.3L191.5 239.3M184.1 254.4L182.7 253.7M113.1 242.9L114.6 242.4M91.5 239.5L93.2 240.3M327.5 239.2L329.5 238.8M198.2 240.1L199.8 239.8M244.6 242.7L243.5 243.6M188.4 248.0L186.7 247.7M87.9 249.3L89.4 248.3M170.3 248.7L172.1 249.2M165.4 240.8L166.8 241.3M222.0 253.5L223.0 253.7M210.5 247.9L212.3 248.5M104.4 252.2L102.9 253.6M313.9 245.2L315.4 245.8M279.5 239.1L278.3 238.0M226.9 240.9L228.6 240.0M154.8 253.1L156.1 252.4M100.9 248.7L101.8 249.4M112.3 247.7L110.4 246.8M298.0 245.8L296.6 246.1M126.7 251.0L125.9 251.7M242.0 240.3L243.0 240.8M286.7 240.8L288.4 240.2M155.0 244.5L156.2 243.8M248.1 245.1L250.0 245.8M272.6 239.2L270.8 238.7M87.0 248.8L86.0 249.3M122.2 250.3L124.0 249.7M231.2 242.5L229.1 243.1M188.4 244.5L190.1 245.3M206.2 240.6L204.8 242.0M187.3 243.9L185.7 243.8M305.5 238.2L304.2 239.1M272.7 245.2L273.9 244.2M264.8 249.8L263.4 249.0M96.6 247.5L94.7 247.4M115.5 245.1L114.4 245.1M285.8 248.6L286.8 248.9M125.2 238.4L126.9 237.9M207.9 240.6L209.1 241.9M186.5 254.2L188.4 253.6M132.7 248.5L133.6 249.0M326.3 253.6L324.9 252.9M306.9 250.6L305.7 251.6M192.1 237.8L193.6 237.5M203.4 252.1L202.0 253.4M283.2 246.4L284.2 245.8M211.2 249.0L210.0 249.0M326.4 247.6L327.7 247.2M149.6 253.2L148.3 252.4M223.7 238.6L225.2 238.2M258.4 254.3L260.4 253.8M248.4 251.8L250.0 252.8M190.5 251.3L189.0 250.6M329.9 252.0L328.8 252.8M165.8 253.0L167.0 252.8M268.1 243.3L269.9 242.9M152.6 254.4L151.4 254.5M298.0 248.9L299.5 248.5M223.7 252.3L222.8 251.7M86.7 252.9L87.8 253.1M185.1 248.5L183.5 249.5M134.2 252.7L136.0 253.2M106.6 249.4L105.1 249.4M235.4 246.8L234.1 248.0M120.7 246.1L122.3 246.2M193.3 237.9L191.5 238.5M263.6 238.9L262.5 239.4M314.5 247.5L315.3 246.6M130.8 245.4L128.9 244.4M307.7 249.5L306.4 249.3M145.5 253.1L144.2 253.2M105.4 246.9L104.4 247.1M84.6 253.4L85.5 253.9M166.2 252.0L164.6 250.7M142.2 249.8L143.7 249.8M136.2 248.6L137.8 250.0M230.6 241.6L229.4 241.4M331.7 247.3L330.6 247.7M171.5 248.6L169.9 249.7M103.6 249.9L102.2 249.8M244.9 247.8L247.0 247.5M159.6 242.2L160.8 241.3M130.7 242.5L132.8 242.1M240.6 245.4L239.0 245.1M161.2 247.6L162.5 247.5M266.2 249.2L264.9 250.1M239.6 242.3L238.2 243.3M88.2 248.7L89.9 249.1M325.7 248.8L327.8 249.3M307.7 248.3L306.5 248.3M138.6 253.3L137.6 252.7M124.0 254.5L122.6 254.5M241.8 254.0L242.8 254.5M278.3 249.8L279.5 251.0M236.6 246.4L238.0 246.2M224.4 241.8L222.8 242.5M204.9 249.7L206.8 250.1M225.6 241.4L224.6 242.1M170.3 246.1L168.7 245.0M303.7 249.3L302.5 248.9M135.8 249.7L134.6 250.4M314.2 244.6L312.4 245.9M95.8 246.8L94.4 246.4M240.1 251.3L241.4 252.5M330.7 248.4L329.4 247.6M90.7 250.6L92.5 252.0M274.5 244.8L276.3 244.3M98.1 247.7L99.2 247.4M288.7 242.0L286.9 242.4M260.2 242.3L259.0 242.8M235.6 248.3L236.8 247.3M97.6 242.1L98.7 242.4M280.2 244.5L279.3 243.7M169.0 250.8L170.5 251.0M271.8 242.0L273.6 242.6M303.8 242.2L305.0 242.2M246.8 247.1L248.4 248.3M226.5 249.8L224.9 249.4M257.4 239.6L258.7 239.4M226.1 249.5L224.9 250.7M213.3 248.8L211.5 249.8M261.7 248.8L260.6 247.8M142.5 244.2L144.6 244.9M289.4 245.4L291.3 245.2M144.6 241.1L146.5 241.4M220.1 237.5L221.9 238.3M269.4 252.4L267.8 252.9M305.3 240.7L307.2 240.2M176.9 245.9L178.0 246.0M216.4 244.6L218.0 245.8M279.5 247.6L280.6 246.9M262.1 253.0L263.2 252.5M205.4 250.3L204.1 250.1M193.2 247.8L194.3 247.3M251.0 251.5L252.1 251.3M324.5 243.1L325.5 242.9M280.9 247.6L279.4 248.9M297.7 252.0L299.3 252.3M103.3 241.6L104.6 242.5M94.2 252.3L92.8 253.5M193.8 254.3L192.9 254.5M193.6 252.6L195.4 251.7M269.7 250.0L268.5 250.5M236.7 253.8L235.1 254.5M111.8 239.2L110.3 238.1M130.6 249.4L132.7 249.8M138.1 241.5L137.2 240.9M201.5 241.2L200.6 241.4M192.1 239.8L193.7 240.6M323.2 248.5L321.5 247.9M178.1 240.7L177.1 241.1M258.2 252.9L260.1 253.4M124.8 251.6L126.1 251.3M138.9 248.2L140.9 248.4M170.4 251.3L169.1 252.3M141.3 253.2L139.5 253.6M305.3 251.8L303.1 252.0M286.4 240.8L285.1 239.6M256.9 252.8L257.9 253.4M199.0 245.3L197.7 245.0M123.2 238.0L122.0 237.5M234.8 249.8L236.6 250.9M169.3 242.9L167.2 242.8M326.6 238.8L328.4 239.0M168.9 246.1L170.2 246.8M242.6 238.2L244.0 239.5M244.5 251.6L243.5 251.5M98.0 244.0L97.1 244.9M170.1 239.4L171.6 238.2M205.1 243.8L203.8 244.0M271.8 238.7L272.8 238.5M146.1 244.9L145.1 244.1M331.0 247.6L332.0 246.9M205.2 243.1L206.2 242.6M251.1 250.4L252.8 251.0M88.0 246.8L89.2 246.3M193.7 241.9L195.4 242.5M182.6 248.6L181.8 247.9M137.7 253.0L139.4 253.5M196.1 251.7L194.6 252.1M194.9 238.0L196.2 238.0M200.3 245.5L198.9 246.2M244.0 240.0L246.0 239.3M163.0 251.8L164.7 252.3M182.9 245.4L181.5 245.9M210.2 254.3L208.5 254.5M297.3 245.5L295.5 244.4M118.2 251.5L117.3 251.1M253.7 251.7L254.7 251.2M150.7 248.9L148.8 247.9M218.4 245.2L220.0 245.4M279.0 253.2L278.0 253.1M260.0 245.4L258.4 244.1M256.1 251.9L254.2 251.1M302.8 240.8L304.0 240.9M260.9 253.2L259.5 254.1M281.6 254.4L280.3 254.5M330.7 249.8L332.0 248.5M99.0 240.8L97.9 241.5M269.7 251.3L270.6 251.7M251.7 249.6L253.0 248.2M225.2 250.8L227.1 250.3M305.6 244.5L307.2 243.5M296.8 250.1L295.6 249.0M105.4 245.2L106.3 246.0M298.2 242.6L297.4 241.7M180.7 251.2L181.8 251.5M90.3 246.5L91.9 247.0M315.2 238.4L317.3 238.2M200.6 239.9L202.2 240.3M96.7 253.4L95.2 253.2M224.8 245.8L226.1 244.7M278.5 244.2L276.8 244.3M214.2 244.4L215.4 243.7M149.5 239.7L148.3 239.6M176.0 244.5L177.4 245.5M257.0 248.6L255.6 250.0M264.3 245.8L265.6 245.6M318.9 254.0L321.0 253.9M195.6 253.4L194.2 253.6M151.1 253.4L152.5 254.2M193.1 241.0L191.2 240.9M228.8 249.8L229.8 249.4M135.8 251.6L134.1 250.6M119.3 244.5L118.3 244.1M308.9 253.9L310.3 253.6M106.0 243.8L107.3 244.5M226.1 254.2L228.2 254.5M267.1 250.8L269.2 250.8M281.7 241.0L280.4 239.7M113.5 244.9L112.2 245.1M96.5 239.1L94.8 240.1M285.0 246.0L283.3 245.6M134.8 246.9L137.0 246.7M103.2 252.8L104.6 252.9M126.7 238.1L124.8 239.0M300.7 239.4L299.0 238.9M260.2 242.6L258.4 242.2M156.8 245.1L154.9 245.4M325.5 243.1L323.9 242.4M185.4 245.8L187.5 245.7M197.1 244.4L195.9 243.9M223.9 249.6L224.9 249.7M197.0 243.2L198.9 243.2M148.8 240.6L146.8 241.3M289.0 253.5L287.1 253.8M137.0 248.6L135.1 248.2M186.4 252.5L184.5 253.6M269.2 242.8L270.4 242.6M139.1 238.7L141.2 238.4M229.9 243.1L228.6 242.8M195.0 250.6L196.0 249.7M142.2 252.5L140.8 251.5M99.5 249.3L100.4 248.5M193.8 250.4L195.1 251.3M188.6 240.6L187.3 241.3M292.1 251.7L290.2 251.5M112.3 240.3L114.3 240.2M87.2 254.0L88.7 254.5M126.6 241.1L128.2 241.4M87.2 239.9L88.5 240.4M213.8 247.1L212.4 247.3M157.5 241.8L159.3 240.7M125.3 250.5L124.2 251.2M298.9 248.5L297.3 248.2M138.4 239.3L139.7 238.3M175.4 245.6L177.0 245.6M255.6 249.2L257.3 250.5M327.8 241.9L329.4 242.1M182.5 238.6L181.2 237.7M193.7 238.5L195.4 239.3M196.3 239.3L197.7 239.4M220.7 246.5L222.8 246.5M325.0 250.3L324.0 249.9M219.2 252.4L217.2 251.4M208.8 253.6L210.9 254.0M208.8 252.2L209.8 251.7M165.0 244.2L166.3 244.9M154.6 245.9L152.9 246.1M250.7 248.1L249.5 247.7M263.0 244.4L264.0 245.1M157.3 250.5L159.2 249.6M240.8 238.7L239.0 239.7M227.6 249.5L226.4 248.5M211.4 245.1L213.1 244.2M322.7 253.5L323.6 253.9M274.3 254.4L273.2 254.3M155.8 249.3L154.5 249.2M102.4 247.3L103.4 247.7M111.3 252.8L113.1 253.2M234.5 249.4L233.3 248.4M293.8 247.4L295.1 246.1M199.5 243.6L200.9 244.5M99.7 239.5L97.9 239.5M102.3 243.0L101.1 243.4M331.4 241.0L332.0 240.1M279.6 241.8L281.0 241.4M150.8 238.3L149.2 239.3M156.9 251.8L155.7 251.3M256.7 250.0L258.2 249.4M182.1 243.9L183.1 243.2M273.3 248.6L272.3 249.3M103.8 240.6L102.9 241.1M139.2 240.0L137.3 239.5M188.5 250.4L189.6 249.3M300.4 249.7L301.7 249.8M206.5 250.1L204.9 250.2M263.4 247.1L264.8 246.3M199.5 251.8L200.8 251.3M317.3 250.6L318.6 251.2M245.2 245.3L246.5 245.0M249.9 239.2L248.9 240.0M175.8 241.0L174.1 241.1M203.8 243.8L202.4 243.3M282.9 253.5L284.2 254.1M201.3 239.0L203.2 239.9M267.8 246.3L266.9 245.8M228.5 239.3L226.8 239.7M309.7 240.8L311.0 242.0M153.5 241.3L151.9 240.4M289.9 248.0L291.4 248.7M326.1 242.2L328.0 241.9M301.3 253.8L299.4 254.5M201.9 250.1L203.5 250.2M222.7 249.1L223.7 248.8M192.2 241.5L193.7 240.3M200.3 239.6L202.1 240.2M177.4 250.3L178.2 249.7M208.1 240.2L209.6 240.5M159.8 243.1L159.0 243.8M246.7 248.2L248.5 248.3M197.8 242.9L196.4 242.8M166.6 242.3L168.0 243.1M147.0 250.8L145.9 250.2M185.7 247.8L187.2 247.5M175.9 241.0L174.4 240.9M276.6 245.0L275.4 245.2M167.4 248.7L165.6 247.8M141.1 254.2L142.1 253.7M134.8 241.0L135.6 241.8M156.8 249.8L155.2 249.4M312.1 254.0L314.2 253.9M294.8 238.6L296.6 238.3M262.3 245.4L263.6 245.5M265.7 249.3L263.7 249.9M95.7 243.7L96.8 242.7M162.1 238.1L163.5 239.5M136.3 253.7L135.1 252.7M143.7 248.8L145.1 247.7M300.1 252.3L298.3 251.7M165.1 244.3L163.9 245.0M287.4 242.8L286.1 244.1M230.7 241.2L232.6 241.8M173.3 250.7L174.3 250.8M117.3 251.7L115.7 251.6M320.7 240.8L319.3 241.5M219.9 253.8L218.3 254.5M132.2 240.6L131.2 240.9M193.1 247.7L194.4 246.8M122.5 248.4L124.5 249.0M124.7 252.2L123.7 251.9M182.3 241.1L184.4 241.0M234.8 242.9L236.5 242.7M164.9 250.2L163.7 250.9M172.2 241.9L171.3 241.4M202.8 239.7L201.7 239.0M220.5 246.1L222.4 246.2M149.1 244.3L150.0 244.8M215.5 238.2L214.2 237.5M158.6 250.6L157.4 251.2M84.6 253.6L86.7 254.2M113.2 240.2L114.5 239.9M309.4 244.3L311.3 244.8M220.2 241.6L221.4 240.6M256.2 237.6L254.0 237.6M105.3 246.1L104.2 246.5M276.6 252.9L277.9 253.5M148.1 248.0L149.3 247.4M330.9 239.8L329.7 239.6M257.0 251.8L258.8 250.9M105.6 246.0L104.3 245.3M172.7 239.4L173.7 240.2M127.9 251.0L129.6 251.2M203.4 248.5L201.8 249.9M193.1 239.0L194.5 239.5M311.0 238.5L312.0 237.5M142.3 241.1L143.2 241.6M185.0 247.2L186.3 247.7M198.2 239.5L196.7 240.5M152.8 242.0L154.7 241.2M232.9 253.2L234.3 253.5M143.8 242.5L145.0 242.9M210.5 237.8L209.4 237.9M287.8 253.2L289.1 254.4M192.8 253.4L191.7 253.2M223.2 249.1L225.2 248.7M255.2 239.5L256.4 239.2M95.7 253.0L94.7 252.3M197.6 248.0L195.8 247.2M291.0 253.6L292.5 253.9M137.2 245.1L139.1 245.3M106.6 244.3L108.7 244.0M113.1 249.7L111.7 250.3M83.9 249.2L82.5 248.9M272.4 246.7L270.8 247.0M252.3 249.4L251.4 248.7M195.8 246.1L197.3 246.4M272.3 238.6L270.5 238.8M280.0 240.8L278.7 241.5M206.6 253.6L207.6 253.1M312.3 237.7L311.3 238.5M212.6 247.6L214.4 247.6M136.2 249.6L134.7 250.7M174.1 243.2L173.0 242.1M279.5 253.5L278.6 254.0M112.9 238.3L114.0 238.7M269.8 239.5L267.9 240.0M113.7 240.3L111.8 241.1M277.1 251.6L279.0 252.1M312.6 239.2L310.9 239.1M235.6 244.2L237.2 244.9M316.3 237.6L314.4 237.5M216.8 243.4L218.0 242.9M321.8 252.3L320.5 252.5M252.4 251.6L253.6 250.4M272.9 254.2L272.1 254.5M241.5 249.6L240.1 250.3M310.6 237.7L311.9 237.6M222.9 247.3L224.0 247.0M245.9 238.2L247.0 239.0M143.0 247.2L144.9 248.3M134.8 253.7L135.9 254.3M192.8 241.1L191.9 241.5M149.1 248.2L147.3 247.3M280.1 251.1L281.4 251.4M238.1 248.2L236.7 248.6M133.4 239.4L135.2 240.5M266.4 239.1L267.5 238.0M120.2 242.6L118.9 243.7M83.1 249.7L82.5 250.6M218.0 247.3L216.8 248.3M318.1 242.6L317.0 242.5M293.8 239.2L295.5 238.7M191.6 245.2L192.8 244.3M110.8 243.2L112.3 242.4M314.9 253.9L313.8 254.5M299.6 254.4L298.0 253.3M147.6 246.3L146.5 247.3M126.6 253.1L128.0 253.7M307.7 243.5L309.6 243.9M206.1 251.2L208.1 251.5M219.0 251.1L220.2 250.1M135.4 239.2L133.6 238.3M184.4 245.2L185.9 246.0M186.4 246.0L188.3 246.8M164.9 242.1L163.8 242.1M296.7 241.3L295.7 240.5M161.1 247.9L162.6 249.2M87.5 253.4L85.6 253.5M303.6 238.7L301.6 238.8M182.9 240.3L184.0 241.2M195.1 248.3L193.5 248.9M98.9 245.9L97.6 245.1M98.6 248.3L97.5 247.5M202.0 253.9L200.1 254.5M325.6 238.8L327.0 240.0M286.3 251.2L287.3 251.5M178.5 239.8L180.5 240.6M291.1 239.1L292.5 239.4M251.9 246.3L253.3 246.9M318.6 247.5L317.2 248.8M227.1 237.8L228.4 237.7M268.2 245.5L269.4 246.1M139.2 250.3L138.0 250.6M293.7 243.0L294.9 242.6M249.6 253.4L250.9 254.1M201.5 249.0L199.8 248.9M194.4 254.1L193.2 254.1M158.8 252.1L159.8 253.0M110.6 246.8L108.8 247.6M250.1 251.5L249.0 251.8M227.4 253.2L229.3 253.9M133.3 240.1L132.3 240.5M103.1 241.9L105.3 242.1M89.2 251.1L88.0 250.2M302.4 239.4L304.2 238.3M287.2 241.0L285.8 240.5M100.6 247.7L99.4 246.8M239.6 238.3L238.4 237.7M84.2 242.6L85.7 241.3M324.2 237.9L322.7 238.2M318.6 239.8L316.8 240.5M157.1 238.7L156.3 239.4M268.1 251.0L269.8 250.7M146.4 242.5L144.9 243.1M186.4 243.4L184.9 242.1M222.8 243.5L221.9 244.1M153.4 252.0L152.0 252.5M164.0 245.2L162.4 244.2M149.4 249.4L151.1 249.4M207.1 248.8L205.8 247.5M205.8 242.9L206.8 242.5M219.6 247.6L220.4 248.3M178.7 244.9L177.7 245.1M123.9 243.3L122.5 244.2M179.0 247.8L178.0 247.2M142.7 254.2L141.8 253.3M234.2 242.9L235.1 242.1M189.6 248.0L188.2 246.9M155.9 248.9L157.9 248.8M109.1 240.0L110.4 238.7M289.8 246.6L288.2 247.4M257.3 249.3L258.8 248.7M310.7 244.9L312.3 244.5M176.6 245.3L175.2 245.7M233.9 239.2L235.1 239.3M131.5 251.5L130.4 251.1M203.1 242.3L201.9 242.3M256.9 239.6L255.1 240.5M159.6 250.0L161.2 251.1M213.3 249.2L212.4 249.8M256.2 248.1L254.5 248.2M185.0 239.9L184.0 241.0M260.3 248.4L259.3 247.9M108.6 238.3L109.9 239.6M205.1 251.2L206.4 249.9M248.8 251.8L247.5 251.6M109.3 243.3L111.3 242.6M107.1 239.6L108.9 238.8M270.2 252.7L271.4 252.5M83.4 247.0L82.5 247.6M109.6 239.5L108.8 238.7M301.4 238.8L299.9 240.3M329.8 251.2L328.8 250.5M261.9 246.0L262.9 245.2M175.3 249.6L177.1 248.6M206.2 239.6L207.5 240.2M109.1 240.0L107.1 239.4M278.4 245.8L276.8 244.6M304.8 240.1L306.6 240.4M113.8 249.1L115.1 249.4M327.0 238.0L328.5 237.5M299.4 251.7L300.8 251.2M240.1 241.8L239.1 241.6M260.4 245.4L261.8 244.3M198.8 247.0L200.4 248.1M100.5 253.9L98.9 253.9M222.2 240.2L223.5 239.6M156.2 244.7L158.0 243.7M85.3 251.2L83.8 252.0M236.8 247.6L238.0 247.5M116.3 246.8L115.3 247.3M182.2 238.5L181.0 239.0M327.9 240.9L326.8 240.5M312.1 240.9L311.0 240.9M217.4 238.1L216.4 237.5M176.0 252.4L177.9 252.8M101.7 241.1L103.8 240.9M160.5 239.5L162.6 240.1M159.1 249.0L157.2 249.7M89.4 238.4L91.0 237.5M331.7 251.4L332.0 250.4M312.5 246.1L314.0 246.0M84.4 242.1L85.8 243.5M127.2 247.9L128.8 247.7M210.1 244.8L211.3 243.5M155.5 241.0L157.2 241.8M97.0 245.3L98.1 245.9M205.8 239.1L204.2 240.7M110.9 254.1L109.0 254.5M211.0 242.9L212.7 243.3M232.3 250.2L233.5 249.7M92.5 240.4L94.2 239.5M297.2 238.4L298.3 239.2M190.7 248.9L188.6 248.3M187.2 244.9L186.0 245.5M327.9 247.4L326.8 247.5M274.6 250.2L275.6 251.1M153.3 240.5L151.3 239.8M285.6 240.7L286.9 241.7M295.3 246.7L294.4 247.5M197.6 239.9L198.5 240.3M262.6 249.2L264.3 248.8M298.7 250.6L300.0 251.0M168.3 238.0L167.3 238.7M151.6 252.5L150.3 252.6M306.2 246.0L304.8 246.2M266.2 252.9L267.9 252.8M322.7 238.7L324.8 239.1M142.2 245.4L143.3 245.4M280.0 249.6L281.4 249.6M130.8 245.8L129.6 245.3M116.7 246.2L118.4 246.1M193.0 239.0L194.2 238.8M120.7 253.8L121.6 254.3M94.9 239.0L93.2 238.9M295.7 252.9L297.7 253.6M305.1 244.5L307.1 244.9M243.0 252.6L244.7 253.1M292.2 253.8L290.7 252.3M159.7 238.9L158.2 238.0M162.8 251.3L161.8 250.4M135.7 247.8L137.4 246.8M151.1 251.3L150.1 251.1M99.1 252.3L100.5 252.9M122.1 246.6L121.1 245.7M203.4 238.4L205.0 239.7M224.9 245.1L222.9 245.7M154.5 245.7L155.8 246.0M232.7 250.4L234.0 249.7M125.2 242.5L127.4 242.1M161.1 242.9L159.9 243.4M168.1 250.2L167.1 250.1M168.2 237.9L170.0 238.3M265.9 244.9L265.0 245.7M155.5 247.5L153.8 248.0M165.6 251.6L164.0 252.7M100.4 243.9L98.9 245.4M120.0 239.9L121.0 240.5M321.4 245.5L322.6 246.6M149.3 243.5L147.9 242.8M256.5 254.5L257.6 254.5M187.1 240.7L186.3 240.0M206.2 246.6L207.7 246.9M203.7 242.6L205.4 241.8M179.3 247.6L181.2 248.6M314.5 253.3L315.5 254.0M251.9 250.3L253.7 249.8M314.6 247.5L312.8 248.0M146.1 249.5L145.1 249.7M130.0 241.2L128.0 241.9M84.8 253.5L83.9 252.9M208.0 253.9L209.1 253.2M322.9 245.3L324.0 245.2M140.2 249.0L139.4 248.2M166.2 245.1L167.0 245.6M104.2 248.8L105.4 249.0M235.4 239.2L234.3 238.7M281.4 238.0L282.8 237.5M264.1 241.0L263.0 241.2M138.1 246.3L139.4 245.3M142.3 244.2L143.2 243.7M301.7 245.4L300.1 245.5M213.0 252.9L211.2 253.7M281.4 241.5L282.6 240.8M147.9 249.5L146.5 250.2M155.1 250.9L156.4 250.8M276.4 244.9L275.1 245.5M96.8 251.5L98.2 252.8M218.3 254.3L217.2 254.5M176.4 252.3L175.3 252.6M202.9 242.0L202.0 241.1M167.8 238.8L169.5 239.9M99.9 249.5L98.4 249.9M224.0 241.8L225.8 242.8M267.3 242.4L268.7 243.3M161.4 244.0L162.8 244.2M118.3 247.6L117.1 247.3M172.4 253.4L171.0 254.5M288.8 247.2L286.7 247.4M285.4 247.8L286.9 248.4M235.6 246.0L234.4 244.9M169.1 248.4L168.2 249.0M143.0 251.6L141.1 251.8M102.0 253.4L100.4 254.3M254.4 245.7L252.9 245.5M197.0 254.4L195.5 254.4M121.9 248.1L124.0 248.5M280.1 249.9L278.6 249.9M194.9 241.2L196.4 242.6M155.3 240.9L154.3 241.1M82.7 253.5L84.2 253.2M115.7 247.7L113.6 248.3M205.9 250.3L207.1 251.2M214.3 238.5L213.4 238.1M203.1 250.7L204.6 249.6M271.6 249.7L270.8 250.4M98.8 247.1L96.8 247.0M216.8 253.0L215.1 253.3M218.4 246.4L217.2 246.6M315.1 250.9L316.3 251.8M210.8 241.1L209.4 240.9M232.4 247.0L230.8 245.6M89.6 245.4L91.0 245.0M265.9 253.9L264.5 254.5M327.0 239.5L328.7 240.8M289.1 238.8L290.8 238.1M140.4 240.4L142.2 239.7M305.4 245.1L307.4 245.1M134.3 238.9L132.8 239.3M188.5 253.4L186.7 253.3M111.3 245.8L109.8 245.0M280.9 238.3L282.5 238.7M126.2 240.0L124.7 239.8M86.9 243.5L84.8 243.2M319.6 242.2L318.1 242.7M222.8 246.7L223.9 246.7M164.1 246.6L165.1 247.2M271.3 245.8L272.6 245.4M216.0 254.5L214.1 253.4M117.3 240.1L119.3 239.8M171.2 239.6L170.2 239.4M123.6 253.5L124.5 253.8M234.9 247.5L235.7 246.7M296.4 247.3L297.2 247.9M205.7 241.1L203.9 241.3M297.6 253.1L296.6 253.0M237.0 251.6L239.0 252.4M290.9 248.2L292.7 248.5M252.1 243.0L253.3 244.0M241.3 249.8L242.3 249.1M117.5 239.1L119.2 238.7M248.6 251.4L249.8 251.5M100.6 253.1L101.9 254.1M230.1 241.5L231.3 241.1M246.0 254.2L247.1 254.5M141.5 253.7L140.3 253.1M232.6 248.0L233.6 247.5M99.5 237.8L100.6 238.1M298.1 254.2L299.6 253.1M210.2 253.4L211.5 253.6M113.9 250.5L111.8 249.9M116.1 249.8L117.5 249.1M308.9 245.2L307.2 244.5M298.3 249.9L297.3 250.7M213.7 244.3L211.7 245.3M261.3 246.8L259.8 247.0M317.8 250.0L318.7 250.8M329.1 245.3L330.3 244.6M221.3 246.4L222.7 245.8M156.2 248.9L157.9 248.3M216.0 238.3L217.6 237.5M292.4 238.4L291.2 237.7M283.7 245.8L285.0 245.9M133.5 246.6L131.4 247.0M200.8 252.5L202.3 253.4M221.3 254.0L219.7 253.4M253.4 241.3L251.9 242.8M183.9 242.1L184.8 242.7M294.9 250.6L293.8 249.8M163.5 242.6L164.7 243.2M281.5 248.1L279.8 248.0M293.0 253.1L291.9 252.2M289.6 250.6L290.8 251.5M167.1 242.2L168.5 241.0M116.1 254.2L118.2 253.9M288.0 253.7L286.9 253.0M147.9 238.7L149.7 238.3M229.5 252.1L228.0 251.3M164.5 254.4L162.5 254.0M292.4 245.4L291.5 246.0M135.3 242.8L133.1 242.7M291.3 244.4L289.5 244.0M235.7 241.3L236.9 242.2M193.0 239.1L193.9 239.9M187.9 239.9L189.5 240.5M311.1 250.7L309.7 251.1M271.9 251.1L270.5 250.2M135.1 247.0L136.2 247.7M183.2 252.9L182.0 252.0M221.8 241.7L222.9 242.2M155.5 245.9L154.6 246.4M242.5 252.0L243.8 252.3M270.4 241.1L271.7 239.8M300.8 248.3L302.1 248.1M177.3 239.4L175.4 239.7M188.2 244.7L189.8 243.7M294.5 242.1L293.2 242.4" stroke="#b4b4b4" stroke-width="0.9" fill="none"/>
<path d="M107.3 252.0L108.4 252.6M287.2 241.4L286.1 241.7M185.4 238.3L184.0 239.7M326.1 250.4L323.9 250.9M142.6 237.5L141.3 237.5M246.3 248.4L244.8 249.1M231.4 254.3L230.0 253.2M260.3 240.3L259.3 239.4M261.2 253.2L260.0 253.0M225.0 241.9L223.6 243.1M208.3 249.8L206.7 249.5M317.2 245.4L318.5 244.3M168.4 237.5L166.7 238.9M104.4 242.0L105.5 242.4M322.4 246.3L321.1 245.6M326.0 239.6L325.0 238.9M83.6 252.8L82.5 251.8M298.6 249.4L300.3 248.3M242.8 246.6L244.1 245.4M102.9 241.6L101.8 240.8M325.6 244.8L324.6 243.8M300.8 248.9L299.4 248.2M180.0 244.2L181.7 245.2M133.7 245.3L135.4 245.6M103.3 242.3L101.9 243.1M240.8 252.9L242.1 252.8M116.9 239.8L118.7 239.9M318.2 249.4L319.4 250.4M156.0 248.5L157.7 249.5M286.0 253.8L284.5 254.5M142.1 245.7L143.2 245.7M290.2 240.6L288.9 240.6M330.3 237.7L329.1 237.7M306.5 243.9L305.2 244.3M157.8 240.4L156.1 241.7M152.4 239.4L150.3 239.1M202.0 251.5L203.8 250.3M164.6 252.0L162.9 251.2M330.2 239.9L329.1 239.4M178.3 250.4L180.3 250.5M120.9 240.4L119.1 240.2M274.3 247.5L273.0 247.9M317.7 243.3L318.9 242.9M236.7 239.8L237.8 239.3M190.3 239.7L191.2 240.5M171.6 244.6L172.9 244.2M83.1 249.5L84.5 250.6M290.6 243.1L292.5 243.5M195.4 248.8L193.7 249.2M268.7 238.7L269.9 239.4M283.3 243.3L284.9 244.0M95.9 248.4L93.9 247.9M273.0 249.1L273.9 248.8M264.7 238.2L266.6 237.5M183.2 247.3L184.5 247.3M114.6 242.3L113.2 242.7M277.6 240.7L276.7 241.5M236.5 245.9L235.5 245.3M147.5 248.7L148.7 247.6M289.9 251.2L291.4 251.6M290.9 252.2L290.0 251.6M235.0 250.3L236.7 250.7M231.0 253.5L229.4 253.6M323.9 239.2L325.4 239.9M226.8 246.7L227.7 247.6M140.5 245.8L138.5 244.9M102.8 237.8L101.0 238.8M216.3 252.5L217.3 253.2M162.6 238.9L161.1 239.9M268.1 238.6L269.4 239.2M90.9 242.2L92.3 241.7M201.8 244.5L200.8 244.4M95.1 243.3L93.2 242.6M269.4 240.1L268.2 239.9M246.8 245.6L248.1 246.4M184.1 243.4L185.4 244.1M167.0 246.1L165.3 245.6M145.4 250.7L147.3 251.8M200.8 240.8L199.4 241.6M244.5 250.6L245.8 249.8M329.6 248.6L330.9 249.0M239.6 245.6L241.3 244.9M238.6 247.1L237.4 248.2M131.9 243.6L133.7 244.5M159.4 238.9L158.0 240.2M213.6 253.7L211.9 253.7M84.8 242.4L82.7 242.1M115.4 251.9L114.3 251.5M121.4 240.9L120.5 241.6M199.9 250.7L199.0 251.2M323.6 239.2L321.9 238.8M197.0 244.9L195.9 244.9M124.8 240.9L125.9 240.6M101.9 247.1L100.9 246.2M108.8 253.6L109.9 253.3M224.7 249.8L225.9 250.3M309.0 246.8L307.4 245.9M94.9 252.6L97.0 253.4M326.2 246.0L325.2 246.6M296.8 250.6L295.1 249.8M321.1 248.9L319.2 248.0M319.3 251.8L318.0 252.8M226.1 249.5L227.8 248.9M154.1 242.8L152.6 242.7M189.0 247.5L188.2 248.3M199.0 240.2L197.1 239.8M248.4 253.8L250.3 254.0M312.7 251.5L311.8 252.1M163.3 242.5L164.5 243.2M217.8 250.2L219.8 250.3M290.5 246.6L291.8 247.0M327.7 253.2L326.9 253.7M320.8 250.9L319.5 251.7M249.9 242.1L251.3 240.6M188.5 242.6L190.4 243.7M219.2 237.8L217.6 237.5M323.4 251.5L321.9 250.5M105.1 239.2L103.2 238.5M188.6 238.5L189.7 238.3M213.3 254.4L211.8 253.3M241.3 238.5L242.6 238.7M202.2 238.7L201.2 239.2M277.2 237.9L278.5 238.8M317.3 248.2L318.4 247.2M143.1 249.4L144.3 248.8M256.2 250.9L254.3 250.0M124.3 247.6L122.7 248.9M166.0 241.7L167.2 242.3M330.0 251.0L331.1 251.8M183.9 246.1L185.9 246.2M211.2 249.8L209.6 250.9M316.5 240.2L318.2 239.4M160.9 251.3L162.7 250.7M307.8 247.3L308.8 248.3M234.8 243.4L235.7 244.1M189.6 252.7L190.4 252.0M193.1 239.9L194.6 238.9M304.3 247.8L305.2 247.2M83.1 240.8L84.7 240.0M320.8 240.1L321.8 240.4M104.6 246.1L103.2 246.8M194.3 250.1L193.3 249.2M218.8 244.3L219.8 243.8M207.1 252.0L208.4 252.8M193.1 244.8L191.1 243.9M207.9 246.1L208.9 246.7M213.5 244.7L215.0 244.3M312.5 239.4L313.4 238.9M254.3 242.9L253.1 242.2M302.7 239.3L303.8 238.5M234.1 238.4L232.6 238.0M289.1 243.2L290.6 243.8M135.9 249.1L134.5 248.7M160.3 249.9L159.4 250.6M95.4 252.7L94.2 252.5M97.1 242.5L96.3 243.2M146.8 250.7L145.8 251.2M327.4 246.0L329.3 244.9M125.5 253.7L124.3 254.5M180.4 246.7L179.1 247.4M138.3 238.2L140.5 238.7M104.5 238.4L105.5 238.9M140.0 244.7L141.0 244.1M311.1 251.3L313.1 251.9M287.2 241.7L285.6 241.9M119.0 242.5L120.3 241.7M268.6 239.5L270.0 239.2M202.1 239.4L203.2 238.7M134.6 248.6L132.9 249.6M188.9 254.1L187.9 254.2M88.9 242.1L87.8 241.4M277.2 241.0L276.2 241.0M213.6 249.7L211.6 248.7M101.6 252.5L100.5 253.5M293.2 251.5L294.5 251.1M314.6 243.6L313.0 243.1M240.0 239.1L241.1 239.3M257.5 247.2L258.5 246.2M104.2 242.2L103.3 243.2M245.4 241.6L246.5 241.9M83.2 241.1L82.5 240.6M105.7 247.1L107.1 246.2M193.5 243.2L192.4 242.2M255.5 246.6L257.1 246.4M88.1 251.7L86.9 252.6M248.4 246.1L247.3 245.6M83.8 246.1L82.5 246.3M319.3 238.1L320.5 237.7M142.9 252.2L144.1 252.8M87.4 244.9L89.3 244.9M165.7 250.9L167.3 251.1M136.6 239.5L135.6 240.1M193.6 248.5L195.6 247.9M107.1 240.3L108.3 239.3M306.9 240.8L305.4 239.5M106.9 243.0L108.4 244.2M144.1 252.0L142.8 252.9M173.0 244.0L171.9 244.1M248.9 247.1L247.6 247.6M277.0 245.6L275.7 245.7M324.8 247.0L326.1 246.4M138.1 239.4L139.5 238.3M206.7 244.4L207.8 243.5M133.1 243.1L134.8 243.4M321.1 250.1L319.1 249.7M222.1 246.9L220.8 247.5M103.3 254.2L105.1 253.3M125.7 245.1L127.0 244.2M168.6 245.9L169.7 245.7M286.6 252.4L288.3 251.4M200.1 251.9L198.6 250.8M227.8 253.4L226.9 254.1M152.6 238.1L151.0 239.5M84.4 251.9L83.4 251.2M132.9 248.8L134.8 248.8M251.1 249.0L252.4 249.3M212.4 252.7L210.4 253.1M178.4 237.6L176.3 237.5M317.6 243.6L318.6 243.2M289.2 244.3L287.1 243.9M159.9 240.2L161.5 239.5M91.5 246.6L93.0 246.7M114.5 245.5L113.2 246.2M227.7 240.0L228.8 240.8M162.1 250.7L160.2 250.8M270.3 246.6L271.4 246.8M225.8 246.2L224.0 245.5M159.5 247.7L160.8 247.2M189.8 254.0L191.5 253.4M97.9 254.4L99.6 254.5M275.7 242.6L273.8 242.5M176.2 246.6L174.3 247.0M144.9 239.8L146.3 240.2M292.0 241.0L293.0 241.7M162.0 246.6L162.7 245.8M250.6 239.0L252.1 238.9M173.4 248.0L171.7 249.4M319.5 238.3L318.2 239.4M105.2 249.8L104.0 250.8M247.0 242.6L246.0 242.6M253.8 239.0L255.6 239.0M325.0 240.2L323.4 240.8M189.6 242.7L187.6 242.4M240.4 246.6L241.8 246.1M317.9 243.8L316.8 243.4M301.7 254.0L300.6 254.5M113.2 250.6L114.0 249.8M220.4 245.6L221.5 245.7M135.0 246.7L137.0 246.2M327.9 238.1L326.8 237.7M210.3 249.4L211.8 248.2M187.8 248.5L186.2 248.8M266.7 245.6L267.8 244.8M252.1 250.2L254.0 249.6M98.9 240.1L99.9 239.3M120.1 249.7L121.3 249.7M153.5 246.3L151.9 245.3M231.2 241.2L232.4 241.3M141.0 240.9L139.4 240.8M89.5 250.1L88.3 250.4M182.3 245.5L183.7 246.3M208.5 240.7L210.1 240.6M275.3 239.4L276.9 238.7M155.9 251.0L154.8 250.8M136.2 254.3L134.0 254.1M166.1 252.0L167.0 251.3M216.4 251.8L215.5 251.1M291.5 252.5L292.5 253.4M122.6 239.3L121.4 238.4M313.0 252.3L314.5 251.4M132.4 241.1L133.8 239.7M151.0 238.1L150.0 237.5M180.5 254.4L179.4 253.4M311.0 247.5L308.9 247.0M205.7 246.1L204.3 246.5M171.0 243.2L168.8 242.9M281.9 247.6L282.9 248.5M318.1 253.8L319.4 253.0M324.3 246.3L325.3 247.1M93.9 241.0L92.6 240.4M248.9 242.0L247.5 241.9M123.6 252.1L124.8 251.1M270.2 250.8L268.1 250.4M213.6 254.1L215.5 254.3M143.1 240.0L144.1 239.4M120.7 252.1L119.2 251.1M184.6 252.5L185.7 251.7M86.3 248.7L84.9 247.6M145.3 253.0L144.1 253.2M273.6 239.7L272.2 239.4M266.1 249.5L265.1 248.9M116.5 239.8L118.2 240.0M152.3 253.0L153.2 253.5M250.9 240.2L248.9 240.3M121.3 242.2L120.5 241.6M153.2 242.2L154.4 243.0M257.2 244.2L259.3 244.3M170.2 241.8L168.1 242.2M273.7 254.3L275.2 254.5M176.2 246.8L175.3 247.4M330.9 249.6L332.0 249.5M293.6 241.3L295.0 240.4M147.2 250.2L146.1 250.2M146.5 242.9L145.1 242.8M272.7 251.8L271.3 250.8M313.1 246.3L311.9 245.1M131.8 242.1L130.6 241.9M112.1 237.6L111.0 237.5M220.1 239.9L218.8 238.9M297.0 241.8L294.8 241.9M124.7 245.0L125.7 245.5M120.6 254.0L119.8 254.5M165.5 245.2L166.9 245.5M298.2 243.9L296.8 244.5M218.3 249.7L216.2 250.5M176.9 239.3L174.8 239.6M135.3 251.0L134.2 250.7M166.1 243.7L167.9 243.6M310.4 252.7L311.7 252.8M331.8 247.6L330.6 248.3M309.7 251.7L311.6 251.7M154.0 243.8L152.4 242.3M214.0 237.5L215.7 237.5M185.8 242.2L184.9 241.5M95.7 241.1L96.9 240.9M322.1 238.5L321.0 238.5M279.2 250.1L280.5 250.7M293.0 241.8L294.4 240.3M130.2 245.3L131.3 244.6M325.5 249.8L327.0 248.3M185.0 239.0L186.8 238.5M178.4 252.8L176.3 252.8M284.3 242.2L282.5 242.6M271.4 253.2L270.3 252.7M218.9 251.5L217.4 250.0M206.3 237.9L207.2 237.5M94.9 244.0L93.4 243.4M174.1 250.7L175.2 251.7M133.2 250.7L132.0 249.5M228.4 242.1L226.6 242.4M221.1 243.0L219.2 242.6M114.2 245.2L115.2 245.2M96.6 245.6L95.5 245.4M257.7 247.3L258.8 246.9M181.7 238.9L183.3 238.4M318.2 249.6L316.1 249.7M321.1 242.7L322.0 242.2M287.6 240.3L286.0 241.0M183.1 237.9L182.0 238.0M227.9 241.6L228.8 242.2M312.2 239.4L313.5 239.8M253.5 252.8L254.9 251.7M92.0 238.3L89.9 239.0M186.8 248.9L185.1 247.9M268.9 243.1L270.3 244.3M118.9 246.6L120.9 247.3M256.3 252.6L257.6 253.2M192.0 247.5L189.9 247.6M161.2 244.4L163.1 243.5M226.3 245.3L225.1 245.1M327.0 250.7L328.3 250.0M183.4 240.9L181.3 240.6M107.2 246.5L106.0 245.6M195.6 244.4L197.2 243.6M222.4 245.5L221.4 246.1M250.3 244.6L251.4 244.5M286.3 251.6L285.3 251.5M277.9 251.5L276.3 252.8M247.7 247.8L246.1 248.0M207.6 243.6L206.4 243.8M326.9 246.7L328.1 247.8M214.2 244.9L215.4 246.0M268.2 249.0L267.3 248.5M92.8 238.6L94.5 237.5M185.8 252.2L187.5 252.7M149.3 247.5L150.2 247.0M99.7 246.2L98.3 245.6M253.5 245.7L252.1 246.2M170.5 240.5L172.0 241.4M173.7 246.9L172.5 246.8M226.6 246.8L225.5 246.5M248.2 244.8L249.4 244.9M169.0 243.4L167.2 244.5M288.1 238.7L289.6 239.4M274.5 251.6L272.8 250.2M152.0 244.4L149.9 244.1M151.0 238.8L149.3 240.1M130.1 251.4L128.4 251.9M253.0 237.9L254.4 238.4M164.4 238.5L165.2 239.0M257.2 242.5L255.3 242.2M203.5 247.6L202.3 247.4M200.7 239.0L199.9 239.7M214.2 244.0L215.4 243.6M113.1 252.5L114.4 251.6M294.3 246.2L292.5 246.1M285.1 239.4L286.2 238.8M181.3 246.5L180.3 247.0M210.9 247.5L209.1 248.4M179.4 254.2L181.2 253.8M256.0 253.9L257.7 254.5M192.0 239.2L193.2 238.6M245.7 241.7L247.7 241.2M168.6 251.4L167.4 251.8M91.2 253.1L89.6 253.8M219.6 240.3L221.2 239.0M270.2 237.9L272.1 237.8M95.3 246.4L93.6 245.7M121.8 243.9L123.2 243.6M102.3 253.6L101.4 254.2M257.0 247.7L255.3 246.9M257.3 250.3L255.4 250.8M235.7 248.1L237.6 248.3M260.6 243.6L261.9 244.7M320.6 249.4L321.9 249.6M143.8 251.7L143.0 252.4M241.4 242.0L239.4 242.2M174.7 251.1L173.5 252.1M236.3 238.9L237.9 238.2M205.5 250.9L203.4 250.9M145.1 244.0L146.3 244.8M143.5 252.1L145.1 251.0M301.6 238.1L302.5 238.7M315.6 243.2L316.6 243.0M170.2 239.6L168.2 240.6M91.3 247.4L89.9 248.0M171.1 246.3L173.0 245.5M184.6 245.6L186.1 246.4M156.3 240.4L154.5 241.6M84.1 247.0L82.6 245.9M225.6 247.9L224.2 247.4M137.2 238.5L135.6 238.4M148.1 252.2L149.2 251.8M129.2 253.2L130.8 251.9M173.3 246.0L175.2 245.8M108.4 238.1L109.4 238.7M296.3 241.8L294.9 241.6M180.0 248.9L179.3 249.6M140.9 247.7L139.5 246.6M271.7 241.3L273.3 240.3M208.1 249.4L209.4 250.1M108.7 245.4L110.1 246.7M169.7 253.6L168.2 253.8M307.6 248.3L305.9 248.8M84.6 250.3L83.6 251.1M251.0 251.4L250.2 252.0M290.9 244.9L289.3 244.7M144.1 247.4L145.2 246.2M288.4 244.3L289.5 244.3M219.7 249.5L218.7 250.1M119.4 245.1L118.1 245.2M211.9 248.9L213.3 249.9M162.7 237.7L164.5 237.5M118.4 244.4L119.8 244.7M298.6 241.5L300.1 240.1M124.3 248.2L123.4 249.0M189.5 244.8L188.5 244.6M296.0 243.9L294.1 244.8M136.7 242.3L135.1 242.6M148.8 253.2L147.3 252.4M149.0 245.1L150.3 244.1M268.2 249.4L266.4 249.2M216.2 246.1L214.5 245.3M310.0 251.5L308.7 250.8M259.7 241.3L258.4 239.9M226.8 238.4L228.8 239.0M120.2 242.2L121.8 242.7M155.2 252.0L156.0 252.7M113.3 249.9L112.0 250.2M239.9 249.5L241.8 250.1M222.5 253.8L224.3 253.5M98.8 245.2L100.5 245.1M96.3 246.1L94.6 244.7M246.4 254.2L244.6 254.4M167.7 251.4L165.7 251.3M193.8 248.0L192.3 249.2M316.5 240.5L318.5 241.0M113.9 253.5L112.2 253.5M97.0 244.9L95.8 245.9M242.2 243.9L243.2 243.3M192.7 254.5L194.6 254.0M203.6 243.5L204.6 244.3M162.2 250.3L164.0 249.5M246.9 237.9L245.1 237.9M239.6 240.2L238.2 239.4M212.1 246.5L213.5 247.4M126.5 246.1L128.2 247.2M234.6 251.4L233.5 250.4M211.7 240.7L213.4 239.8M197.1 252.5L195.6 251.1M329.6 240.8L327.8 240.5M221.8 238.1L222.6 238.9M323.0 251.5L324.2 252.1M95.8 239.3L97.7 240.0M243.4 242.2L242.2 242.1M205.2 240.1L206.0 239.3M136.9 249.6L137.9 249.1M217.5 244.2L219.0 243.5M273.1 238.5L274.6 238.3M165.7 237.9L164.2 237.7M242.3 248.7L244.2 249.3M141.0 239.2L139.9 239.7M275.0 249.3L274.0 250.0M207.3 245.2L208.3 244.6M96.8 245.2L95.7 245.9M204.0 250.3L205.1 250.1M330.5 246.4L328.7 245.9M99.0 240.6L97.7 239.3M129.7 252.0L127.8 252.5M193.3 243.3L192.2 244.3M125.2 244.7L126.1 244.1M210.4 241.7L211.7 243.0M154.7 241.9L152.8 241.2M307.3 247.7L306.0 248.1M200.2 242.0L198.9 242.1M94.9 252.8L93.3 252.6M90.8 247.2L91.8 247.0M228.1 240.7L229.2 240.4M119.2 248.9L120.9 248.3M243.3 239.7L244.7 240.5M180.0 241.3L181.9 240.8M231.1 245.3L229.4 245.8M330.9 247.5L332.0 247.4M202.8 250.6L204.1 249.8M317.2 245.5L316.2 244.6M132.9 244.2L134.2 244.1M247.4 250.1L248.7 249.6M301.9 238.8L301.1 238.1M116.9 254.3L118.2 253.8M195.8 253.1L194.5 252.8M125.4 244.7L126.4 245.1M106.4 248.4L104.5 248.3M312.9 252.7L312.1 253.4M296.8 253.8L295.0 253.6M101.0 245.9L99.6 244.5M101.3 253.4L102.2 254.2M203.8 246.2L202.7 246.8M287.0 252.4L285.5 253.9M99.6 249.2L101.3 248.6M90.0 247.7L91.6 247.1M158.4 240.5L156.6 241.2M168.2 246.6L166.7 246.0M175.4 241.4L176.8 240.3M156.6 246.8L157.9 246.5M229.1 241.4L230.2 240.9M101.6 246.9L100.2 246.3M217.2 241.5L215.3 240.9M248.0 250.9L249.1 251.4M141.6 246.0L142.7 246.1M208.3 253.6L210.1 252.7M202.7 245.2L203.9 244.9M85.7 248.3L84.2 249.0M127.3 249.3L129.3 250.0M230.3 246.4L232.0 246.6M93.0 238.0L91.5 237.5M287.7 242.7L285.7 242.1M160.1 246.2L159.0 247.0M247.9 251.3L249.0 251.1M109.5 252.0L108.5 251.6M245.2 247.6L246.7 247.1M215.4 246.3L216.7 247.0M113.4 252.7L112.2 253.1M209.7 252.3L210.9 252.5M148.0 253.8L146.2 253.0M179.5 248.5L177.6 248.1M179.6 250.3L178.4 250.8M222.8 246.7L224.7 247.7M235.0 246.1L233.5 246.4M151.1 250.2L152.2 250.7M121.6 250.7L119.9 250.1M240.1 239.9L238.6 240.5M276.7 244.4L275.5 244.3M104.4 248.0L103.1 247.6M170.0 240.7L168.3 239.7M305.4 241.1L306.9 242.3M218.4 243.1L220.2 243.5M101.1 253.1L99.5 252.5M153.4 244.1L154.9 243.1M243.3 239.7L244.8 239.6M211.9 243.8L211.0 244.6M212.1 246.2L210.8 246.3M166.4 254.2L168.4 254.5M303.5 253.3L301.8 253.8M195.4 249.0L196.2 249.7M296.3 242.6L295.3 243.6M286.8 245.7L285.6 245.0M326.2 240.9L325.2 240.3M116.9 239.8L116.1 239.2M146.5 240.3L147.8 240.6M157.6 241.9L156.5 241.1M321.2 240.3L323.2 239.9M327.9 238.3L329.4 237.7M217.7 239.0L216.4 238.9M287.1 254.3L288.7 254.5M274.9 244.6L273.0 245.7M301.0 239.9L299.9 239.9M144.5 239.8L145.5 240.2M306.2 247.5L304.6 247.8M132.8 248.6L134.6 248.4M163.8 252.4L162.2 251.1M239.5 253.6L241.4 253.3M139.1 247.7L140.4 248.1M106.8 250.1L108.1 251.0M175.2 248.8L176.7 247.3M255.6 252.2L256.8 252.4M215.6 246.6L213.6 247.0M225.4 243.2L224.1 242.7M240.0 250.3L240.8 251.0M229.8 250.3L228.6 249.4M143.6 247.7L144.9 247.2M181.2 242.1L182.4 243.4M274.0 250.1L275.7 250.6M114.6 244.7L113.5 243.5M297.8 239.6L299.2 239.5M143.2 239.3L141.5 237.9M314.9 248.4L317.0 248.3M130.7 252.4L129.6 251.6M127.4 254.0L128.6 253.5M157.9 245.0L159.0 245.3M101.0 244.2L99.4 244.8M242.3 247.7L241.1 248.4M260.1 243.6L258.5 242.9M271.3 242.7L270.2 243.4M100.9 252.6L102.2 252.4M110.8 247.1L111.8 246.9M250.8 245.3L249.3 246.1M247.9 237.7L246.7 238.7M123.9 240.8L125.8 239.9M120.6 245.6L118.9 246.1M171.7 246.5L169.6 247.0M256.6 253.4L257.9 254.4M127.3 240.5L126.0 240.3M125.8 251.3L127.7 251.6M188.3 241.0L186.7 240.3M316.4 243.8L314.2 243.4M327.5 254.2L328.6 254.0M273.5 251.3L271.9 252.1M291.8 246.4L290.3 246.4M300.9 251.4L302.1 251.4M96.3 251.7L97.8 251.9M230.1 252.9L231.6 252.3M262.4 239.6L263.2 240.2M108.1 242.7L109.1 243.1M135.8 249.2L137.1 250.5M275.6 244.2L274.1 245.4M310.3 243.8L311.3 243.2M327.0 250.3L326.0 250.8M180.2 249.7L179.3 250.3M96.7 241.8L95.8 241.1M268.6 252.8L267.1 252.2M157.8 240.4L158.8 240.9M325.3 247.2L327.2 246.9M170.1 237.6L168.2 238.2M128.9 251.9L127.8 252.1M180.6 244.3L179.3 244.3M118.2 245.1L116.8 244.2M157.0 247.9L158.3 248.8M220.3 241.4L218.8 242.5M286.6 253.0L287.6 252.1M110.2 245.2L108.4 244.2M310.1 245.4L308.7 244.6M225.0 253.1L226.0 252.9M228.4 244.5L227.3 245.2M214.6 245.4L213.3 246.5M224.2 245.9L225.2 245.2M160.2 245.6L159.0 245.9M122.5 247.5L120.5 247.1M291.1 243.3L292.4 244.0M270.3 242.5L271.5 241.6M87.0 243.6L88.2 243.5M132.0 250.4L133.2 251.6M313.6 252.6L312.1 253.8M224.3 247.5L222.7 248.0M152.5 243.3L151.1 242.3M260.1 242.0L261.8 240.6M168.3 244.6L170.4 245.0M146.8 239.3L148.4 238.0M168.9 249.7L169.9 249.1M118.7 250.8L120.7 251.1M183.7 251.1L182.4 250.5M150.3 241.7L151.8 240.6M191.5 248.0L192.7 247.7M264.8 238.8L263.0 237.5M227.4 250.2L228.6 249.0M252.9 246.6L254.6 246.0M301.0 253.4L299.5 253.0M206.6 251.4L205.0 252.8M214.1 244.4L215.0 245.3M208.3 245.3L209.7 244.5M214.5 247.6L215.7 248.8M166.5 246.3L165.2 246.2M115.9 238.3L114.6 237.5M105.5 241.4L104.1 241.3M161.9 248.1L162.8 248.5M254.4 244.0L253.1 243.5M313.4 237.6L312.1 237.5M163.1 248.1L164.8 248.3M235.3 253.8L233.4 254.1M263.9 253.6L264.9 254.3M227.6 250.9L226.7 250.4M156.0 246.5L154.8 245.4M164.0 252.7L162.0 252.0M219.9 252.7L218.5 253.3M262.0 253.6L263.8 252.6M222.9 254.0L224.3 253.6M325.2 250.6L327.0 249.7M284.3 253.3L286.3 254.0M198.7 240.1L200.0 240.6M128.2 246.3L126.2 245.6M214.9 244.4L216.0 244.4M201.8 247.0L203.3 246.8M91.9 241.7L93.1 241.6M170.8 254.0L172.7 254.3M251.5 239.5L252.6 238.4M288.9 242.4L290.5 240.9M297.2 252.1L295.4 251.8M288.7 245.2L289.9 245.2M208.3 240.4L209.3 241.0M204.3 248.5L205.2 249.5M221.5 243.0L220.6 242.7M283.9 249.5L284.6 250.3M187.1 246.9L188.8 247.8M296.5 243.5L297.6 242.8M204.0 252.8L203.0 253.0M95.3 248.3L94.0 249.6M295.1 238.8L296.7 238.3M189.3 244.2L187.7 245.6M255.9 240.2L254.5 241.1M97.3 250.5L98.3 251.1M275.9 237.8L274.7 237.5M251.8 242.2L250.5 243.0M317.6 248.9L319.8 248.6M115.3 239.4L116.7 239.1M273.0 254.3L271.6 254.5M88.3 242.7L87.2 242.3M269.9 254.0L271.5 254.4M226.8 246.8L225.8 247.4M115.3 240.5L114.1 241.6M145.4 252.8L143.8 253.5M126.6 249.3L124.7 249.6M287.5 248.2L285.9 248.1M292.8 248.4L294.2 249.6M328.3 245.9L329.3 245.2M175.5 238.8L176.9 239.0M174.9 251.1L176.4 252.3M329.1 243.1L330.9 244.1M204.5 246.8L203.6 246.0M101.8 246.0L103.4 246.4M91.5 251.1L93.0 250.5M154.8 252.6L156.2 253.1M210.2 238.6L208.8 238.7M166.0 246.5L167.1 246.8M121.1 243.4L122.8 243.6M236.2 250.7L237.6 249.7M172.3 239.5L171.1 240.0M92.2 247.3L93.3 248.0M196.4 249.1L198.6 249.5M289.9 242.3L291.5 242.5M205.6 241.0L204.2 239.9M274.8 245.3L275.9 246.1M138.5 237.6L136.6 237.8M84.6 246.5L83.3 247.2M230.6 252.4L229.3 252.1M137.6 245.8L138.8 247.0M172.8 247.7L170.8 248.3M215.0 245.3L217.1 245.0M173.5 250.2L172.4 251.2M104.0 237.8L102.4 238.6M89.6 252.1L87.6 251.7M323.9 246.6L322.7 246.6M191.4 249.4L193.1 249.8M282.3 239.0L281.4 239.5M155.7 238.2L157.6 238.5M261.6 246.5L260.7 245.8M206.3 251.6L204.3 252.3M150.8 246.2L152.5 245.3M305.1 243.1L306.5 242.8M310.5 239.0L309.4 238.1M291.0 252.7L289.3 252.4M146.4 247.8L148.4 248.6M223.5 251.5L221.9 250.2M124.4 247.3L122.8 245.9M217.5 250.5L219.0 249.4M313.6 237.8L315.1 237.5M215.8 249.7L213.8 249.9M331.2 242.2L330.1 241.4M181.6 244.3L180.0 243.5M284.9 247.1L286.2 247.6M186.7 245.7L187.7 245.5M96.3 238.9L98.1 238.5M111.7 249.4L113.7 250.0M87.3 241.9L85.8 242.7M179.1 247.1L177.4 246.8M248.2 241.6L246.6 241.7M201.3 248.6L200.2 248.4M298.8 238.3L299.7 238.7M308.3 239.1L310.1 239.4M146.9 253.1L145.2 252.9M282.9 244.2L281.7 245.3M122.7 246.2L124.4 246.2M330.2 253.4L331.2 253.1M268.6 252.3L270.0 252.8M294.5 254.3L295.7 254.5M271.9 245.0L272.8 244.2M130.7 240.4L129.1 240.0M131.3 245.3L132.7 244.6M94.2 243.0L92.3 244.0M306.4 254.4L305.0 254.5M276.3 247.8L274.3 247.1M240.0 247.8L241.8 248.4M294.4 239.4L292.8 240.6M201.5 241.7L199.8 242.7M86.9 247.1L85.4 247.0M95.4 248.8L94.0 248.8M123.8 247.9L124.9 248.4M322.4 250.0L323.1 249.3M263.6 244.4L262.6 244.8M214.9 253.4L213.8 253.7M240.8 248.6L239.0 248.0M190.5 244.1L189.4 243.2M155.9 247.1L154.7 247.5M265.5 248.4L266.6 247.9M288.1 250.0L286.3 250.4M222.1 243.8L221.1 243.1M223.1 249.2L224.3 247.9M290.4 249.7L288.6 248.6M324.0 254.1L322.6 254.2M141.2 248.6L139.4 248.1M90.6 240.0L92.0 239.1M284.6 244.8L286.1 245.3M131.6 242.1L130.0 241.0M137.1 241.9L138.0 241.3M277.3 243.6L278.7 244.1M85.1 250.9L87.0 250.5M200.6 252.5L202.7 252.5M325.5 253.7L327.6 254.3M265.2 250.4L266.5 250.3M226.4 251.0L227.5 251.9M249.3 242.8L247.9 243.0M279.9 242.9L278.0 243.7M164.4 253.0L163.5 252.3M141.6 243.2L142.6 243.7M219.6 248.9L218.7 248.0M236.7 250.8L237.9 249.7M299.2 243.6L297.3 244.5M105.7 253.9L106.8 253.0M105.3 239.2L103.9 238.1M119.8 254.1L118.4 254.5M202.8 252.0L203.9 252.9M272.8 239.6L271.4 240.3M226.4 247.5L227.8 247.0M150.2 254.0L148.8 253.9M202.7 253.0L203.7 253.6M187.7 247.1L188.8 247.4M286.8 246.2L285.7 245.6M91.1 241.1L89.0 240.7M227.7 241.9L226.0 241.7M294.7 252.7L293.3 251.5M159.7 249.2L161.3 250.6M210.1 237.7L208.3 238.7M298.4 239.6L297.2 239.6M128.0 250.9L130.0 250.4M298.2 250.6L297.2 249.6M98.7 247.0L97.3 247.3M326.8 244.3L325.5 245.3M196.3 251.3L194.5 251.1M261.0 242.5L261.8 243.3M198.9 242.0L197.0 241.9M209.8 243.1L211.5 243.5M84.6 237.6L85.9 238.0M103.4 241.9L101.4 241.9M128.8 249.8L129.8 249.4M114.4 249.5L113.0 249.2M188.1 244.0L189.9 243.6M217.9 241.7L219.1 242.4M205.2 246.8L206.9 246.8M233.1 241.5L231.0 241.3M125.7 252.3L127.1 252.9M147.4 238.1L146.3 237.5M218.8 252.2L220.7 251.8M249.2 248.0L251.0 248.6M163.2 244.9L162.1 244.0M105.3 239.2L106.9 240.4M143.8 253.3L145.7 253.9M93.8 240.5L94.7 241.4M184.2 241.0L182.7 239.8M265.3 240.5L263.4 240.0M186.1 242.1L185.0 242.9M309.4 248.8L307.5 249.5M276.5 243.3L275.6 243.6M187.3 250.3L185.6 251.4M282.1 241.1L283.7 241.5M246.2 242.4L245.4 243.0M206.9 247.4L208.6 246.7M101.8 242.8L100.3 241.8M201.1 247.8L202.4 247.7M232.1 240.5L230.4 239.7M184.4 251.1L183.3 251.2M118.9 245.3L117.1 245.9M105.7 249.4L107.5 250.4M326.3 253.2L327.5 253.4M165.4 250.8L166.5 250.0M254.6 241.5L252.5 241.1M163.0 253.6L164.7 252.8M157.8 249.2L159.1 250.3M238.9 238.6L237.8 239.5M225.2 253.7L224.1 253.3M205.0 252.9L204.1 252.2M308.8 249.4L308.0 248.6M246.1 239.5L248.0 240.4M117.0 253.9L115.6 254.0M271.1 237.9L272.6 237.9M213.9 253.5L215.1 252.4M237.6 252.7L238.5 253.5M137.1 240.8L135.5 241.9M267.4 240.1L268.5 239.4M112.8 241.1L111.8 241.2M183.8 251.5L185.2 251.2M189.4 249.0L188.0 249.4M100.8 252.1L99.8 252.5M156.0 241.7L157.8 240.8M188.8 238.2L189.8 237.6M100.1 248.8L99.0 249.3M83.1 252.2L82.5 252.9M148.0 250.4L149.0 250.9M175.3 241.5L176.5 241.5M247.6 249.2L248.8 249.9M138.1 245.9L136.9 246.7M135.0 249.1L136.4 250.4M288.9 246.0L290.4 246.3M129.9 240.1L131.0 239.2M258.7 254.2L257.0 253.1M210.1 246.6L211.5 246.8M160.6 253.7L161.7 254.5M153.9 246.1L153.0 246.6M144.4 253.0L142.5 253.7M319.1 252.3L317.9 252.6M287.3 242.1L289.3 242.7M312.0 253.7L313.2 253.5M317.3 247.1L319.0 248.2M209.6 241.2L207.7 240.9M176.8 240.5L178.5 239.6M128.7 252.8L129.9 253.0M94.9 242.2L93.5 241.9M174.2 253.2L172.6 252.7M296.0 249.0L297.0 249.4M131.2 250.5L132.9 249.5M283.0 243.3L284.8 244.1M328.2 249.7L329.2 248.9M110.7 243.8L109.2 242.6M252.6 242.5L251.0 243.2M225.8 245.3L224.3 246.1M189.8 254.3L188.5 253.0M248.3 243.2L249.6 242.4M105.7 239.6L104.3 240.7M268.4 239.7L269.9 240.0M114.0 253.6L112.5 253.6M243.1 253.0L241.5 252.2M214.5 247.8L213.7 247.0M282.8 243.4L281.1 243.7M248.6 246.3L250.0 246.5M154.9 248.9L156.7 247.7M90.0 239.5L88.8 240.5M138.6 241.7L136.8 242.2M246.1 250.4L244.6 249.4M209.2 241.4L211.0 241.4M289.0 248.9L287.0 248.6M141.5 241.4L140.4 241.5M119.0 241.8L120.5 241.1M266.2 244.0L267.4 242.9M304.4 240.9L305.9 242.2M322.7 241.9L323.7 241.3M277.4 251.6L278.8 250.8M299.8 247.3L298.6 247.4M234.7 246.2L236.3 245.2M218.7 248.1L217.5 248.9M107.0 241.6L108.2 241.8M130.7 238.3L129.6 239.0M149.4 253.6L150.7 254.5M144.6 240.8L146.1 241.9M231.7 250.8L232.7 251.7M189.2 252.1L188.0 252.4M324.1 250.8L325.3 251.6M231.7 248.7L230.3 249.5M104.9 250.1L103.9 249.6M199.5 242.5L201.1 243.6M177.8 244.1L176.6 242.9M177.1 237.9L175.6 237.5M324.3 246.8L322.4 247.8M153.2 247.8L151.2 247.2M108.3 238.6L110.0 238.0M263.6 250.7L262.3 250.3M325.3 251.8L327.2 251.6M310.1 250.9L311.1 251.2M175.2 239.8L177.1 239.1M246.9 237.7L248.6 238.1M130.0 246.7L131.6 248.1M90.0 239.1L91.2 239.9M238.5 253.8L237.4 254.5M114.1 249.6L115.6 249.5M109.8 253.5L108.9 253.1M118.9 240.5L120.6 239.8M224.8 248.2L223.5 247.6M93.7 240.8L95.1 242.0M286.6 247.8L285.1 247.0M164.2 238.2L162.6 238.5M263.2 251.4L262.4 252.0M309.9 243.5L311.1 243.3M236.4 243.9L238.4 244.3M320.8 240.4L322.2 240.5M237.9 241.2L239.5 240.9M232.7 249.4L231.4 249.7M88.7 238.1L89.7 237.8M283.2 249.1L284.2 249.6M164.3 244.6L163.0 244.6M261.2 238.7L259.5 237.5M286.3 252.3L287.4 252.7M161.3 251.2L160.0 250.0M304.5 239.7L303.1 239.0M299.9 248.8L301.2 248.6M121.2 238.3L119.7 237.5M145.9 242.3L147.7 242.9M149.0 239.2L150.3 239.9M299.1 243.4L297.4 244.7M188.3 245.3L187.6 244.5M237.3 247.1L239.4 247.6M264.5 249.7L263.3 249.3M132.1 238.2L131.0 239.1M262.7 246.1L263.7 246.5M145.0 251.5L146.1 250.8M319.1 249.3L318.0 249.9M291.8 248.0L292.7 247.5M313.0 242.0L312.0 242.6M204.5 245.6L203.2 246.3M294.7 249.1L293.6 249.5M196.6 243.9L195.4 243.7M138.7 238.8L140.5 238.4M258.2 242.5L256.3 242.2M140.9 244.3L139.6 244.7M287.3 254.5L285.8 254.5M83.6 237.9L84.8 237.5M280.9 247.2L279.0 246.9M285.5 246.1L284.3 245.0M122.0 247.9L123.4 247.0M285.7 238.1L284.6 238.6M88.8 238.7L87.4 237.5M248.6 252.3L246.5 252.0M94.8 239.1L93.5 238.5M314.8 254.3L316.4 253.2M261.3 245.4L259.9 246.2M282.2 246.4L281.2 247.0M135.4 239.0L136.4 238.9M224.8 241.9L223.4 241.4M202.8 251.0L201.5 250.8M232.7 248.0L231.7 247.5M143.8 238.6L142.4 238.0M96.4 250.8L95.5 249.9M265.0 253.1L263.5 252.7M299.5 247.2L301.2 247.7M189.6 243.3L188.0 243.2M185.9 248.3L187.1 248.1M85.4 246.8L86.4 245.8M185.3 243.6L184.0 242.7M300.6 245.9L298.5 245.8M114.8 243.0L116.5 244.1M90.0 252.3L88.0 252.3M161.3 246.7L163.1 245.7M298.8 247.3L300.7 246.4M275.3 242.9L273.7 241.9M257.6 249.9L258.8 249.9M199.8 251.6L201.1 251.0M313.1 242.0L311.5 242.0M115.4 251.7L116.6 251.2M286.5 248.6L284.5 247.9M88.8 243.0L89.9 243.7M304.1 252.7L302.7 252.9M322.1 242.2L323.4 241.6M281.3 247.4L279.9 248.4M273.1 241.7L271.7 242.6M205.1 250.5L206.7 252.0M212.5 246.4L213.3 245.6M275.9 242.5L274.0 242.6M243.8 243.5L243.1 244.2M290.2 245.7L291.5 244.7M259.4 251.5L260.9 251.9M225.7 242.0L227.5 241.4M269.5 244.2L267.6 244.7M266.0 244.2L264.4 244.5M227.5 238.8L226.1 238.4M97.3 238.1L95.4 239.1M109.2 252.9L107.9 252.3M185.4 244.6L184.7 245.3M273.8 240.6L275.8 240.7M92.2 241.4L93.6 241.5M85.8 242.4L87.8 242.9M254.1 243.2L253.0 242.8M105.6 249.3L107.4 248.3M103.9 240.1L102.8 239.7M147.0 252.2L144.9 251.9M280.1 242.5L278.6 241.0M276.2 245.4L274.7 246.8M313.9 248.7L313.0 249.3M330.9 244.9L329.6 246.0M271.1 246.5L272.7 245.8M139.7 238.0L138.3 237.5M315.1 249.2L316.6 250.6M84.5 249.2L83.7 249.9M269.2 241.6L267.7 241.5M114.3 248.7L115.6 247.5M318.2 253.4L318.9 252.6M274.3 253.0L276.4 253.4M320.0 248.4L318.3 249.0M110.5 245.3L112.0 246.3M203.0 249.2L204.2 250.3M274.2 240.3L273.0 240.3M85.9 249.6L84.7 249.2M276.9 249.6L275.5 248.8M212.7 241.8L214.6 242.5M134.6 248.5L135.9 247.3M182.9 247.6L181.2 247.9M109.4 241.1L107.9 241.9M165.2 249.6L167.0 248.7M201.0 244.7L199.7 245.7M119.7 243.6L121.2 243.8M317.3 250.5L319.1 251.4M179.4 240.1L180.8 239.3M148.5 241.0L149.7 240.5M96.7 253.5L95.0 253.9M137.4 247.7L138.5 247.4M168.9 246.6L167.6 247.0M133.5 250.4L134.8 249.7M162.1 246.1L160.2 246.1M231.3 243.7L229.5 243.7M105.2 241.9L106.6 242.6M247.8 252.0L246.3 252.6M265.9 248.2L267.2 248.2M153.7 250.4L152.4 250.0M171.5 239.3L169.5 239.2M162.9 245.8L163.9 246.5M128.5 242.5L126.8 243.4M111.7 245.2L113.0 244.5M250.0 254.1L248.5 254.2M211.6 254.1L213.5 253.5M252.4 241.2L253.8 241.4M222.9 249.2L224.1 249.1M185.3 253.8L187.0 253.1M315.4 244.9L316.6 245.4M124.8 239.9L126.4 240.9M216.7 249.1L218.6 248.3M311.7 241.6L310.4 242.1M214.2 253.1L216.0 254.0M161.8 245.2L163.2 244.9M85.8 240.5L84.2 239.5M153.2 241.5L154.1 242.1M117.5 248.5L115.3 248.9M120.6 242.0L122.1 241.8M159.1 247.5L157.1 247.2M99.1 243.9L97.1 243.8M267.0 251.8L267.8 252.4M234.8 243.0L236.6 242.9M258.8 248.9L260.1 249.8M287.7 237.7L289.3 239.0M147.9 246.2L150.0 246.4M154.3 249.9L153.4 249.0M118.2 254.5L117.2 254.0M260.5 251.0L262.1 251.9M331.7 243.6L332.0 243.2M170.9 239.8L169.1 239.9M307.4 253.6L308.5 254.2M248.6 240.2L249.9 239.7M275.4 252.1L276.8 252.7M304.7 253.0L303.3 252.0M254.8 253.4L256.7 252.5M128.7 240.2L130.1 240.2M84.4 240.6L86.5 240.8M329.4 247.6L330.4 246.9" stroke="#38a0a0" stroke-width="0.9" fill="none"/>
<path d="M187.4 253.1L188.4 253.1M325.8 245.9L327.0 246.8M260.8 246.6L258.8 247.1M311.4 244.4L309.9 243.8M284.6 248.6L283.1 249.3M125.3 240.8L126.2 240.2M235.5 246.7L236.8 246.4M275.6 252.9L274.7 252.2M210.8 238.7L211.8 238.3M141.7 250.6L139.6 251.2M222.2 244.2L221.0 244.8M317.1 237.7L315.7 237.5M141.6 248.6L140.3 248.1M317.1 242.1L315.3 241.3M320.2 243.6L318.7 243.1M190.1 238.1L188.8 237.5M285.7 248.4L283.8 249.2M180.0 243.5L181.4 243.2M112.7 246.0L110.9 245.3M99.0 244.3L97.2 243.7M197.5 252.9L199.0 253.5M210.3 244.2L208.5 244.2M110.6 252.2L111.8 253.1M182.1 251.2L183.6 252.6M101.1 249.6L99.7 250.0M238.3 240.8L239.5 240.9M284.6 238.2L286.6 238.8M189.7 254.3L188.6 254.2M293.9 242.2L294.7 242.9M177.5 239.9L179.5 240.3M172.9 241.5L171.3 242.9M221.5 238.0L223.4 237.5M84.8 249.1L86.4 247.6M327.3 237.9L325.6 238.6M202.1 250.6L203.8 249.5M307.6 244.6L305.9 244.3M319.3 249.2L318.1 249.5M268.0 237.8L265.9 237.5M123.4 247.6L124.3 248.4M192.2 243.4L193.4 243.2M253.1 244.6L252.0 245.0M272.2 252.7L271.3 253.2M97.2 243.9L95.5 242.6M316.6 245.1L314.8 244.6M223.6 251.2L221.7 252.0M203.0 237.8L204.5 237.5M153.1 248.3L154.4 248.2M191.4 242.4L192.4 242.0M100.1 245.2L98.9 245.2M108.3 253.2L110.2 252.8M328.5 252.8L327.1 253.3M148.8 241.4L147.6 241.3M130.5 242.7L128.9 243.6M235.9 253.0L236.8 252.2M263.2 246.2L261.9 247.3M273.7 242.7L275.3 243.6M217.0 245.8L218.4 244.8M299.2 241.6L300.9 240.7M175.2 252.9L177.1 253.2M122.3 253.8L123.9 252.5M327.1 250.1L325.7 250.6M90.7 251.0L88.7 251.2M158.0 254.5L159.4 254.5M177.1 238.9L178.5 238.5M207.7 251.1L206.3 252.0M314.3 239.6L313.2 239.8M174.3 245.4L173.0 244.7M170.6 246.4L171.7 246.3M195.9 239.2L194.8 238.7M173.7 253.2L171.7 252.4M257.6 247.6L258.6 248.3M252.2 240.5L250.7 239.9M270.2 249.6L272.0 249.2M289.8 245.0L291.2 244.1M252.5 246.1L253.3 245.5M142.0 240.0L143.6 238.9M143.5 247.8L145.3 246.8M330.2 246.2L332.0 247.0M257.7 246.9L256.7 246.4M163.4 242.6L164.6 243.5M323.2 239.6L321.6 238.7M240.5 247.8L239.2 247.2M138.2 249.8L137.0 250.7M189.3 249.0L190.9 250.0M190.3 249.9L191.3 249.6M234.8 247.6L233.5 248.2M251.8 242.4L250.8 241.3M303.9 251.7L302.1 251.1M200.6 245.4L202.4 244.4M140.8 240.3L141.7 240.9M113.0 247.3L114.6 247.9M232.4 244.4L230.8 243.6M163.2 250.2L161.5 251.4M112.7 251.6L114.2 252.8M158.1 247.4L156.9 247.1M266.5 244.9L264.8 244.7M204.8 251.8L203.7 252.4M327.1 247.4L328.6 248.2M215.2 248.9L213.8 249.4M311.2 241.2L309.0 241.5M328.2 247.1L329.1 246.7M292.5 240.9L291.0 239.5M283.0 244.4L281.9 244.6M139.4 254.4L141.1 254.5M174.1 241.3L172.5 241.3M287.9 243.4L286.0 242.5M298.4 253.6L297.4 254.0M278.1 238.5L279.7 238.3M212.6 252.4L214.0 253.3M206.6 238.8L208.0 238.6M244.3 254.4L245.5 253.6M276.1 252.7L277.3 253.8M204.5 242.2L202.9 243.5M181.5 245.3L182.7 245.7M133.2 238.2L131.1 238.3M141.8 254.4L143.0 254.3M198.6 243.4L197.6 243.3M215.6 246.0L217.1 245.3M175.3 247.2L173.8 245.8M227.1 243.8L228.1 244.7M210.9 245.6L209.4 245.4M135.0 250.5L136.2 250.7M201.4 239.8L200.3 239.8M319.0 244.3L317.1 244.0M275.3 252.4L273.6 251.5M123.7 240.6L124.7 239.6M158.0 239.9L156.9 239.6M268.9 252.4L270.1 253.3M247.5 239.4L248.8 239.2M202.5 242.0L200.9 243.5M268.7 244.2L270.2 243.0M243.2 245.2L241.7 243.9M211.5 241.5L209.5 242.2M294.8 237.9L293.4 238.1M162.8 251.8L161.7 251.5M126.9 246.8L128.0 246.7M179.4 248.3L180.4 247.4M281.6 242.0L283.3 242.4M127.4 239.1L125.7 239.5M225.6 238.3L227.4 237.9M286.4 250.9L285.0 250.1M232.8 251.8L234.3 252.3M122.0 249.3L123.7 248.8M203.2 238.8L202.3 239.7M181.2 248.8L179.6 249.3M218.8 237.9L220.4 237.5M140.7 249.1L139.3 248.4M293.2 241.6L295.0 241.9M304.2 250.4L302.9 251.1M91.1 251.9L92.4 250.8M243.8 241.9L245.7 242.2M282.5 246.9L281.1 248.1M323.4 248.5L322.1 248.1M116.6 240.4L118.6 240.7M208.8 252.0L210.7 252.0M248.2 250.3L246.2 249.6M136.4 240.4L135.4 239.9M223.1 237.6L221.8 237.5M207.7 243.6L209.3 242.8M102.3 253.5L100.3 253.1M119.0 246.1L118.0 245.9M236.4 242.2L237.5 241.3M236.1 251.8L237.0 251.0M293.9 252.4L293.1 253.2M94.5 247.5L96.1 248.0M220.9 252.9L221.9 252.2M306.7 242.4L307.9 243.0M197.1 243.4L198.7 243.1M272.5 246.8L271.3 247.7M330.2 254.2L331.9 254.5M256.8 253.3L258.1 254.4M282.8 250.2L281.9 249.8M143.0 248.0L141.2 248.6M210.0 251.1L212.2 250.9M311.0 237.9L312.0 237.7M316.0 249.1L314.1 250.0M263.0 250.2L261.2 250.0M316.2 241.0L314.8 240.1M95.4 251.0L93.6 250.8M115.5 244.0L116.6 243.6M248.2 252.5L249.6 253.5M195.4 253.4L197.1 253.5M88.6 252.1L87.0 251.6M93.9 249.2L95.7 248.0M299.5 242.1L298.1 241.1M255.6 238.2L254.1 237.5M242.9 251.1L244.2 251.1M155.8 242.1L154.4 241.4M198.7 252.4L197.4 251.1M204.9 243.0L203.9 243.4M327.9 247.7L326.9 247.4M87.3 253.1L88.6 252.6M233.6 248.1L235.4 247.6M316.6 238.7L315.7 238.2M272.7 241.2L271.6 240.3M262.7 240.9L263.7 241.2M180.4 247.2L181.6 247.5M86.3 254.3L85.1 254.1M185.8 243.9L187.5 242.9M99.7 252.3L101.3 253.6M136.4 247.6L134.7 246.2M244.5 247.5L246.1 248.8M199.4 239.2L201.1 239.9M192.0 247.1L190.2 246.7M321.8 249.7L323.2 249.8M275.3 238.1L273.6 237.6M179.8 241.1L181.6 241.1M189.8 238.2L189.0 237.5M296.8 240.2L295.7 239.5M305.5 248.5L306.5 248.5M261.8 242.5L262.8 242.6M152.8 237.7L151.8 237.6M85.8 239.9L84.4 240.0M144.7 240.0L143.6 238.9M113.1 252.9L115.0 252.4M300.6 243.0L298.8 243.3M248.3 246.1L247.1 246.2M211.8 240.4L212.8 240.4M195.5 253.6L196.4 253.0M208.5 249.7L210.1 248.8M101.1 254.5L99.4 254.5M91.6 245.7L90.3 245.9M126.7 252.2L127.7 253.0M280.5 254.1L279.0 254.1M199.1 249.0L201.1 249.0M138.6 243.2L140.1 242.0M112.5 244.7L110.6 245.5M132.7 238.6L130.9 238.2M102.4 251.8L103.9 251.5M229.1 243.0L230.6 242.3M284.3 241.0L285.9 241.2M169.3 251.8L171.0 251.5M243.0 244.7L244.0 245.4M99.4 252.3L100.8 253.2M167.0 246.0L166.0 246.1M126.7 239.8L128.0 238.6M159.5 241.8L160.5 242.6M135.0 254.5L136.8 254.5M230.8 250.3L229.8 249.8M161.9 246.0L163.0 245.6M99.6 249.1L97.8 248.0M138.9 246.0L140.8 245.2M318.6 249.8L320.2 250.7M272.3 240.1L273.6 239.1M311.3 238.9L312.6 238.2M230.1 240.7L229.0 240.8M268.7 247.7L270.0 248.2M214.2 250.8L212.7 249.4M129.7 246.1L128.3 245.0M97.1 244.6L98.6 245.0M132.3 248.9L134.3 249.5M213.6 242.1L215.3 241.1M209.5 245.0L211.2 244.5M263.9 239.3L262.6 238.2M192.1 252.9L193.3 251.8M124.1 252.2L122.6 253.7M130.2 247.5L132.4 247.9M263.2 244.5L264.0 245.1M280.6 241.0L278.7 240.3M281.1 245.6L282.0 244.8M286.6 238.9L287.9 238.9M282.6 246.4L283.9 246.5M280.3 250.8L278.6 251.3M177.8 250.2L179.8 250.3M279.8 239.1L281.6 239.3M162.5 238.9L164.3 238.8M190.8 239.0L192.8 238.1M301.6 249.1L303.3 249.8M241.8 244.8L243.3 244.5M199.1 243.5L200.5 242.9M206.3 238.3L208.4 237.8M328.2 254.3L326.4 254.5M147.9 238.5L145.9 239.1M300.0 253.3L298.0 253.1M276.9 247.0L278.6 248.3M185.3 249.0L186.8 249.8M227.8 241.3L228.9 241.5M115.4 251.3L116.9 251.3M312.1 253.5L313.0 254.0M325.3 253.9L324.2 253.6M190.5 244.0L189.0 244.5M212.2 249.3L210.8 249.4M291.7 239.3L290.4 240.6M119.3 240.4L117.8 239.4M201.0 251.5L200.0 252.6M223.6 241.8L225.2 241.0M84.0 250.0L83.1 250.7M97.1 245.4L95.6 246.2M184.0 251.4L182.3 251.9M241.2 242.3L242.8 242.2M155.5 251.6L156.5 251.3M139.9 244.9L141.3 244.1M248.7 240.7L250.6 241.1M84.9 253.7L83.9 253.2M184.7 248.3L186.2 247.4M141.7 243.5L139.7 242.7M221.8 238.3L220.2 238.0M160.4 241.9L162.0 240.4M246.5 249.8L247.6 249.0M131.1 246.7L130.3 246.1M303.7 248.0L304.8 247.8M152.6 249.5L153.9 249.4M176.5 240.1L177.9 241.4M330.7 237.7L329.8 238.1M273.5 250.8L272.6 250.2M219.4 245.1L218.2 244.5M200.8 247.8L198.8 247.4M274.0 249.6L275.1 249.1M215.3 248.9L214.0 248.7M308.7 246.3L307.2 245.8M258.1 243.7L259.8 243.3M103.2 239.6L102.2 240.3M204.8 244.3L206.2 245.7M133.8 246.2L134.8 245.2M98.0 246.5L96.3 245.3M83.9 248.9L86.0 248.8M113.2 248.3L115.1 248.4M328.8 250.7L329.8 251.7M100.9 243.7L101.9 242.7M147.0 242.3L148.0 241.4M103.5 240.6L102.3 240.6M242.1 244.9L240.7 246.0M107.9 248.0L106.7 247.4M312.6 240.7L313.8 239.9M155.7 244.1L154.5 245.0M150.2 242.8L148.9 243.4M318.0 248.1L316.5 247.5M129.2 240.2L131.1 241.2M277.5 239.1L278.3 238.5M92.7 244.5L91.0 245.3M88.6 239.8L87.4 239.5M225.3 253.6L227.3 253.2M156.4 252.7L154.9 252.2M112.3 246.8L110.5 245.8M331.0 252.0L332.0 252.1M327.1 251.3L325.9 252.3M135.2 246.8L136.7 247.5M209.4 247.9L210.6 247.8M305.2 241.1L306.9 241.3M157.5 248.2L155.6 247.7M305.7 248.9L304.6 249.0M299.6 244.7L298.8 243.9M92.3 244.6L90.3 244.6M174.4 238.3L175.3 237.5M148.9 240.2L147.7 240.1M209.5 250.1L207.9 248.7M267.5 248.4L268.7 247.3M245.9 242.4L244.3 242.7M213.4 251.2L214.6 251.4M226.2 242.4L225.2 243.4M122.7 250.3L121.4 250.1M174.8 239.6L173.4 239.3M147.4 243.8L145.7 244.3M92.6 243.6L91.5 243.9M251.0 248.1L249.5 248.1M227.3 240.9L228.8 240.1M330.4 252.9L329.4 253.3M114.2 243.3L113.1 243.7M124.6 243.3L126.7 243.0M251.5 239.6L252.7 239.5M264.1 248.3L266.1 247.5M211.1 254.0L209.1 254.5M101.4 250.7L103.1 251.8M330.1 239.1L329.1 239.9M146.9 249.6L148.6 248.9M323.3 242.4L324.4 241.9M200.4 240.6L198.6 241.0M274.7 252.9L272.7 252.2M324.1 253.4L325.5 254.0M267.3 247.4L265.7 247.3M174.6 249.6L176.0 250.4M247.4 250.8L248.8 249.9M276.9 250.1L278.0 251.0M246.9 254.4L249.0 254.0M311.6 247.5L310.0 246.9M182.1 250.0L180.6 249.6M121.3 244.1L122.5 243.0M261.5 248.9L263.2 248.1M276.5 251.7L277.3 251.1M326.7 238.2L327.6 238.9M132.2 246.4L130.3 246.5M185.3 246.3L186.4 245.3M257.5 239.0L259.0 238.4M224.2 248.4L226.1 247.3M163.3 243.1L164.5 242.9M147.1 252.0L149.1 252.3M96.4 248.4L95.1 249.2M141.9 253.0L142.9 253.7M131.6 237.7L133.2 238.9M199.8 253.3L198.6 254.4M324.4 246.5L326.2 246.1M294.0 249.1L295.9 249.1M253.3 246.8L251.7 245.5M261.0 240.4L262.2 239.1M293.2 244.2L294.3 244.5M139.1 243.4L141.1 243.0M107.6 243.6L106.5 244.2M249.5 250.2L250.5 250.2M107.5 240.7L109.3 241.2M240.5 249.0L241.6 250.1M90.5 251.7L89.5 251.9M181.1 242.8L182.2 243.1M188.1 245.6L187.1 245.5M108.1 248.6L106.4 248.4M192.9 251.5L194.2 251.5M156.3 242.2L158.1 243.5M95.8 242.4L96.9 241.5M92.7 247.0L91.0 247.6M93.3 242.5L94.3 243.3M138.3 253.8L136.9 254.2M245.3 245.4L246.5 244.8M104.2 246.3L105.7 247.3M316.1 243.3L317.8 244.3M123.0 241.6L123.9 242.3M124.0 245.4L122.4 245.4M298.3 253.8L296.8 254.4M209.9 247.9L208.2 247.4M99.4 243.6L97.7 244.1M139.5 243.2L137.6 242.9M97.6 243.7L95.8 242.5M150.7 249.7L151.9 249.2M279.2 245.0L277.9 245.8M206.5 244.0L208.0 243.0M288.9 239.4L287.7 239.0M314.5 238.8L313.0 239.2M181.5 248.6L182.6 247.6M267.1 244.0L268.8 244.2M127.8 246.7L129.0 246.2M186.5 247.0L188.1 247.7M240.2 250.2L242.0 249.9M163.1 239.0L164.2 239.9M311.2 253.7L309.7 254.5M183.8 252.6L185.3 251.3M213.8 240.2L212.8 240.6M181.2 243.5L183.2 243.2M328.9 251.4L326.8 250.8M174.9 246.8L175.9 246.9M291.4 240.2L292.3 240.8M247.3 247.6L248.4 248.7M138.1 254.3L136.7 254.5M229.2 252.7L230.6 253.2M153.7 248.1L152.0 247.7M125.7 241.8L124.2 241.7M273.0 242.8L275.0 243.7M168.8 241.7L170.8 241.7M315.1 245.6L317.2 246.1M277.7 241.1L278.6 241.5M160.1 252.2L161.4 252.0M327.6 240.0L326.4 239.6M146.3 241.3L148.1 242.1M140.1 249.4L141.1 249.7M137.7 241.9L136.9 242.5M162.5 239.3L163.4 238.9M304.8 237.9L303.3 237.5M255.2 239.9L256.3 239.4M293.6 242.3L294.9 241.2M189.2 253.8L190.5 253.3M162.2 242.2L163.5 242.0M152.0 237.7L153.1 237.5M302.2 244.1L303.9 245.3M227.7 247.4L226.1 248.6M172.8 254.1L174.3 253.8M247.9 253.4L249.9 253.1M184.5 244.1L182.9 243.1M182.9 244.4L181.4 244.1M233.9 237.9L235.7 238.7M301.0 240.2L301.8 240.9M230.3 241.1L232.0 241.5M112.5 250.7L110.7 249.6M252.1 240.4L251.2 239.8M154.4 240.5L153.3 240.6M250.2 242.5L249.2 243.1M240.7 246.0L242.5 245.8M280.1 247.3L281.3 247.6M243.1 239.1L241.4 239.0M268.0 245.4L266.1 245.6M231.8 252.1L230.9 252.5M303.3 241.9L302.3 242.5M131.9 252.5L130.4 253.9M210.7 240.4L209.4 241.7M167.2 247.0L165.1 247.4M96.8 247.3L95.9 247.9M147.9 239.5L146.9 239.9M161.1 247.7L159.4 246.9M90.8 249.9L91.8 249.3M202.7 242.7L204.3 242.5M91.5 245.1L92.9 244.2M331.3 241.9L332.0 241.8M178.6 243.9L179.9 244.8M331.6 240.1L332.0 240.7M140.5 250.3L138.7 250.8M324.9 240.5L323.7 239.4M160.5 247.1L162.4 248.0M207.8 238.4L206.8 237.5M275.3 250.5L273.6 250.9M182.5 242.8L183.4 243.3M196.9 239.7L198.7 238.7M217.0 251.0L215.0 251.5M240.0 242.2L238.4 241.9M178.9 249.6L180.3 249.9M262.4 246.4L263.5 246.7M301.0 253.3L299.6 253.8M185.0 253.2L186.1 254.0M253.8 253.3L255.3 252.3M248.5 252.9L250.1 252.2M302.8 238.5L304.0 237.8M150.8 237.8L149.3 237.5M226.0 238.6L224.7 237.9M311.1 249.3L312.7 248.4M133.9 239.3L135.7 238.8M267.7 245.2L269.3 244.6M101.0 247.9L99.5 248.5M237.0 237.8L235.3 237.8M164.3 245.3L166.3 245.7M191.3 247.0L192.6 246.2M297.9 247.1L299.3 247.2M130.9 249.9L129.3 248.7M154.2 247.1L155.1 247.8M219.7 249.4L221.1 250.2M146.1 249.5L145.1 249.5M155.4 237.6L154.0 237.5M232.3 244.6L233.4 243.6M260.7 245.9L259.6 246.1M196.4 246.3L197.9 245.8M97.7 238.0L98.7 238.3M234.3 247.8L232.8 248.5M188.9 251.9L187.5 252.6M278.4 249.1L280.2 248.0M129.0 245.0L130.1 244.3M299.4 239.9L297.9 239.2M263.8 253.5L261.6 253.3M251.1 250.7L252.2 250.9M194.5 241.2L192.8 241.0M127.6 241.6L129.1 241.4M283.8 248.2L282.9 248.7M166.5 251.3L167.9 250.1M179.3 254.5L180.4 254.5M204.2 244.1L202.4 243.8M124.9 242.2L123.5 240.9M119.4 253.7L120.6 253.9M171.0 250.3L172.7 250.0M196.0 246.8L194.9 246.9M311.5 250.3L312.6 251.5M248.2 240.5L249.7 239.1M104.0 246.8L105.7 247.5M285.1 244.1L286.6 244.6M191.0 243.7L192.3 243.6M214.2 251.6L215.6 250.8M246.7 247.1L248.4 248.1M308.1 253.5L310.1 253.7M192.6 237.6L194.0 237.5M237.0 238.8L235.5 238.3" stroke="#a82020" stroke-width="0.9" fill="none"/>
<path d="M304.3 253.7L305.5 252.9M106.1 249.2L104.7 247.8M324.1 240.6L325.4 240.6M235.2 252.8L233.8 251.7M105.0 250.6L103.8 251.0M254.4 253.4L255.3 252.7M257.3 249.4L258.6 248.7M158.5 238.8L160.1 239.8M214.2 240.9L216.0 241.6M257.8 247.8L256.9 248.5M232.7 242.7L231.7 243.6M305.1 241.3L306.9 240.8M87.4 249.8L89.1 248.9M230.7 251.2L229.1 251.6M192.6 242.7L190.9 243.5M179.0 237.9L177.7 238.4M155.3 243.7L157.1 242.5M104.2 250.8L105.7 251.5M301.1 240.7L299.3 241.7M293.1 244.5L291.6 243.8M148.4 240.6L146.5 241.5M156.0 239.2L157.3 240.1M233.7 241.8L232.6 242.6M159.3 244.7L158.2 245.6M236.3 240.1L237.4 240.9M178.5 238.4L180.0 237.5M228.6 252.4L229.7 253.4M131.1 243.0L132.8 243.0M175.7 252.4L174.5 252.0M290.5 250.1L291.8 250.7M229.1 239.6L230.2 239.8M302.7 244.3L304.0 243.2M260.8 239.1L262.4 238.6M241.8 254.1L243.5 253.0M265.9 240.4L267.6 239.5M301.6 239.3L303.6 239.1M277.7 248.1L276.2 249.5M209.6 245.0L210.7 244.3M133.9 242.7L135.5 242.4M197.2 246.1L195.4 246.3M118.8 237.7L120.8 238.4M237.7 244.3L236.3 244.4M117.2 239.2L115.3 238.8M156.1 253.6L157.7 253.5M201.8 238.0L199.7 238.5M233.7 238.5L232.1 238.3M272.7 241.1L274.0 240.0M191.3 250.8L190.4 251.5M161.9 246.5L163.2 246.9M94.7 242.5L93.6 242.3M296.5 239.9L295.3 239.6M236.8 248.4L235.5 248.2M192.8 250.0L194.0 248.8M125.2 254.1L124.2 253.4M118.6 249.7L119.7 250.5M213.8 240.2L213.0 240.8M314.1 254.1L313.2 253.4M301.1 251.2L299.0 250.7M251.1 238.2L252.9 238.2M274.4 248.4L272.7 247.4M265.6 248.4L264.1 247.9M288.7 246.3L286.9 247.3M84.2 250.6L83.0 251.1M263.9 246.6L262.7 245.4M330.8 237.9L328.9 238.8M192.0 243.9L190.7 244.9M147.8 247.5L146.4 248.7M84.6 238.4L83.6 238.6M98.4 251.7L96.9 252.7M88.4 238.1L87.1 237.5M331.4 251.2L330.1 250.0M283.2 245.9L281.7 247.0M262.9 248.7L264.2 248.9M89.9 242.2L91.6 242.9M136.3 239.1L135.0 240.1M326.2 238.6L327.4 239.6M282.6 250.3L284.1 249.2M134.9 246.8L136.2 246.4M327.8 254.0L325.8 254.4M315.7 249.4L316.8 249.3M287.4 243.8L285.8 242.8M86.3 247.0L88.3 247.4M289.9 252.7L291.7 252.3M177.8 246.3L176.9 246.9M213.4 242.3L212.2 242.0M185.5 251.5L184.0 250.6M234.6 245.6L233.6 245.6M100.6 237.7L99.3 238.3M176.2 248.0L175.1 248.4M251.1 250.8L252.5 250.7M321.8 251.5L320.1 251.7M219.7 249.3L221.6 248.4M121.7 248.4L120.3 247.4M88.3 244.0L90.2 244.7M230.5 247.4L229.2 247.7M226.0 251.6L227.8 252.2M120.8 240.2L122.3 239.9M246.2 240.1L248.1 239.5M149.5 245.9L148.1 244.6M325.1 249.5L324.1 249.3M270.4 253.9L271.7 253.4M295.6 247.0L296.7 247.9M327.9 248.1L327.0 248.5M187.2 249.6L189.0 249.6M299.9 239.5L301.4 240.1M322.7 246.8L321.2 246.0M136.6 249.8L138.6 250.0M237.4 238.4L238.7 238.1M133.1 249.0L134.9 248.1M124.3 253.7L125.9 252.8M300.9 251.1L299.7 251.2M148.3 247.3L149.7 248.2M111.1 240.2L112.8 240.2M222.1 243.0L223.2 243.2M154.8 253.3L152.7 253.0M125.4 252.6L127.6 252.5M191.9 244.1L193.3 244.0M315.7 239.8L317.4 239.2M93.7 239.0L95.3 238.4M194.4 240.8L193.0 239.6M118.9 241.8L116.9 241.5M317.0 238.8L318.5 238.1M289.6 239.6L288.2 239.8M296.3 243.1L295.3 243.2M173.6 251.9L172.1 253.3M240.5 245.2L239.4 245.3M175.9 240.5L177.6 239.2M288.2 248.1L289.7 248.0M323.4 239.0L324.6 239.7M176.8 250.3L178.6 250.2M114.1 250.9L115.6 251.7M290.4 237.8L288.9 237.5M121.7 241.1L122.8 241.7M121.4 251.3L122.3 250.6M208.7 241.8L207.5 241.1M149.3 245.7L147.1 245.9M166.1 252.6L167.6 251.8M117.7 248.6L119.4 249.4M295.5 243.6L294.4 244.2M234.5 248.7L235.6 249.4M200.2 250.1L199.0 249.8M101.2 239.9L103.1 239.4M269.0 251.6L267.4 251.1M236.5 254.0L237.8 254.5M133.6 241.8L132.1 242.3M96.8 252.9L97.9 253.2M247.4 242.4L249.1 242.7M92.1 239.1L91.0 238.1M136.4 240.4L135.0 239.2M164.4 238.6L162.6 238.2M244.0 249.2L242.9 249.0M323.6 239.7L322.3 239.7M178.1 238.7L179.6 238.3M194.9 238.6L196.4 237.6M249.0 248.4L247.5 249.2M228.8 242.4L227.3 241.2M177.1 247.7L178.3 247.0M287.4 244.6L288.8 244.6M250.8 252.3L249.6 253.0M215.8 251.4L218.0 251.6M100.6 252.9L99.8 253.6M83.3 245.3L85.5 245.3M142.4 239.8L143.9 238.8M138.5 239.3L136.9 239.6M106.9 251.0L105.5 250.6M280.6 245.9L278.8 245.7M106.7 254.3L105.3 254.5M308.9 238.7L307.8 237.6M323.9 238.9L321.9 239.4M142.8 241.9L144.0 241.1M154.9 244.0L153.4 243.2M232.8 247.1L233.7 247.7M114.4 251.9L115.2 251.2M110.7 240.2L111.7 239.6M121.6 241.4L123.1 241.6M286.9 248.0L285.3 249.4M115.4 254.2L117.0 254.5M262.8 240.1L264.1 240.2M293.1 242.1L291.5 242.3M158.2 247.8L159.7 247.4M230.1 245.9L232.0 246.5M193.1 250.5L194.1 249.9M119.5 254.4L118.4 253.5M201.4 245.4L203.1 245.4M195.3 243.7L196.3 244.6M89.2 242.1L90.4 242.9M207.8 249.6L209.3 248.8M308.3 238.1L307.3 237.5M276.1 248.8L274.8 247.7M153.0 248.1L154.3 247.3M246.4 251.6L248.4 252.4M175.0 240.5L177.0 241.1M294.6 241.8L293.3 241.0M122.1 249.5L120.5 248.5M281.0 246.8L279.4 247.9M130.5 249.2L129.0 250.7M167.4 246.6L169.6 246.5M171.5 239.5L170.2 238.9M298.7 248.0L300.6 247.7M268.6 251.7L269.8 250.6M318.7 242.5L320.0 241.3M210.2 240.6L211.9 241.2M231.9 253.9L230.3 253.0M95.2 244.9L96.1 245.6M148.4 249.4L147.1 249.0M220.1 238.0L221.8 238.4M264.7 252.9L265.8 252.7M146.9 240.3L145.8 239.6M164.2 250.9L162.7 251.3M153.6 254.0L151.8 254.5M232.9 249.0L234.8 249.7M105.4 237.5L104.4 238.1M281.1 252.9L282.1 253.4M313.6 238.6L314.4 239.2M258.3 244.7L257.4 245.6M189.9 253.9L187.9 254.5M278.6 243.6L280.3 244.2M200.9 241.3L202.0 242.2M145.0 240.7L143.5 240.0M270.1 251.2L269.1 250.5M286.1 249.7L287.3 249.4M239.5 243.3L241.2 244.1M226.6 238.5L224.6 238.6M169.7 248.1L168.3 246.9M137.5 241.1L139.4 240.5M269.4 250.4L271.2 251.2M329.9 238.0L331.9 237.5M261.5 240.9L260.3 240.8M111.4 238.6L113.4 239.1M282.0 240.9L283.3 240.9M314.4 240.0L316.2 238.7M150.5 238.1L149.0 238.1M207.5 252.5L205.9 252.8M284.1 252.5L282.7 251.5M302.3 237.9L300.3 237.5M85.3 244.4L86.8 245.6M208.9 241.5L207.2 242.3M103.4 251.4L104.7 252.1M320.3 251.9L321.9 253.4M262.9 251.4L261.2 252.5M165.7 242.7L167.4 242.4M186.7 250.5L187.6 251.4M286.7 245.9L285.8 244.9M172.9 239.6L173.8 240.4M203.3 250.5L202.2 250.6M94.2 240.5L95.4 240.4M127.4 238.1L126.4 237.8M320.9 250.5L319.4 251.6M207.6 244.1L206.1 244.2M135.8 254.4L136.8 254.5M156.5 254.1L158.3 254.5M160.0 238.4L159.0 238.5M318.7 242.6L317.0 241.2M84.2 244.6L83.0 244.2M189.7 253.7L188.6 254.5M169.9 249.1L167.9 248.3M282.6 241.0L281.6 240.1M319.2 243.1L320.2 243.7M328.6 241.5L327.6 240.8M130.4 250.1L128.3 250.2M132.7 246.9L131.7 246.6M190.4 247.9L191.9 246.6M212.0 239.1L213.9 240.2M94.3 247.3L93.5 248.1M176.0 250.9L177.5 251.7M108.5 238.6L107.4 238.4M99.2 254.0L100.1 253.1M213.3 241.5L214.5 241.5M322.0 249.1L322.8 248.3M286.3 249.7L285.2 250.2M84.6 246.9L83.7 245.9M288.8 241.8L287.8 241.2M135.0 245.2L135.8 245.9M215.5 239.2L216.3 238.5M169.9 253.1L168.5 253.8M263.4 243.1L261.6 243.2M264.5 240.6L265.5 240.0M246.3 251.2L244.5 252.3M271.6 245.2L269.8 244.6M178.2 238.6L179.3 239.8M146.2 251.5L144.7 250.9M194.8 241.9L195.8 241.8M324.7 240.0L326.7 240.0M298.7 240.6L297.7 241.5M117.6 250.2L116.1 249.4M213.5 250.5L212.6 251.0M315.9 241.6L314.0 241.1M270.6 253.4L268.8 254.1M175.1 251.6L176.1 250.6M206.2 249.6L204.7 249.8M227.0 249.1L227.9 249.9M215.8 253.9L217.6 254.5M241.1 242.3L242.1 242.8M255.2 249.6L253.2 249.3M166.8 251.7L166.0 251.0M141.1 246.0L142.0 245.4M191.4 253.2L190.4 252.9M87.2 248.7L88.7 247.5M184.8 243.5L186.4 243.3M320.4 239.2L321.5 239.6M135.9 247.2L134.4 245.8M315.7 242.1L317.0 241.3M300.2 244.8L301.3 245.3M173.5 248.2L175.3 248.0M198.3 251.5L197.1 251.0M97.1 251.3L95.9 252.1M301.5 248.7L303.0 249.3M270.4 248.4L269.4 248.2M193.7 244.5L194.7 244.2M142.3 244.0L140.9 244.3M202.5 252.1L201.1 252.1M179.9 238.6L178.3 237.5M252.0 241.9L253.4 240.7M135.8 242.8L137.2 241.7M103.9 253.4L105.1 254.3M142.3 243.8L143.6 243.2M179.1 240.6L180.6 240.4M159.7 253.9L158.5 254.1M212.3 241.5L211.2 240.4M87.3 251.6L86.2 252.6M156.7 246.7L158.2 247.8M112.9 240.3L111.6 240.9M250.9 247.2L251.9 246.8M225.4 245.9L223.7 245.4M237.0 244.5L235.2 245.6M244.6 253.2L243.1 252.0M290.4 241.9L291.4 241.4M84.2 239.0L83.0 238.0M237.6 243.0L236.4 242.3M156.7 249.5L157.8 249.7M117.9 240.0L119.6 240.0M186.7 242.6L187.8 243.2M219.3 249.3L220.7 249.5M148.6 253.2L147.5 252.1M177.3 243.3L176.3 243.6M236.2 246.9L237.7 246.7M285.3 238.8L286.3 238.9M253.5 254.1L255.1 253.6M255.2 251.1L254.1 251.1M124.3 238.1L125.8 237.5M261.2 252.1L262.2 253.0M92.5 241.0L91.4 241.4M178.4 254.4L180.4 253.6M142.2 249.2L143.2 249.8M258.5 241.8L260.3 240.9M310.4 241.9L312.0 241.3M125.7 243.7L126.8 243.3M114.4 249.8L115.8 248.6M245.1 245.8L243.7 246.0M168.7 238.9L170.2 238.5M194.9 239.7L193.8 240.7M200.4 252.4L198.4 253.1M207.4 248.4L205.3 247.7M292.0 241.5L293.4 242.1M305.1 244.3L303.5 243.9M211.8 241.4L210.0 240.9M185.9 247.5L184.7 246.9M306.6 250.8L307.9 251.0M149.6 249.1L147.9 249.1M185.4 240.2L184.2 240.6M285.8 240.1L284.5 240.2M206.9 253.1L205.1 252.3M219.1 243.9L220.9 243.7M112.2 248.7L110.6 249.9M326.8 254.4L328.3 253.3M108.4 251.4L107.0 251.6M252.7 251.6L250.6 251.7M101.7 243.3L102.9 242.4M186.2 252.8L184.6 251.8M252.1 241.6L250.5 241.8M258.2 245.3L256.3 246.2M96.1 241.2L97.6 241.7M259.0 238.2L260.5 238.5M181.2 239.2L180.3 238.3M290.4 254.3L289.2 254.5M220.3 243.1L219.3 242.7M224.1 241.6L222.1 241.2M170.5 249.6L172.3 248.6M168.0 254.4L166.9 254.5M289.0 240.6L287.9 240.9M254.6 241.8L252.8 240.6M299.0 249.5L298.2 250.1M188.5 241.0L189.5 241.8M118.5 239.4L116.9 239.9M183.2 238.8L181.3 237.6M193.8 245.9L195.2 247.1M266.7 240.0L265.1 239.9M278.8 239.3L280.3 240.5M167.5 251.9L166.4 251.7M103.4 252.7L101.4 252.3M129.2 251.6L127.3 252.6M299.1 247.9L298.2 248.4M200.1 247.1L198.6 246.9" stroke="#8a8a8a" stroke-width="0.9" fill="none"/>
</g>
<path d="M296 277.5V262M296 277.5H312" stroke="#fff" stroke-width="1.9" fill="none"/>
<path d="M296 258.3L293.2 265.6L296 264.2L298.8 265.6Z" fill="#fff"/>
<path d="M317 277.5L309.7 274.7L311.1 277.5L309.7 280.3Z" fill="#fff"/>
<text x="284.8" y="264.6" font-size="13" font-style="italic" fill="#fff">y</text>
<text x="320.3" y="280.6" font-size="13" font-style="italic" fill="#fff">x</text>
<text x="348.2" y="18" font-size="16" font-weight="bold" fill="#1a1a1a">b</text>
<rect x="414.98" y="223.80" width="23" height="2.50" fill="#000080"/>
<rect x="414.98" y="222.80" width="23" height="1.00" fill="#ff0000"/>
<rect x="414.98" y="217.80" width="23" height="5.00" fill="#ff8000"/>
<rect x="414.98" y="191.80" width="23" height="26.00" fill="#800080"/>
<rect x="439.96" y="226.30" width="23" height="6.70" fill="#000080"/>
<rect x="439.96" y="222.80" width="23" height="3.50" fill="#ff0000"/>
<rect x="439.96" y="216.60" width="23" height="6.20" fill="#ff8000"/>
<rect x="439.96" y="161.00" width="23" height="55.60" fill="#800080"/>
<rect x="489.92" y="224.70" width="23" height="1.60" fill="#000080"/>
<rect x="489.92" y="223.00" width="23" height="1.70" fill="#ff0000"/>
<rect x="489.92" y="213.90" width="23" height="9.10" fill="#ff8000"/>
<rect x="489.92" y="150.00" width="23" height="63.90" fill="#800080"/>
<rect x="539.88" y="217.60" width="23" height="8.70" fill="#000080"/>
<rect x="539.88" y="217.30" width="23" height="0.30" fill="#ff0000"/>
<rect x="539.88" y="214.80" width="23" height="2.50" fill="#ff8000"/>
<rect x="539.88" y="111.50" width="23" height="103.30" fill="#800080"/>
<rect x="589.84" y="218.20" width="23" height="8.10" fill="#000080"/>
<rect x="589.84" y="217.90" width="23" height="0.30" fill="#ff0000"/>
<rect x="589.84" y="216.70" width="23" height="1.20" fill="#ff8000"/>
<rect x="589.84" y="77.60" width="23" height="139.10" fill="#800080"/>
<rect x="639.80" y="214.80" width="23" height="11.50" fill="#000080"/>
<rect x="639.80" y="214.50" width="23" height="0.30" fill="#ff0000"/>
<rect x="639.80" y="211.80" width="23" height="2.70" fill="#ff8000"/>
<rect x="639.80" y="58.30" width="23" height="153.50" fill="#800080"/>
<path d="M400.8 226.3H676.3" stroke="#111" stroke-width="1.5" stroke-dasharray="6.3 4.65"/>
<rect x="401.5" y="28.0" width="274.80" height="231.30" fill="none" stroke="#111" stroke-width="1.4"/>
<path d="M401.5 242.82h3M401.5 226.30h5.5M401.5 209.78h3M401.5 193.26h5.5M401.5 176.74h3M401.5 160.22h5.5M401.5 143.70h3M401.5 127.18h5.5M401.5 110.66h3M401.5 94.14h5.5M401.5 77.62h3M401.5 61.10h5.5M401.5 44.58h3M413.99 259.3v-3M426.48 259.3v-5.5M438.97 259.3v-3M451.46 259.3v-5.5M463.95 259.3v-3M476.44 259.3v-5.5M488.93 259.3v-3M501.42 259.3v-5.5M513.91 259.3v-3M526.40 259.3v-5.5M538.89 259.3v-3M551.38 259.3v-5.5M563.87 259.3v-3M576.36 259.3v-5.5M588.85 259.3v-3M601.34 259.3v-5.5M613.83 259.3v-3M626.32 259.3v-5.5M638.81 259.3v-3M651.30 259.3v-5.5M663.79 259.3v-3" stroke="#111" stroke-width="1.3"/>
<text transform="translate(395.4 262.55) scale(1 1.045)" font-size="13.6" text-anchor="end" fill="#111">-0.2</text>
<text transform="translate(395.4 230.75) scale(1 1.045)" font-size="13.6" text-anchor="end" fill="#111">0.0</text>
<text transform="translate(395.4 195.85) scale(1 1.045)" font-size="13.6" text-anchor="end" fill="#111">0.2</text>
<text transform="translate(395.4 163.75) scale(1 1.045)" font-size="13.6" text-anchor="end" fill="#111">0.4</text>
<text transform="translate(395.4 131.25) scale(1 1.045)" font-size="13.6" text-anchor="end" fill="#111">0.6</text>
<text transform="translate(395.4 98.15) scale(1 1.045)" font-size="13.6" text-anchor="end" fill="#111">0.8</text>
<text transform="translate(395.4 64.30) scale(1 1.045)" font-size="13.6" text-anchor="end" fill="#111">1.0</text>
<text transform="translate(395.4 30.80) scale(1 1.045)" font-size="13.6" text-anchor="end" fill="#111">1.2</text>
<text transform="translate(401.50 273.5) scale(1 1.045)" font-size="13.6" text-anchor="middle" fill="#111">0</text>
<text transform="translate(426.48 273.5) scale(1 1.045)" font-size="13.6" text-anchor="middle" fill="#111">1</text>
<text transform="translate(451.46 273.5) scale(1 1.045)" font-size="13.6" text-anchor="middle" fill="#111">2</text>
<text transform="translate(476.44 273.5) scale(1 1.045)" font-size="13.6" text-anchor="middle" fill="#111">3</text>
<text transform="translate(501.42 273.5) scale(1 1.045)" font-size="13.6" text-anchor="middle" fill="#111">4</text>
<text transform="translate(526.40 273.5) scale(1 1.045)" font-size="13.6" text-anchor="middle" fill="#111">5</text>
<text transform="translate(551.38 273.5) scale(1 1.045)" font-size="13.6" text-anchor="middle" fill="#111">6</text>
<text transform="translate(576.36 273.5) scale(1 1.045)" font-size="13.6" text-anchor="middle" fill="#111">7</text>
<text transform="translate(601.34 273.5) scale(1 1.045)" font-size="13.6" text-anchor="middle" fill="#111">8</text>
<text transform="translate(626.32 273.5) scale(1 1.045)" font-size="13.6" text-anchor="middle" fill="#111">9</text>
<text transform="translate(651.30 273.5) scale(1 1.045)" font-size="13.6" text-anchor="middle" fill="#111">10</text>
<text transform="translate(676.28 273.5) scale(1 1.045)" font-size="13.6" text-anchor="middle" fill="#111">11</text>
<text x="541.75" y="287.2" font-size="13.7" text-anchor="middle" fill="#111">Stretch ratio, λ</text>
<text transform="translate(367.9 144.3) rotate(-90)" font-size="13.8" text-anchor="middle" fill="#111">Thermal conductivity, <tspan font-style="italic">κ</tspan> (W m<tspan font-size="7.6" dy="-4.3">-1</tspan><tspan dy="4.3"> K</tspan><tspan font-size="7.6" dy="-4.3">-1</tspan><tspan dy="4.3">)</tspan></text>
<rect x="411.7" y="37.80" width="17.2" height="10.6" fill="#000080"/>
<text x="434.0" y="47.40" font-size="13.8" fill="#111">Cross correlation</text>
<rect x="411.7" y="53.60" width="17.2" height="10.6" fill="#ff0000"/>
<text x="434.5" y="63.20" font-size="13.8" fill="#111">Convection</text>
<rect x="411.7" y="69.40" width="17.2" height="10.6" fill="#ff8000"/>
<text x="435.0" y="79.00" font-size="13.8" fill="#111">Non-valence</text>
<rect x="411.7" y="85.20" width="17.2" height="10.6" fill="#800080"/>
<text x="435.0" y="94.80" font-size="13.8" fill="#111">Valence</text>
<text x="0.3" y="308.6" font-size="16" font-weight="bold" fill="#1a1a1a">c</text>
<rect x="59.2" y="314.6" width="275.00" height="231.40" fill="none" stroke="#222" stroke-width="1.5"/>
<path d="M59.2 522.87h3M59.2 499.74h5.5M59.2 476.61h3M59.2 453.48h5.5M59.2 430.35h3M59.2 407.22h5.5M59.2 384.09h3M59.2 360.96h5.5M59.2 337.83h3M71.70 546.0v-3M84.20 546.0v-5.5M96.70 546.0v-3M109.20 546.0v-5.5M121.70 546.0v-3M134.20 546.0v-5.5M146.70 546.0v-3M159.20 546.0v-5.5M171.70 546.0v-3M184.20 546.0v-5.5M196.70 546.0v-3M209.20 546.0v-5.5M221.70 546.0v-3M234.20 546.0v-5.5M246.70 546.0v-3M259.20 546.0v-5.5M271.70 546.0v-3M284.20 546.0v-5.5M296.70 546.0v-3M309.20 546.0v-5.5M321.70 546.0v-3" stroke="#222" stroke-width="1.3"/>
<text transform="translate(53 551.15) scale(1 1.045)" font-size="13.6" text-anchor="end" fill="#111">0.0</text>
<text transform="translate(53 505.05) scale(1 1.045)" font-size="13.6" text-anchor="end" fill="#111">0.3</text>
<text transform="translate(53 458.65) scale(1 1.045)" font-size="13.6" text-anchor="end" fill="#111">0.6</text>
<text transform="translate(53 411.85) scale(1 1.045)" font-size="13.6" text-anchor="end" fill="#111">0.9</text>
<text transform="translate(53 365.45) scale(1 1.045)" font-size="13.6" text-anchor="end" fill="#111">1.2</text>
<text transform="translate(53 318.65) scale(1 1.045)" font-size="13.6" text-anchor="end" fill="#111">1.5</text>
<text transform="translate(84.60 560.9) scale(1 1.045)" font-size="13.6" text-anchor="middle" fill="#111">1</text>
<text transform="translate(109.60 560.9) scale(1 1.045)" font-size="13.6" text-anchor="middle" fill="#111">2</text>
<text transform="translate(134.60 560.9) scale(1 1.045)" font-size="13.6" text-anchor="middle" fill="#111">3</text>
<text transform="translate(159.60 560.9) scale(1 1.045)" font-size="13.6" text-anchor="middle" fill="#111">4</text>
<text transform="translate(184.60 560.9) scale(1 1.045)" font-size="13.6" text-anchor="middle" fill="#111">5</text>
<text transform="translate(209.60 560.9) scale(1 1.045)" font-size="13.6" text-anchor="middle" fill="#111">6</text>
<text transform="translate(234.60 560.9) scale(1 1.045)" font-size="13.6" text-anchor="middle" fill="#111">7</text>
<text transform="translate(259.60 560.9) scale(1 1.045)" font-size="13.6" text-anchor="middle" fill="#111">8</text>
<text transform="translate(284.60 560.9) scale(1 1.045)" font-size="13.6" text-anchor="middle" fill="#111">9</text>
<text transform="translate(309.60 560.9) scale(1 1.045)" font-size="13.6" text-anchor="middle" fill="#111">10</text>
<text transform="translate(334.60 560.9) scale(1 1.045)" font-size="13.6" text-anchor="middle" fill="#111">11</text>
<text x="196" y="577.3" font-size="13.7" text-anchor="middle" fill="#111">Stretch ratio, <tspan font-style="italic">λ</tspan></text>
<text transform="translate(22.5 423.3) rotate(-90)" font-size="13.9" text-anchor="middle" fill="#111">Thermal conductivity, <tspan font-style="italic">κ</tspan> (W m<tspan font-size="7.6" dy="-4.3">-1</tspan><tspan dy="4.3">K</tspan><tspan font-size="7.6" dy="-4.3">-1</tspan><tspan dy="4.3">)</tspan></text>
<circle cx="83.70" cy="502.14" r="4.4" fill="#be1e2d"/>
<circle cx="108.70" cy="479.94" r="4.4" fill="#be1e2d"/>
<circle cx="158.70" cy="459.89" r="4.4" fill="#be1e2d"/>
<circle cx="208.70" cy="419.65" r="4.4" fill="#be1e2d"/>
<circle cx="258.70" cy="390.04" r="4.4" fill="#be1e2d"/>
<circle cx="308.70" cy="364.75" r="4.4" fill="#be1e2d"/>
<text x="347.3" y="312.5" font-size="16" font-weight="bold" fill="#1a1a1a">d</text>
<rect x="401.8" y="313.4" width="275.30" height="231.10" fill="none" stroke="#222" stroke-width="1.5"/>
<path d="M401.8 523.50h5.5M401.8 502.49h3M401.8 481.48h5.5M401.8 460.47h3M401.8 439.46h5.5M401.8 418.45h3M401.8 397.44h5.5M401.8 376.43h3M401.8 355.42h5.5M401.8 334.41h3M414.31 544.5v-3M426.83 544.5v-5.5M439.35 544.5v-3M451.86 544.5v-5.5M464.38 544.5v-3M476.89 544.5v-5.5M489.41 544.5v-3M501.92 544.5v-5.5M514.44 544.5v-3M526.95 544.5v-5.5M539.47 544.5v-3M551.98 544.5v-5.5M564.50 544.5v-3M577.01 544.5v-5.5M589.53 544.5v-3M602.04 544.5v-5.5M614.56 544.5v-3M627.07 544.5v-5.5M639.59 544.5v-3M652.10 544.5v-5.5M664.62 544.5v-3" stroke="#222" stroke-width="1.3"/>
<text transform="translate(394.3 527.65) scale(1 1.045)" font-size="13.6" text-anchor="end" fill="#111">0.0</text>
<text transform="translate(394.3 485.63) scale(1 1.045)" font-size="13.6" text-anchor="end" fill="#111">0.1</text>
<text transform="translate(394.3 443.61) scale(1 1.045)" font-size="13.6" text-anchor="end" fill="#111">0.2</text>
<text transform="translate(394.3 401.59) scale(1 1.045)" font-size="13.6" text-anchor="end" fill="#111">0.3</text>
<text transform="translate(394.3 359.57) scale(1 1.045)" font-size="13.6" text-anchor="end" fill="#111">0.4</text>
<text transform="translate(394.3 317.55) scale(1 1.045)" font-size="13.6" text-anchor="end" fill="#111">0.5</text>
<text transform="translate(427.13 559.7) scale(1 1.045)" font-size="13.6" text-anchor="middle" fill="#111">1</text>
<text transform="translate(452.16 559.7) scale(1 1.045)" font-size="13.6" text-anchor="middle" fill="#111">2</text>
<text transform="translate(477.19 559.7) scale(1 1.045)" font-size="13.6" text-anchor="middle" fill="#111">3</text>
<text transform="translate(502.22 559.7) scale(1 1.045)" font-size="13.6" text-anchor="middle" fill="#111">4</text>
<text transform="translate(527.25 559.7) scale(1 1.045)" font-size="13.6" text-anchor="middle" fill="#111">5</text>
<text transform="translate(552.28 559.7) scale(1 1.045)" font-size="13.6" text-anchor="middle" fill="#111">6</text>
<text transform="translate(577.31 559.7) scale(1 1.045)" font-size="13.6" text-anchor="middle" fill="#111">7</text>
<text transform="translate(602.34 559.7) scale(1 1.045)" font-size="13.6" text-anchor="middle" fill="#111">8</text>
<text transform="translate(627.37 559.7) scale(1 1.045)" font-size="13.6" text-anchor="middle" fill="#111">9</text>
<text transform="translate(652.40 559.7) scale(1 1.045)" font-size="13.6" text-anchor="middle" fill="#111">10</text>
<text transform="translate(677.43 559.7) scale(1 1.045)" font-size="13.6" text-anchor="middle" fill="#111">11</text>
<text x="539" y="575.4" font-size="13.7" text-anchor="middle" fill="#111">Stretch ratio, <tspan font-style="italic">λ</tspan></text>
<text transform="translate(368.1 417.9) rotate(-90)" font-size="13.5" text-anchor="middle" fill="#111">Order parameter</text>
<circle cx="426.48" cy="523.50" r="4.4" fill="#2e3192"/>
<circle cx="451.51" cy="513.21" r="4.4" fill="#2e3192"/>
<circle cx="501.57" cy="491.35" r="4.4" fill="#2e3192"/>
<circle cx="551.63" cy="472.03" r="4.4" fill="#2e3192"/>
<circle cx="601.69" cy="454.38" r="4.4" fill="#2e3192"/>
<circle cx="651.75" cy="430.01" r="4.4" fill="#2e3192"/>
<circle cx="426.48" cy="522.24" r="4.4" fill="#be1e2d"/>
<circle cx="451.51" cy="457.11" r="4.4" fill="#be1e2d"/>
<circle cx="501.57" cy="407.10" r="4.4" fill="#be1e2d"/>
<circle cx="551.63" cy="376.01" r="4.4" fill="#be1e2d"/>
<circle cx="601.69" cy="352.90" r="4.4" fill="#be1e2d"/>
<circle cx="651.75" cy="325.17" r="4.4" fill="#be1e2d"/>
<rect x="413" y="326" width="57.6" height="46.8" fill="none" stroke="#222" stroke-width="1.3"/>
<circle cx="423" cy="336.3" r="4.4" fill="#be1e2d"/>
<circle cx="422.4" cy="356.1" r="4.4" fill="#2e3192"/>
<text x="432.6" y="341.3" font-size="13.5" font-style="italic" fill="#111">p</text><text x="439.9" y="345.9" font-size="8.3" fill="#111">2,x</text>
<text x="431.6" y="361.3" font-size="13.5" font-style="italic" fill="#111">p</text><text x="438.4" y="366.2" font-size="8.3" fill="#111">2,global</text>
</svg>
</body></html>
